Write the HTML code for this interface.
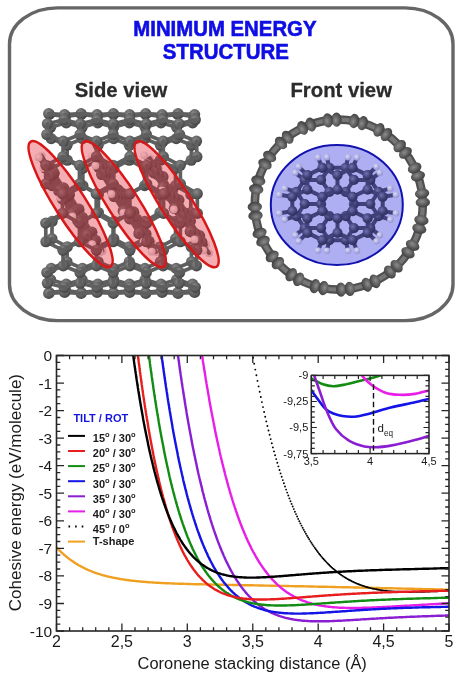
<!DOCTYPE html>
<html><head><meta charset="utf-8"><title>Minimum energy structure</title>
<style>html,body{margin:0;padding:0;background:#fff;}svg{display:block;}</style>
</head><body>
<svg width="463" height="680" viewBox="0 0 463 680">
<defs>
<radialGradient id="gb" cx="0.38" cy="0.35" r="0.7"><stop offset="0" stop-color="#9a9a9a"/><stop offset="0.5" stop-color="#5e5e5e"/><stop offset="1" stop-color="#3a3a3a"/></radialGradient>
<linearGradient id="gs" x1="0" y1="0" x2="0" y2="1"><stop offset="0" stop-color="#777"/><stop offset="1" stop-color="#4a4a4a"/></linearGradient>
<radialGradient id="gh" cx="0.38" cy="0.35" r="0.7"><stop offset="0" stop-color="#ffffff"/><stop offset="1" stop-color="#c8c8c8"/></radialGradient>
<clipPath id="plotclip"><rect x="56.5" y="355.5" width="392.5" height="275.5"/></clipPath>
<clipPath id="insclip"><rect x="311.3" y="375.4" width="117.7" height="78.2"/></clipPath>
</defs>
<rect width="463" height="680" fill="#fff"/>
<path d="M57.5,7.9 H405 A48,36 0 0 1 453,43.9 V284.6 A48,36 0 0 1 405,320.6 H57.5 A48,36 0 0 1 9.5,284.6 V43.9 A48,36 0 0 1 57.5,7.9 Z" fill="none" stroke="#666" stroke-width="3.4"/>
<text x="133.3" y="35.6" font-family="'Liberation Sans', Arial, Helvetica, sans-serif" font-weight="bold" font-size="21.4" fill="#0e0ee4" stroke="#0e0ee4" stroke-width="0.6" textLength="183.2" lengthAdjust="spacingAndGlyphs">MINIMUM ENERGY</text>
<text x="162.8" y="59" font-family="'Liberation Sans', Arial, Helvetica, sans-serif" font-weight="bold" font-size="21.4" fill="#0e0ee4" stroke="#0e0ee4" stroke-width="0.6" textLength="126" lengthAdjust="spacingAndGlyphs">STRUCTURE</text>
<text x="121" y="96.7" font-family="'Liberation Sans', Arial, Helvetica, sans-serif" font-weight="bold" font-size="20.3" fill="#2b2b2b" stroke="#2b2b2b" stroke-width="0.3" text-anchor="middle">Side view</text>
<text x="341.2" y="96.7" font-family="'Liberation Sans', Arial, Helvetica, sans-serif" font-weight="bold" font-size="20.3" fill="#2b2b2b" stroke="#2b2b2b" stroke-width="0.3" text-anchor="middle">Front view</text>
<defs><radialGradient id="gm" cx="0.38" cy="0.35" r="0.7"><stop offset="0" stop-color="#b07078"/><stop offset="0.55" stop-color="#7e3c44"/><stop offset="1" stop-color="#5a2830"/></radialGradient><radialGradient id="gmh" cx="0.38" cy="0.35" r="0.7"><stop offset="0" stop-color="#ffe8ea"/><stop offset="1" stop-color="#e8a8ae"/></radialGradient><radialGradient id="gn" cx="0.38" cy="0.35" r="0.7"><stop offset="0" stop-color="#7070b0"/><stop offset="0.55" stop-color="#404078"/><stop offset="1" stop-color="#2c2c5a"/></radialGradient><radialGradient id="gnh" cx="0.38" cy="0.35" r="0.7"><stop offset="0" stop-color="#dcdcf8"/><stop offset="1" stop-color="#8c8cd0"/></radialGradient><radialGradient id="gr" cx="0.4" cy="0.35" r="0.75"><stop offset="0" stop-color="#8a8a8a"/><stop offset="0.6" stop-color="#5a5a5a"/><stop offset="1" stop-color="#3c3c3c"/></radialGradient></defs>
<g id="tube"><line x1="67.6" y1="212.5" x2="67.6" y2="194.5" stroke="#5f5f5f" stroke-width="3.7" stroke-linecap="round"/><line x1="98.4" y1="212.5" x2="98.4" y2="194.5" stroke="#5f5f5f" stroke-width="3.7" stroke-linecap="round"/><line x1="129.2" y1="212.5" x2="129.2" y2="194.5" stroke="#5f5f5f" stroke-width="3.7" stroke-linecap="round"/><line x1="160" y1="212.5" x2="160" y2="194.5" stroke="#5f5f5f" stroke-width="3.7" stroke-linecap="round"/><line x1="190.8" y1="212.5" x2="190.8" y2="194.5" stroke="#5f5f5f" stroke-width="3.7" stroke-linecap="round"/><circle cx="67.6" cy="194.5" r="5.6" fill="url(#gr)"/><circle cx="98.4" cy="194.5" r="5.6" fill="url(#gr)"/><circle cx="129.2" cy="194.5" r="5.6" fill="url(#gr)"/><circle cx="160" cy="194.5" r="5.6" fill="url(#gr)"/><circle cx="190.8" cy="194.5" r="5.6" fill="url(#gr)"/><circle cx="67.6" cy="212.5" r="5.6" fill="url(#gr)"/><circle cx="98.4" cy="212.5" r="5.6" fill="url(#gr)"/><circle cx="129.2" cy="212.5" r="5.6" fill="url(#gr)"/><circle cx="160" cy="212.5" r="5.6" fill="url(#gr)"/><circle cx="190.8" cy="212.5" r="5.6" fill="url(#gr)"/><line x1="52.1" y1="221.4" x2="67.6" y2="212.5" stroke="#5f5f5f" stroke-width="3.7" stroke-linecap="round"/><line x1="52.1" y1="185.6" x2="67.6" y2="194.5" stroke="#5f5f5f" stroke-width="3.7" stroke-linecap="round"/><line x1="67.6" y1="212.5" x2="82.9" y2="221.4" stroke="#5f5f5f" stroke-width="3.7" stroke-linecap="round"/><line x1="67.6" y1="194.5" x2="82.9" y2="185.6" stroke="#5f5f5f" stroke-width="3.7" stroke-linecap="round"/><line x1="82.9" y1="221.4" x2="98.4" y2="212.5" stroke="#5f5f5f" stroke-width="3.7" stroke-linecap="round"/><line x1="82.9" y1="185.6" x2="98.4" y2="194.5" stroke="#5f5f5f" stroke-width="3.7" stroke-linecap="round"/><line x1="98.4" y1="212.5" x2="113.8" y2="221.4" stroke="#5f5f5f" stroke-width="3.7" stroke-linecap="round"/><line x1="98.4" y1="194.5" x2="113.8" y2="185.6" stroke="#5f5f5f" stroke-width="3.7" stroke-linecap="round"/><line x1="113.8" y1="221.4" x2="129.2" y2="212.5" stroke="#5f5f5f" stroke-width="3.7" stroke-linecap="round"/><line x1="113.8" y1="185.6" x2="129.2" y2="194.5" stroke="#5f5f5f" stroke-width="3.7" stroke-linecap="round"/><line x1="129.2" y1="212.5" x2="144.6" y2="221.4" stroke="#5f5f5f" stroke-width="3.7" stroke-linecap="round"/><line x1="129.2" y1="194.5" x2="144.6" y2="185.6" stroke="#5f5f5f" stroke-width="3.7" stroke-linecap="round"/><line x1="144.6" y1="221.4" x2="160" y2="212.5" stroke="#5f5f5f" stroke-width="3.7" stroke-linecap="round"/><line x1="144.6" y1="185.6" x2="160" y2="194.5" stroke="#5f5f5f" stroke-width="3.7" stroke-linecap="round"/><line x1="160" y1="212.5" x2="175.5" y2="221.4" stroke="#5f5f5f" stroke-width="3.7" stroke-linecap="round"/><line x1="160" y1="194.5" x2="175.5" y2="185.6" stroke="#5f5f5f" stroke-width="3.7" stroke-linecap="round"/><line x1="175.5" y1="221.4" x2="190.8" y2="212.5" stroke="#5f5f5f" stroke-width="3.7" stroke-linecap="round"/><line x1="175.5" y1="185.6" x2="190.8" y2="194.5" stroke="#5f5f5f" stroke-width="3.7" stroke-linecap="round"/><circle cx="52.1" cy="221.4" r="5.6" fill="url(#gr)"/><circle cx="52.1" cy="185.6" r="5.6" fill="url(#gr)"/><circle cx="82.9" cy="221.4" r="5.6" fill="url(#gr)"/><circle cx="82.9" cy="185.6" r="5.6" fill="url(#gr)"/><circle cx="113.8" cy="221.4" r="5.6" fill="url(#gr)"/><circle cx="113.8" cy="185.6" r="5.6" fill="url(#gr)"/><circle cx="144.6" cy="221.4" r="5.6" fill="url(#gr)"/><circle cx="144.6" cy="185.6" r="5.6" fill="url(#gr)"/><circle cx="175.5" cy="221.4" r="5.6" fill="url(#gr)"/><circle cx="175.5" cy="185.6" r="5.6" fill="url(#gr)"/><line x1="52.1" y1="185.6" x2="51.9" y2="168.3" stroke="#5f5f5f" stroke-width="3.7" stroke-linecap="round"/><line x1="82.9" y1="185.6" x2="82.8" y2="168.3" stroke="#5f5f5f" stroke-width="3.7" stroke-linecap="round"/><line x1="113.8" y1="185.6" x2="113.8" y2="168.3" stroke="#5f5f5f" stroke-width="3.7" stroke-linecap="round"/><line x1="144.6" y1="185.6" x2="144.7" y2="168.3" stroke="#5f5f5f" stroke-width="3.7" stroke-linecap="round"/><line x1="175.5" y1="185.6" x2="175.6" y2="168.3" stroke="#5f5f5f" stroke-width="3.7" stroke-linecap="round"/><line x1="51.9" y1="238.7" x2="52.1" y2="221.4" stroke="#5f5f5f" stroke-width="3.7" stroke-linecap="round"/><line x1="82.8" y1="238.7" x2="82.9" y2="221.4" stroke="#5f5f5f" stroke-width="3.7" stroke-linecap="round"/><line x1="113.8" y1="238.7" x2="113.8" y2="221.4" stroke="#5f5f5f" stroke-width="3.7" stroke-linecap="round"/><line x1="144.7" y1="238.7" x2="144.6" y2="221.4" stroke="#5f5f5f" stroke-width="3.7" stroke-linecap="round"/><line x1="175.6" y1="238.7" x2="175.5" y2="221.4" stroke="#5f5f5f" stroke-width="3.7" stroke-linecap="round"/><circle cx="51.9" cy="168.3" r="5.6" fill="url(#gr)"/><circle cx="82.8" cy="168.3" r="5.6" fill="url(#gr)"/><circle cx="113.8" cy="168.3" r="5.6" fill="url(#gr)"/><circle cx="144.7" cy="168.3" r="5.6" fill="url(#gr)"/><circle cx="175.6" cy="168.3" r="5.6" fill="url(#gr)"/><circle cx="51.9" cy="238.7" r="5.6" fill="url(#gr)"/><circle cx="82.8" cy="238.7" r="5.6" fill="url(#gr)"/><circle cx="113.8" cy="238.7" r="5.6" fill="url(#gr)"/><circle cx="144.7" cy="238.7" r="5.6" fill="url(#gr)"/><circle cx="175.6" cy="238.7" r="5.6" fill="url(#gr)"/><line x1="51.9" y1="168.3" x2="67.3" y2="160.2" stroke="#5f5f5f" stroke-width="3.7" stroke-linecap="round"/><line x1="67.3" y1="160.2" x2="82.8" y2="168.3" stroke="#5f5f5f" stroke-width="3.7" stroke-linecap="round"/><line x1="82.8" y1="168.3" x2="98.3" y2="160.2" stroke="#5f5f5f" stroke-width="3.7" stroke-linecap="round"/><line x1="98.3" y1="160.2" x2="113.8" y2="168.3" stroke="#5f5f5f" stroke-width="3.7" stroke-linecap="round"/><line x1="113.8" y1="168.3" x2="129.2" y2="160.2" stroke="#5f5f5f" stroke-width="3.7" stroke-linecap="round"/><line x1="129.2" y1="160.2" x2="144.7" y2="168.3" stroke="#5f5f5f" stroke-width="3.7" stroke-linecap="round"/><line x1="144.7" y1="168.3" x2="160.2" y2="160.2" stroke="#5f5f5f" stroke-width="3.7" stroke-linecap="round"/><line x1="160.2" y1="160.2" x2="175.6" y2="168.3" stroke="#5f5f5f" stroke-width="3.7" stroke-linecap="round"/><line x1="175.6" y1="168.3" x2="191.2" y2="160.2" stroke="#5f5f5f" stroke-width="3.7" stroke-linecap="round"/><line x1="51.9" y1="238.7" x2="67.3" y2="246.8" stroke="#5f5f5f" stroke-width="3.7" stroke-linecap="round"/><line x1="67.3" y1="246.8" x2="82.8" y2="238.7" stroke="#5f5f5f" stroke-width="3.7" stroke-linecap="round"/><line x1="82.8" y1="238.7" x2="98.3" y2="246.8" stroke="#5f5f5f" stroke-width="3.7" stroke-linecap="round"/><line x1="98.3" y1="246.8" x2="113.8" y2="238.7" stroke="#5f5f5f" stroke-width="3.7" stroke-linecap="round"/><line x1="113.8" y1="238.7" x2="129.2" y2="246.8" stroke="#5f5f5f" stroke-width="3.7" stroke-linecap="round"/><line x1="129.2" y1="246.8" x2="144.7" y2="238.7" stroke="#5f5f5f" stroke-width="3.7" stroke-linecap="round"/><line x1="144.7" y1="238.7" x2="160.2" y2="246.8" stroke="#5f5f5f" stroke-width="3.7" stroke-linecap="round"/><line x1="160.2" y1="246.8" x2="175.6" y2="238.7" stroke="#5f5f5f" stroke-width="3.7" stroke-linecap="round"/><line x1="175.6" y1="238.7" x2="191.2" y2="246.8" stroke="#5f5f5f" stroke-width="3.7" stroke-linecap="round"/><circle cx="67.3" cy="160.2" r="5.6" fill="url(#gr)"/><circle cx="98.3" cy="160.2" r="5.6" fill="url(#gr)"/><circle cx="129.2" cy="160.2" r="5.6" fill="url(#gr)"/><circle cx="160.2" cy="160.2" r="5.6" fill="url(#gr)"/><circle cx="191.2" cy="160.2" r="5.6" fill="url(#gr)"/><circle cx="67.3" cy="246.8" r="5.6" fill="url(#gr)"/><circle cx="98.3" cy="246.8" r="5.6" fill="url(#gr)"/><circle cx="129.2" cy="246.8" r="5.6" fill="url(#gr)"/><circle cx="160.2" cy="246.8" r="5.6" fill="url(#gr)"/><circle cx="191.2" cy="246.8" r="5.6" fill="url(#gr)"/><line x1="67.3" y1="160.2" x2="67" y2="145.2" stroke="#5f5f5f" stroke-width="3.7" stroke-linecap="round"/><line x1="98.3" y1="160.2" x2="98.1" y2="145.2" stroke="#5f5f5f" stroke-width="3.7" stroke-linecap="round"/><line x1="129.2" y1="160.2" x2="129.3" y2="145.2" stroke="#5f5f5f" stroke-width="3.7" stroke-linecap="round"/><line x1="160.2" y1="160.2" x2="160.4" y2="145.2" stroke="#5f5f5f" stroke-width="3.7" stroke-linecap="round"/><line x1="191.2" y1="160.2" x2="191.6" y2="145.2" stroke="#5f5f5f" stroke-width="3.7" stroke-linecap="round"/><line x1="67" y1="261.8" x2="67.3" y2="246.8" stroke="#5f5f5f" stroke-width="3.7" stroke-linecap="round"/><line x1="98.1" y1="261.8" x2="98.3" y2="246.8" stroke="#5f5f5f" stroke-width="3.7" stroke-linecap="round"/><line x1="129.3" y1="261.8" x2="129.2" y2="246.8" stroke="#5f5f5f" stroke-width="3.7" stroke-linecap="round"/><line x1="160.4" y1="261.8" x2="160.2" y2="246.8" stroke="#5f5f5f" stroke-width="3.7" stroke-linecap="round"/><line x1="191.6" y1="261.8" x2="191.2" y2="246.8" stroke="#5f5f5f" stroke-width="3.7" stroke-linecap="round"/><circle cx="67" cy="261.8" r="5.6" fill="url(#gr)"/><circle cx="98.1" cy="261.8" r="5.6" fill="url(#gr)"/><circle cx="129.3" cy="261.8" r="5.6" fill="url(#gr)"/><circle cx="160.4" cy="261.8" r="5.6" fill="url(#gr)"/><circle cx="191.6" cy="261.8" r="5.6" fill="url(#gr)"/><circle cx="67" cy="145.2" r="5.6" fill="url(#gr)"/><circle cx="98.1" cy="145.2" r="5.6" fill="url(#gr)"/><circle cx="129.3" cy="145.2" r="5.6" fill="url(#gr)"/><circle cx="160.4" cy="145.2" r="5.6" fill="url(#gr)"/><circle cx="191.6" cy="145.2" r="5.6" fill="url(#gr)"/><line x1="51.2" y1="268.4" x2="67" y2="261.8" stroke="#5f5f5f" stroke-width="3.7" stroke-linecap="round"/><line x1="67" y1="261.8" x2="82.4" y2="268.4" stroke="#5f5f5f" stroke-width="3.7" stroke-linecap="round"/><line x1="82.4" y1="268.4" x2="98.1" y2="261.8" stroke="#5f5f5f" stroke-width="3.7" stroke-linecap="round"/><line x1="98.1" y1="261.8" x2="113.7" y2="268.4" stroke="#5f5f5f" stroke-width="3.7" stroke-linecap="round"/><line x1="113.7" y1="268.4" x2="129.3" y2="261.8" stroke="#5f5f5f" stroke-width="3.7" stroke-linecap="round"/><line x1="129.3" y1="261.8" x2="144.9" y2="268.4" stroke="#5f5f5f" stroke-width="3.7" stroke-linecap="round"/><line x1="144.9" y1="268.4" x2="160.4" y2="261.8" stroke="#5f5f5f" stroke-width="3.7" stroke-linecap="round"/><line x1="160.4" y1="261.8" x2="176.2" y2="268.4" stroke="#5f5f5f" stroke-width="3.7" stroke-linecap="round"/><line x1="176.2" y1="268.4" x2="191.6" y2="261.8" stroke="#5f5f5f" stroke-width="3.7" stroke-linecap="round"/><line x1="51.2" y1="138.6" x2="67" y2="145.2" stroke="#5f5f5f" stroke-width="3.7" stroke-linecap="round"/><line x1="67" y1="145.2" x2="82.4" y2="138.6" stroke="#5f5f5f" stroke-width="3.7" stroke-linecap="round"/><line x1="82.4" y1="138.6" x2="98.1" y2="145.2" stroke="#5f5f5f" stroke-width="3.7" stroke-linecap="round"/><line x1="98.1" y1="145.2" x2="113.7" y2="138.6" stroke="#5f5f5f" stroke-width="3.7" stroke-linecap="round"/><line x1="113.7" y1="138.6" x2="129.3" y2="145.2" stroke="#5f5f5f" stroke-width="3.7" stroke-linecap="round"/><line x1="129.3" y1="145.2" x2="144.9" y2="138.6" stroke="#5f5f5f" stroke-width="3.7" stroke-linecap="round"/><line x1="144.9" y1="138.6" x2="160.4" y2="145.2" stroke="#5f5f5f" stroke-width="3.7" stroke-linecap="round"/><line x1="160.4" y1="145.2" x2="176.2" y2="138.6" stroke="#5f5f5f" stroke-width="3.7" stroke-linecap="round"/><line x1="176.2" y1="138.6" x2="191.6" y2="145.2" stroke="#5f5f5f" stroke-width="3.7" stroke-linecap="round"/><circle cx="51.2" cy="268.4" r="5.6" fill="url(#gr)"/><circle cx="82.4" cy="268.4" r="5.6" fill="url(#gr)"/><circle cx="113.7" cy="268.4" r="5.6" fill="url(#gr)"/><circle cx="144.9" cy="268.4" r="5.6" fill="url(#gr)"/><circle cx="176.2" cy="268.4" r="5.6" fill="url(#gr)"/><circle cx="51.2" cy="138.6" r="5.6" fill="url(#gr)"/><circle cx="82.4" cy="138.6" r="5.6" fill="url(#gr)"/><circle cx="113.7" cy="138.6" r="5.6" fill="url(#gr)"/><circle cx="144.9" cy="138.6" r="5.6" fill="url(#gr)"/><circle cx="176.2" cy="138.6" r="5.6" fill="url(#gr)"/><circle cx="179.4" cy="198.9" r="3.9" fill="url(#gh)"/><circle cx="124.3" cy="195.4" r="3.9" fill="url(#gh)"/><circle cx="81" cy="211" r="3.9" fill="url(#gh)"/><circle cx="68.8" cy="191.9" r="3.9" fill="url(#gh)"/><circle cx="136.3" cy="214.4" r="3.9" fill="url(#gh)"/><circle cx="191.2" cy="217.9" r="3.9" fill="url(#gh)"/><line x1="50.6" y1="279.7" x2="51.2" y2="268.4" stroke="#5f5f5f" stroke-width="3.7" stroke-linecap="round"/><line x1="82.1" y1="279.7" x2="82.4" y2="268.4" stroke="#5f5f5f" stroke-width="3.7" stroke-linecap="round"/><line x1="113.6" y1="279.7" x2="113.7" y2="268.4" stroke="#5f5f5f" stroke-width="3.7" stroke-linecap="round"/><line x1="145.1" y1="279.7" x2="144.9" y2="268.4" stroke="#5f5f5f" stroke-width="3.7" stroke-linecap="round"/><line x1="176.6" y1="279.7" x2="176.2" y2="268.4" stroke="#5f5f5f" stroke-width="3.7" stroke-linecap="round"/><line x1="51.2" y1="138.6" x2="50.6" y2="127.3" stroke="#5f5f5f" stroke-width="3.7" stroke-linecap="round"/><line x1="82.4" y1="138.6" x2="82.1" y2="127.3" stroke="#5f5f5f" stroke-width="3.7" stroke-linecap="round"/><line x1="113.7" y1="138.6" x2="113.6" y2="127.3" stroke="#5f5f5f" stroke-width="3.7" stroke-linecap="round"/><line x1="144.9" y1="138.6" x2="145.1" y2="127.3" stroke="#5f5f5f" stroke-width="3.7" stroke-linecap="round"/><line x1="176.2" y1="138.6" x2="176.6" y2="127.3" stroke="#5f5f5f" stroke-width="3.7" stroke-linecap="round"/><line x1="178.7" y1="200.1" x2="179.4" y2="198.9" stroke="#5f5f5f" stroke-width="4" stroke-linecap="round"/><line x1="124.2" y1="197.4" x2="124.3" y2="195.4" stroke="#5f5f5f" stroke-width="4" stroke-linecap="round"/><line x1="78.7" y1="209.4" x2="81" y2="211" stroke="#5f5f5f" stroke-width="4" stroke-linecap="round"/><line x1="69.2" y1="194.7" x2="68.8" y2="191.9" stroke="#5f5f5f" stroke-width="4" stroke-linecap="round"/><line x1="133.5" y1="212.1" x2="136.3" y2="214.4" stroke="#5f5f5f" stroke-width="4" stroke-linecap="round"/><line x1="187.9" y1="214.8" x2="191.2" y2="217.9" stroke="#5f5f5f" stroke-width="4" stroke-linecap="round"/><circle cx="178.7" cy="200.1" r="5.8" fill="url(#gr)"/><circle cx="124.2" cy="197.4" r="5.8" fill="url(#gr)"/><line x1="69.2" y1="194.7" x2="78.7" y2="209.4" stroke="#5f5f5f" stroke-width="4" stroke-linecap="round"/><line x1="124.2" y1="197.4" x2="133.5" y2="212.1" stroke="#5f5f5f" stroke-width="4" stroke-linecap="round"/><circle cx="78.7" cy="209.4" r="5.8" fill="url(#gr)"/><circle cx="69.2" cy="194.7" r="5.8" fill="url(#gr)"/><line x1="178.7" y1="200.1" x2="187.9" y2="214.8" stroke="#5f5f5f" stroke-width="4" stroke-linecap="round"/><circle cx="50.6" cy="279.7" r="5.6" fill="url(#gr)"/><circle cx="82.1" cy="279.7" r="5.6" fill="url(#gr)"/><circle cx="113.6" cy="279.7" r="5.6" fill="url(#gr)"/><circle cx="145.1" cy="279.7" r="5.6" fill="url(#gr)"/><circle cx="176.6" cy="279.7" r="5.6" fill="url(#gr)"/><circle cx="50.6" cy="127.3" r="5.6" fill="url(#gr)"/><circle cx="82.1" cy="127.3" r="5.6" fill="url(#gr)"/><circle cx="113.6" cy="127.3" r="5.6" fill="url(#gr)"/><circle cx="145.1" cy="127.3" r="5.6" fill="url(#gr)"/><circle cx="176.6" cy="127.3" r="5.6" fill="url(#gr)"/><circle cx="158.7" cy="169" r="3.9" fill="url(#gh)"/><circle cx="133.5" cy="212.1" r="5.8" fill="url(#gr)"/><circle cx="187.9" cy="214.8" r="5.8" fill="url(#gr)"/><circle cx="104.1" cy="166.5" r="3.9" fill="url(#gh)"/><line x1="50.6" y1="279.7" x2="66.2" y2="284.2" stroke="#5f5f5f" stroke-width="3.7" stroke-linecap="round"/><line x1="66.2" y1="284.2" x2="82.1" y2="279.7" stroke="#5f5f5f" stroke-width="3.7" stroke-linecap="round"/><line x1="82.1" y1="279.7" x2="97.8" y2="284.2" stroke="#5f5f5f" stroke-width="3.7" stroke-linecap="round"/><line x1="97.8" y1="284.2" x2="113.6" y2="279.7" stroke="#5f5f5f" stroke-width="3.7" stroke-linecap="round"/><line x1="113.6" y1="279.7" x2="129.4" y2="284.2" stroke="#5f5f5f" stroke-width="3.7" stroke-linecap="round"/><line x1="129.4" y1="284.2" x2="145.1" y2="279.7" stroke="#5f5f5f" stroke-width="3.7" stroke-linecap="round"/><line x1="145.1" y1="279.7" x2="161" y2="284.2" stroke="#5f5f5f" stroke-width="3.7" stroke-linecap="round"/><line x1="161" y1="284.2" x2="176.6" y2="279.7" stroke="#5f5f5f" stroke-width="3.7" stroke-linecap="round"/><line x1="176.6" y1="279.7" x2="192.6" y2="284.2" stroke="#5f5f5f" stroke-width="3.7" stroke-linecap="round"/><line x1="50.6" y1="127.3" x2="66.2" y2="122.8" stroke="#5f5f5f" stroke-width="3.7" stroke-linecap="round"/><line x1="66.2" y1="122.8" x2="82.1" y2="127.3" stroke="#5f5f5f" stroke-width="3.7" stroke-linecap="round"/><line x1="82.1" y1="127.3" x2="97.8" y2="122.8" stroke="#5f5f5f" stroke-width="3.7" stroke-linecap="round"/><line x1="97.8" y1="122.8" x2="113.6" y2="127.3" stroke="#5f5f5f" stroke-width="3.7" stroke-linecap="round"/><line x1="113.6" y1="127.3" x2="129.4" y2="122.8" stroke="#5f5f5f" stroke-width="3.7" stroke-linecap="round"/><line x1="129.4" y1="122.8" x2="145.1" y2="127.3" stroke="#5f5f5f" stroke-width="3.7" stroke-linecap="round"/><line x1="145.1" y1="127.3" x2="161" y2="122.8" stroke="#5f5f5f" stroke-width="3.7" stroke-linecap="round"/><line x1="161" y1="122.8" x2="176.6" y2="127.3" stroke="#5f5f5f" stroke-width="3.7" stroke-linecap="round"/><line x1="176.6" y1="127.3" x2="192.6" y2="122.8" stroke="#5f5f5f" stroke-width="3.7" stroke-linecap="round"/><line x1="162.8" y1="176.9" x2="158.7" y2="169" stroke="#5f5f5f" stroke-width="4" stroke-linecap="round"/><line x1="171.9" y1="191.6" x2="178.7" y2="200.1" stroke="#5f5f5f" stroke-width="4" stroke-linecap="round"/><circle cx="97.8" cy="240.4" r="3.9" fill="url(#gh)"/><circle cx="49.1" cy="164.3" r="3.9" fill="url(#gh)"/><line x1="117.8" y1="189.8" x2="124.2" y2="197.4" stroke="#5f5f5f" stroke-width="4" stroke-linecap="round"/><line x1="82.3" y1="217.5" x2="78.7" y2="209.4" stroke="#5f5f5f" stroke-width="4" stroke-linecap="round"/><line x1="63.4" y1="188" x2="69.2" y2="194.7" stroke="#5f5f5f" stroke-width="4" stroke-linecap="round"/><line x1="108.5" y1="175" x2="104.1" y2="166.5" stroke="#5f5f5f" stroke-width="4" stroke-linecap="round"/><line x1="136.5" y1="219.3" x2="133.5" y2="212.1" stroke="#5f5f5f" stroke-width="4" stroke-linecap="round"/><circle cx="66.2" cy="284.2" r="5.6" fill="url(#gr)"/><circle cx="97.8" cy="284.2" r="5.6" fill="url(#gr)"/><circle cx="129.4" cy="284.2" r="5.6" fill="url(#gr)"/><circle cx="161" cy="284.2" r="5.6" fill="url(#gr)"/><circle cx="192.6" cy="284.2" r="5.6" fill="url(#gr)"/><circle cx="66.2" cy="122.8" r="5.6" fill="url(#gr)"/><circle cx="97.8" cy="122.8" r="5.6" fill="url(#gr)"/><circle cx="129.4" cy="122.8" r="5.6" fill="url(#gr)"/><circle cx="161" cy="122.8" r="5.6" fill="url(#gr)"/><circle cx="192.6" cy="122.8" r="5.6" fill="url(#gr)"/><line x1="190.2" y1="221.1" x2="187.9" y2="214.8" stroke="#5f5f5f" stroke-width="4" stroke-linecap="round"/><circle cx="152.2" cy="242.8" r="3.9" fill="url(#gh)"/><line x1="91.7" y1="232.3" x2="97.8" y2="240.4" stroke="#5f5f5f" stroke-width="4" stroke-linecap="round"/><line x1="54" y1="173.3" x2="49.1" y2="164.3" stroke="#5f5f5f" stroke-width="4" stroke-linecap="round"/><circle cx="162.8" cy="176.9" r="5.8" fill="url(#gr)"/><line x1="162.8" y1="176.9" x2="171.9" y2="191.6" stroke="#5f5f5f" stroke-width="4" stroke-linecap="round"/><circle cx="108.5" cy="175" r="5.8" fill="url(#gr)"/><circle cx="206" cy="245" r="3.9" fill="url(#gh)"/><circle cx="171.9" cy="191.6" r="5.8" fill="url(#gr)"/><line x1="108.5" y1="175" x2="117.8" y2="189.8" stroke="#5f5f5f" stroke-width="4" stroke-linecap="round"/><line x1="145.8" y1="234.1" x2="152.2" y2="242.8" stroke="#5f5f5f" stroke-width="4" stroke-linecap="round"/><circle cx="117.8" cy="189.8" r="5.8" fill="url(#gr)"/><line x1="82.3" y1="217.5" x2="91.7" y2="232.3" stroke="#5f5f5f" stroke-width="4" stroke-linecap="round"/><line x1="54" y1="173.3" x2="63.4" y2="188" stroke="#5f5f5f" stroke-width="4" stroke-linecap="round"/><circle cx="91.7" cy="232.3" r="5.8" fill="url(#gr)"/><circle cx="63.4" cy="188" r="5.8" fill="url(#gr)"/><circle cx="54" cy="173.3" r="5.8" fill="url(#gr)"/><circle cx="82.3" cy="217.5" r="5.8" fill="url(#gr)"/><line x1="199.4" y1="235.8" x2="206" y2="245" stroke="#5f5f5f" stroke-width="4" stroke-linecap="round"/><circle cx="136.5" cy="219.3" r="5.8" fill="url(#gr)"/><line x1="136.5" y1="219.3" x2="145.8" y2="234.1" stroke="#5f5f5f" stroke-width="4" stroke-linecap="round"/><line x1="155.9" y1="168.5" x2="162.8" y2="176.9" stroke="#5f5f5f" stroke-width="4" stroke-linecap="round"/><line x1="65.7" y1="290.7" x2="66.2" y2="284.2" stroke="#5f5f5f" stroke-width="3.7" stroke-linecap="round"/><line x1="97.6" y1="290.7" x2="97.8" y2="284.2" stroke="#5f5f5f" stroke-width="3.7" stroke-linecap="round"/><line x1="129.5" y1="290.7" x2="129.4" y2="284.2" stroke="#5f5f5f" stroke-width="3.7" stroke-linecap="round"/><line x1="161.4" y1="290.7" x2="161" y2="284.2" stroke="#5f5f5f" stroke-width="3.7" stroke-linecap="round"/><line x1="193.3" y1="290.7" x2="192.6" y2="284.2" stroke="#5f5f5f" stroke-width="3.7" stroke-linecap="round"/><line x1="66.2" y1="122.8" x2="65.7" y2="116.3" stroke="#5f5f5f" stroke-width="3.7" stroke-linecap="round"/><line x1="97.8" y1="122.8" x2="97.6" y2="116.3" stroke="#5f5f5f" stroke-width="3.7" stroke-linecap="round"/><line x1="129.4" y1="122.8" x2="129.5" y2="116.3" stroke="#5f5f5f" stroke-width="3.7" stroke-linecap="round"/><line x1="161" y1="122.8" x2="161.4" y2="116.3" stroke="#5f5f5f" stroke-width="3.7" stroke-linecap="round"/><line x1="192.6" y1="122.8" x2="193.3" y2="116.3" stroke="#5f5f5f" stroke-width="3.7" stroke-linecap="round"/><circle cx="145.8" cy="234.1" r="5.8" fill="url(#gr)"/><circle cx="190.2" cy="221.1" r="5.8" fill="url(#gr)"/><circle cx="149.9" cy="158.1" r="3.9" fill="url(#gh)"/><line x1="190.2" y1="221.1" x2="199.4" y2="235.8" stroke="#5f5f5f" stroke-width="4" stroke-linecap="round"/><line x1="102.2" y1="167.5" x2="108.5" y2="175" stroke="#5f5f5f" stroke-width="4" stroke-linecap="round"/><circle cx="199.4" cy="235.8" r="5.8" fill="url(#gr)"/><line x1="174.3" y1="197.9" x2="171.9" y2="191.6" stroke="#5f5f5f" stroke-width="4" stroke-linecap="round"/><line x1="155.9" y1="168.5" x2="149.9" y2="158.1" stroke="#5f5f5f" stroke-width="4" stroke-linecap="round"/><line x1="120.8" y1="197" x2="117.8" y2="189.8" stroke="#5f5f5f" stroke-width="4" stroke-linecap="round"/><circle cx="95.9" cy="156.8" r="3.9" fill="url(#gh)"/><line x1="95.3" y1="240.3" x2="91.7" y2="232.3" stroke="#5f5f5f" stroke-width="4" stroke-linecap="round"/><line x1="48.1" y1="166.6" x2="54" y2="173.3" stroke="#5f5f5f" stroke-width="4" stroke-linecap="round"/><line x1="67" y1="196.1" x2="63.4" y2="188" stroke="#5f5f5f" stroke-width="4" stroke-linecap="round"/><line x1="76.4" y1="210.9" x2="82.3" y2="217.5" stroke="#5f5f5f" stroke-width="4" stroke-linecap="round"/><line x1="130.1" y1="211.8" x2="136.5" y2="219.3" stroke="#5f5f5f" stroke-width="4" stroke-linecap="round"/><line x1="102.2" y1="167.5" x2="95.9" y2="156.8" stroke="#5f5f5f" stroke-width="4" stroke-linecap="round"/><circle cx="155.9" cy="168.5" r="5.8" fill="url(#gr)"/><line x1="183.4" y1="212.6" x2="190.2" y2="221.1" stroke="#5f5f5f" stroke-width="4" stroke-linecap="round"/><line x1="148.8" y1="241.3" x2="145.8" y2="234.1" stroke="#5f5f5f" stroke-width="4" stroke-linecap="round"/><circle cx="102.5" cy="250.9" r="3.9" fill="url(#gh)"/><circle cx="41.6" cy="155.7" r="3.9" fill="url(#gh)"/><circle cx="65.7" cy="290.7" r="5.6" fill="url(#gr)"/><circle cx="97.6" cy="290.7" r="5.6" fill="url(#gr)"/><circle cx="129.5" cy="290.7" r="5.6" fill="url(#gr)"/><circle cx="161.4" cy="290.7" r="5.6" fill="url(#gr)"/><circle cx="193.3" cy="290.7" r="5.6" fill="url(#gr)"/><circle cx="65.7" cy="116.3" r="5.6" fill="url(#gr)"/><circle cx="97.6" cy="116.3" r="5.6" fill="url(#gr)"/><circle cx="129.5" cy="116.3" r="5.6" fill="url(#gr)"/><circle cx="161.4" cy="116.3" r="5.6" fill="url(#gr)"/><circle cx="193.3" cy="116.3" r="5.6" fill="url(#gr)"/><circle cx="102.2" cy="167.5" r="5.8" fill="url(#gr)"/><line x1="95.3" y1="240.3" x2="102.5" y2="250.9" stroke="#5f5f5f" stroke-width="4" stroke-linecap="round"/><line x1="48.1" y1="166.6" x2="41.6" y2="155.7" stroke="#5f5f5f" stroke-width="4" stroke-linecap="round"/><line x1="201.7" y1="242.1" x2="199.4" y2="235.8" stroke="#5f5f5f" stroke-width="4" stroke-linecap="round"/><circle cx="174.3" cy="197.9" r="5.8" fill="url(#gr)"/><circle cx="120.8" cy="197" r="5.8" fill="url(#gr)"/><circle cx="156" cy="252.1" r="3.9" fill="url(#gh)"/><line x1="67" y1="196.1" x2="76.4" y2="210.9" stroke="#5f5f5f" stroke-width="4" stroke-linecap="round"/><line x1="120.8" y1="197" x2="130.1" y2="211.8" stroke="#5f5f5f" stroke-width="4" stroke-linecap="round"/><line x1="174.3" y1="197.9" x2="183.4" y2="212.6" stroke="#5f5f5f" stroke-width="4" stroke-linecap="round"/><circle cx="95.3" cy="240.3" r="5.8" fill="url(#gr)"/><circle cx="48.1" cy="166.6" r="5.8" fill="url(#gr)"/><circle cx="76.4" cy="210.9" r="5.8" fill="url(#gr)"/><circle cx="67" cy="196.1" r="5.8" fill="url(#gr)"/><line x1="49.4" y1="114.4" x2="65.7" y2="116.3" stroke="#5f5f5f" stroke-width="3.7" stroke-linecap="round"/><line x1="65.7" y1="116.3" x2="81.4" y2="114.4" stroke="#5f5f5f" stroke-width="3.7" stroke-linecap="round"/><line x1="81.4" y1="114.4" x2="97.6" y2="116.3" stroke="#5f5f5f" stroke-width="3.7" stroke-linecap="round"/><line x1="97.6" y1="116.3" x2="113.5" y2="114.4" stroke="#5f5f5f" stroke-width="3.7" stroke-linecap="round"/><line x1="113.5" y1="114.4" x2="129.5" y2="116.3" stroke="#5f5f5f" stroke-width="3.7" stroke-linecap="round"/><line x1="129.5" y1="116.3" x2="145.5" y2="114.4" stroke="#5f5f5f" stroke-width="3.7" stroke-linecap="round"/><line x1="145.5" y1="114.4" x2="161.4" y2="116.3" stroke="#5f5f5f" stroke-width="3.7" stroke-linecap="round"/><line x1="161.4" y1="116.3" x2="177.6" y2="114.4" stroke="#5f5f5f" stroke-width="3.7" stroke-linecap="round"/><line x1="177.6" y1="114.4" x2="193.3" y2="116.3" stroke="#5f5f5f" stroke-width="3.7" stroke-linecap="round"/><line x1="49.4" y1="292.6" x2="65.7" y2="290.7" stroke="#5f5f5f" stroke-width="3.7" stroke-linecap="round"/><line x1="65.7" y1="290.7" x2="81.4" y2="292.6" stroke="#5f5f5f" stroke-width="3.7" stroke-linecap="round"/><line x1="81.4" y1="292.6" x2="97.6" y2="290.7" stroke="#5f5f5f" stroke-width="3.7" stroke-linecap="round"/><line x1="97.6" y1="290.7" x2="113.5" y2="292.6" stroke="#5f5f5f" stroke-width="3.7" stroke-linecap="round"/><line x1="113.5" y1="292.6" x2="129.5" y2="290.7" stroke="#5f5f5f" stroke-width="3.7" stroke-linecap="round"/><line x1="129.5" y1="290.7" x2="145.5" y2="292.6" stroke="#5f5f5f" stroke-width="3.7" stroke-linecap="round"/><line x1="145.5" y1="292.6" x2="161.4" y2="290.7" stroke="#5f5f5f" stroke-width="3.7" stroke-linecap="round"/><line x1="161.4" y1="290.7" x2="177.6" y2="292.6" stroke="#5f5f5f" stroke-width="3.7" stroke-linecap="round"/><line x1="177.6" y1="292.6" x2="193.3" y2="290.7" stroke="#5f5f5f" stroke-width="3.7" stroke-linecap="round"/><circle cx="130.1" cy="211.8" r="5.8" fill="url(#gr)"/><line x1="148.8" y1="241.3" x2="156" y2="252.1" stroke="#5f5f5f" stroke-width="4" stroke-linecap="round"/><circle cx="183.4" cy="212.6" r="5.8" fill="url(#gr)"/><line x1="158.3" y1="174.8" x2="155.9" y2="168.5" stroke="#5f5f5f" stroke-width="4" stroke-linecap="round"/><circle cx="148.8" cy="241.3" r="5.8" fill="url(#gr)"/><circle cx="209" cy="253.1" r="3.9" fill="url(#gh)"/><line x1="105.2" y1="174.7" x2="102.2" y2="167.5" stroke="#5f5f5f" stroke-width="4" stroke-linecap="round"/><line x1="201.7" y1="242.1" x2="209" y2="253.1" stroke="#5f5f5f" stroke-width="4" stroke-linecap="round"/><line x1="167.4" y1="189.5" x2="174.3" y2="197.9" stroke="#5f5f5f" stroke-width="4" stroke-linecap="round"/><circle cx="49.4" cy="114.4" r="5.6" fill="url(#gr)"/><circle cx="81.4" cy="114.4" r="5.6" fill="url(#gr)"/><circle cx="113.5" cy="114.4" r="5.6" fill="url(#gr)"/><circle cx="145.5" cy="114.4" r="5.6" fill="url(#gr)"/><circle cx="177.6" cy="114.4" r="5.6" fill="url(#gr)"/><circle cx="49.4" cy="292.6" r="5.6" fill="url(#gr)"/><circle cx="81.4" cy="292.6" r="5.6" fill="url(#gr)"/><circle cx="113.5" cy="292.6" r="5.6" fill="url(#gr)"/><circle cx="145.5" cy="292.6" r="5.6" fill="url(#gr)"/><circle cx="177.6" cy="292.6" r="5.6" fill="url(#gr)"/><circle cx="201.7" cy="242.1" r="5.8" fill="url(#gr)"/><line x1="114.5" y1="189.4" x2="120.8" y2="197" stroke="#5f5f5f" stroke-width="4" stroke-linecap="round"/><line x1="89.5" y1="233.7" x2="95.3" y2="240.3" stroke="#5f5f5f" stroke-width="4" stroke-linecap="round"/><line x1="80" y1="218.9" x2="76.4" y2="210.9" stroke="#5f5f5f" stroke-width="4" stroke-linecap="round"/><line x1="51.7" y1="174.7" x2="48.1" y2="166.6" stroke="#5f5f5f" stroke-width="4" stroke-linecap="round"/><line x1="61.2" y1="189.5" x2="67" y2="196.1" stroke="#5f5f5f" stroke-width="4" stroke-linecap="round"/><line x1="133.1" y1="219" x2="130.1" y2="211.8" stroke="#5f5f5f" stroke-width="4" stroke-linecap="round"/><line x1="185.8" y1="218.9" x2="183.4" y2="212.6" stroke="#5f5f5f" stroke-width="4" stroke-linecap="round"/><line x1="142.4" y1="233.7" x2="148.8" y2="241.3" stroke="#5f5f5f" stroke-width="4" stroke-linecap="round"/><circle cx="158.3" cy="174.8" r="5.8" fill="url(#gr)"/><line x1="167.4" y1="189.5" x2="158.3" y2="174.8" stroke="#5f5f5f" stroke-width="4" stroke-linecap="round"/><circle cx="105.2" cy="174.7" r="5.8" fill="url(#gr)"/><circle cx="167.4" cy="189.5" r="5.8" fill="url(#gr)"/><line x1="194.9" y1="233.6" x2="201.7" y2="242.1" stroke="#5f5f5f" stroke-width="4" stroke-linecap="round"/><line x1="114.5" y1="189.4" x2="105.2" y2="174.7" stroke="#5f5f5f" stroke-width="4" stroke-linecap="round"/><circle cx="114.5" cy="189.4" r="5.8" fill="url(#gr)"/><line x1="49.4" y1="114.4" x2="48.7" y2="113.6" stroke="#5f5f5f" stroke-width="3.7" stroke-linecap="round"/><line x1="81.4" y1="114.4" x2="81.1" y2="113.6" stroke="#5f5f5f" stroke-width="3.7" stroke-linecap="round"/><line x1="113.5" y1="114.4" x2="113.4" y2="113.6" stroke="#5f5f5f" stroke-width="3.7" stroke-linecap="round"/><line x1="145.5" y1="114.4" x2="145.8" y2="113.6" stroke="#5f5f5f" stroke-width="3.7" stroke-linecap="round"/><line x1="177.6" y1="114.4" x2="178.1" y2="113.6" stroke="#5f5f5f" stroke-width="3.7" stroke-linecap="round"/><line x1="48.7" y1="293.4" x2="49.4" y2="292.6" stroke="#5f5f5f" stroke-width="3.7" stroke-linecap="round"/><line x1="81.1" y1="293.4" x2="81.4" y2="292.6" stroke="#5f5f5f" stroke-width="3.7" stroke-linecap="round"/><line x1="113.4" y1="293.4" x2="113.5" y2="292.6" stroke="#5f5f5f" stroke-width="3.7" stroke-linecap="round"/><line x1="145.8" y1="293.4" x2="145.5" y2="292.6" stroke="#5f5f5f" stroke-width="3.7" stroke-linecap="round"/><line x1="178.1" y1="293.4" x2="177.6" y2="292.6" stroke="#5f5f5f" stroke-width="3.7" stroke-linecap="round"/><line x1="80" y1="218.9" x2="89.5" y2="233.7" stroke="#5f5f5f" stroke-width="4" stroke-linecap="round"/><line x1="61.2" y1="189.5" x2="51.7" y2="174.7" stroke="#5f5f5f" stroke-width="4" stroke-linecap="round"/><circle cx="89.5" cy="233.7" r="5.8" fill="url(#gr)"/><circle cx="80" cy="218.9" r="5.8" fill="url(#gr)"/><circle cx="51.7" cy="174.7" r="5.8" fill="url(#gr)"/><circle cx="61.2" cy="189.5" r="5.8" fill="url(#gr)"/><circle cx="133.1" cy="219" r="5.8" fill="url(#gr)"/><line x1="133.1" y1="219" x2="142.4" y2="233.7" stroke="#5f5f5f" stroke-width="4" stroke-linecap="round"/><line x1="151.5" y1="166.3" x2="158.3" y2="174.8" stroke="#5f5f5f" stroke-width="4" stroke-linecap="round"/><circle cx="185.8" cy="218.9" r="5.8" fill="url(#gr)"/><circle cx="142.4" cy="233.7" r="5.8" fill="url(#gr)"/><line x1="185.8" y1="218.9" x2="194.9" y2="233.6" stroke="#5f5f5f" stroke-width="4" stroke-linecap="round"/><line x1="98.8" y1="167.1" x2="105.2" y2="174.7" stroke="#5f5f5f" stroke-width="4" stroke-linecap="round"/><circle cx="194.9" cy="233.6" r="5.8" fill="url(#gr)"/><line x1="169.8" y1="195.8" x2="167.4" y2="189.5" stroke="#5f5f5f" stroke-width="4" stroke-linecap="round"/><line x1="117.5" y1="196.6" x2="114.5" y2="189.4" stroke="#5f5f5f" stroke-width="4" stroke-linecap="round"/><line x1="93.1" y1="241.8" x2="89.5" y2="233.7" stroke="#5f5f5f" stroke-width="4" stroke-linecap="round"/><line x1="80" y1="218.9" x2="74.2" y2="212.3" stroke="#5f5f5f" stroke-width="4" stroke-linecap="round"/><line x1="45.9" y1="168.1" x2="51.7" y2="174.7" stroke="#5f5f5f" stroke-width="4" stroke-linecap="round"/><line x1="64.8" y1="197.5" x2="61.2" y2="189.5" stroke="#5f5f5f" stroke-width="4" stroke-linecap="round"/><line x1="133.1" y1="219" x2="126.8" y2="211.4" stroke="#5f5f5f" stroke-width="4" stroke-linecap="round"/><circle cx="151.5" cy="166.3" r="5.8" fill="url(#gr)"/><line x1="185.8" y1="218.9" x2="178.9" y2="210.5" stroke="#5f5f5f" stroke-width="4" stroke-linecap="round"/><circle cx="48.7" cy="293.4" r="5.6" fill="url(#gr)"/><circle cx="81.1" cy="293.4" r="5.6" fill="url(#gr)"/><circle cx="113.4" cy="293.4" r="5.6" fill="url(#gr)"/><circle cx="145.8" cy="293.4" r="5.6" fill="url(#gr)"/><circle cx="178.1" cy="293.4" r="5.6" fill="url(#gr)"/><circle cx="48.7" cy="113.6" r="5.6" fill="url(#gr)"/><circle cx="81.1" cy="113.6" r="5.6" fill="url(#gr)"/><circle cx="113.4" cy="113.6" r="5.6" fill="url(#gr)"/><circle cx="145.8" cy="113.6" r="5.6" fill="url(#gr)"/><circle cx="178.1" cy="113.6" r="5.6" fill="url(#gr)"/><line x1="151.5" y1="166.3" x2="144.2" y2="155.3" stroke="#5f5f5f" stroke-width="4" stroke-linecap="round"/><line x1="145.4" y1="240.9" x2="142.4" y2="233.7" stroke="#5f5f5f" stroke-width="4" stroke-linecap="round"/><circle cx="144.2" cy="155.3" r="3.9" fill="url(#gh)"/><circle cx="98.8" cy="167.1" r="5.8" fill="url(#gr)"/><line x1="197.3" y1="239.9" x2="194.9" y2="233.6" stroke="#5f5f5f" stroke-width="4" stroke-linecap="round"/><line x1="98.8" y1="167.1" x2="91.6" y2="156.3" stroke="#5f5f5f" stroke-width="4" stroke-linecap="round"/><line x1="48.7" y1="293.4" x2="64.6" y2="292.4" stroke="#5f5f5f" stroke-width="3.7" stroke-linecap="round"/><line x1="64.6" y1="292.4" x2="81.1" y2="293.4" stroke="#5f5f5f" stroke-width="3.7" stroke-linecap="round"/><line x1="81.1" y1="293.4" x2="97.1" y2="292.4" stroke="#5f5f5f" stroke-width="3.7" stroke-linecap="round"/><line x1="97.1" y1="292.4" x2="113.4" y2="293.4" stroke="#5f5f5f" stroke-width="3.7" stroke-linecap="round"/><line x1="113.4" y1="293.4" x2="129.6" y2="292.4" stroke="#5f5f5f" stroke-width="3.7" stroke-linecap="round"/><line x1="129.6" y1="292.4" x2="145.8" y2="293.4" stroke="#5f5f5f" stroke-width="3.7" stroke-linecap="round"/><line x1="145.8" y1="293.4" x2="162.1" y2="292.4" stroke="#5f5f5f" stroke-width="3.7" stroke-linecap="round"/><line x1="162.1" y1="292.4" x2="178.1" y2="293.4" stroke="#5f5f5f" stroke-width="3.7" stroke-linecap="round"/><line x1="178.1" y1="293.4" x2="194.6" y2="292.4" stroke="#5f5f5f" stroke-width="3.7" stroke-linecap="round"/><line x1="48.7" y1="113.6" x2="64.6" y2="114.6" stroke="#5f5f5f" stroke-width="3.7" stroke-linecap="round"/><line x1="64.6" y1="114.6" x2="81.1" y2="113.6" stroke="#5f5f5f" stroke-width="3.7" stroke-linecap="round"/><line x1="81.1" y1="113.6" x2="97.1" y2="114.6" stroke="#5f5f5f" stroke-width="3.7" stroke-linecap="round"/><line x1="97.1" y1="114.6" x2="113.4" y2="113.6" stroke="#5f5f5f" stroke-width="3.7" stroke-linecap="round"/><line x1="113.4" y1="113.6" x2="129.6" y2="114.6" stroke="#5f5f5f" stroke-width="3.7" stroke-linecap="round"/><line x1="129.6" y1="114.6" x2="145.8" y2="113.6" stroke="#5f5f5f" stroke-width="3.7" stroke-linecap="round"/><line x1="145.8" y1="113.6" x2="162.1" y2="114.6" stroke="#5f5f5f" stroke-width="3.7" stroke-linecap="round"/><line x1="162.1" y1="114.6" x2="178.1" y2="113.6" stroke="#5f5f5f" stroke-width="3.7" stroke-linecap="round"/><line x1="178.1" y1="113.6" x2="194.6" y2="114.6" stroke="#5f5f5f" stroke-width="3.7" stroke-linecap="round"/><circle cx="169.8" cy="195.8" r="5.8" fill="url(#gr)"/><circle cx="117.5" cy="196.6" r="5.8" fill="url(#gr)"/><line x1="178.9" y1="210.5" x2="169.8" y2="195.8" stroke="#5f5f5f" stroke-width="4" stroke-linecap="round"/><line x1="126.8" y1="211.4" x2="117.5" y2="196.6" stroke="#5f5f5f" stroke-width="4" stroke-linecap="round"/><line x1="74.2" y1="212.3" x2="64.8" y2="197.5" stroke="#5f5f5f" stroke-width="4" stroke-linecap="round"/><circle cx="93.1" cy="241.8" r="5.8" fill="url(#gr)"/><circle cx="74.2" cy="212.3" r="5.8" fill="url(#gr)"/><circle cx="45.9" cy="168.1" r="5.8" fill="url(#gr)"/><circle cx="64.8" cy="197.5" r="5.8" fill="url(#gr)"/><circle cx="91.6" cy="156.3" r="3.9" fill="url(#gh)"/><circle cx="126.8" cy="211.4" r="5.8" fill="url(#gr)"/><circle cx="178.9" cy="210.5" r="5.8" fill="url(#gr)"/><line x1="153.8" y1="172.6" x2="151.5" y2="166.3" stroke="#5f5f5f" stroke-width="4" stroke-linecap="round"/><line x1="93.1" y1="241.8" x2="99.6" y2="252.7" stroke="#5f5f5f" stroke-width="4" stroke-linecap="round"/><line x1="45.9" y1="168.1" x2="38.7" y2="157.5" stroke="#5f5f5f" stroke-width="4" stroke-linecap="round"/><circle cx="145.4" cy="240.9" r="5.8" fill="url(#gr)"/><circle cx="64.6" cy="114.6" r="5.6" fill="url(#gr)"/><circle cx="97.1" cy="114.6" r="5.6" fill="url(#gr)"/><circle cx="129.6" cy="114.6" r="5.6" fill="url(#gr)"/><circle cx="162.1" cy="114.6" r="5.6" fill="url(#gr)"/><circle cx="194.6" cy="114.6" r="5.6" fill="url(#gr)"/><circle cx="64.6" cy="292.4" r="5.6" fill="url(#gr)"/><circle cx="97.1" cy="292.4" r="5.6" fill="url(#gr)"/><circle cx="129.6" cy="292.4" r="5.6" fill="url(#gr)"/><circle cx="162.1" cy="292.4" r="5.6" fill="url(#gr)"/><circle cx="194.6" cy="292.4" r="5.6" fill="url(#gr)"/><circle cx="99.6" cy="252.7" r="3.9" fill="url(#gh)"/><circle cx="38.7" cy="157.5" r="3.9" fill="url(#gh)"/><line x1="101.8" y1="174.3" x2="98.8" y2="167.1" stroke="#5f5f5f" stroke-width="4" stroke-linecap="round"/><line x1="169.8" y1="195.8" x2="163" y2="187.3" stroke="#5f5f5f" stroke-width="4" stroke-linecap="round"/><line x1="145.4" y1="240.9" x2="151.7" y2="251.6" stroke="#5f5f5f" stroke-width="4" stroke-linecap="round"/><circle cx="197.3" cy="239.9" r="5.8" fill="url(#gr)"/><line x1="117.5" y1="196.6" x2="111.1" y2="189.1" stroke="#5f5f5f" stroke-width="4" stroke-linecap="round"/><line x1="74.2" y1="212.3" x2="77.8" y2="220.4" stroke="#5f5f5f" stroke-width="4" stroke-linecap="round"/><line x1="93.1" y1="241.8" x2="87.2" y2="235.1" stroke="#5f5f5f" stroke-width="4" stroke-linecap="round"/><line x1="49.5" y1="176.1" x2="45.9" y2="168.1" stroke="#5f5f5f" stroke-width="4" stroke-linecap="round"/><line x1="64.8" y1="197.5" x2="58.9" y2="190.9" stroke="#5f5f5f" stroke-width="4" stroke-linecap="round"/><line x1="126.8" y1="211.4" x2="129.8" y2="218.6" stroke="#5f5f5f" stroke-width="4" stroke-linecap="round"/><circle cx="151.7" cy="251.6" r="3.9" fill="url(#gh)"/><line x1="197.3" y1="239.9" x2="203.3" y2="250.3" stroke="#5f5f5f" stroke-width="4" stroke-linecap="round"/><line x1="178.9" y1="210.5" x2="181.3" y2="216.8" stroke="#5f5f5f" stroke-width="4" stroke-linecap="round"/><line x1="145.4" y1="240.9" x2="139.1" y2="233.4" stroke="#5f5f5f" stroke-width="4" stroke-linecap="round"/><circle cx="153.8" cy="172.6" r="5.8" fill="url(#gr)"/><line x1="163" y1="187.3" x2="153.8" y2="172.6" stroke="#5f5f5f" stroke-width="4" stroke-linecap="round"/><circle cx="203.3" cy="250.3" r="3.9" fill="url(#gh)"/><line x1="64.1" y1="287.3" x2="64.6" y2="292.4" stroke="#5f5f5f" stroke-width="3.7" stroke-linecap="round"/><line x1="96.9" y1="287.3" x2="97.1" y2="292.4" stroke="#5f5f5f" stroke-width="3.7" stroke-linecap="round"/><line x1="129.7" y1="287.3" x2="129.6" y2="292.4" stroke="#5f5f5f" stroke-width="3.7" stroke-linecap="round"/><line x1="162.5" y1="287.3" x2="162.1" y2="292.4" stroke="#5f5f5f" stroke-width="3.7" stroke-linecap="round"/><line x1="195.3" y1="287.3" x2="194.6" y2="292.4" stroke="#5f5f5f" stroke-width="3.7" stroke-linecap="round"/><line x1="64.6" y1="114.6" x2="64.1" y2="119.7" stroke="#5f5f5f" stroke-width="3.7" stroke-linecap="round"/><line x1="97.1" y1="114.6" x2="96.9" y2="119.7" stroke="#5f5f5f" stroke-width="3.7" stroke-linecap="round"/><line x1="129.6" y1="114.6" x2="129.7" y2="119.7" stroke="#5f5f5f" stroke-width="3.7" stroke-linecap="round"/><line x1="162.1" y1="114.6" x2="162.5" y2="119.7" stroke="#5f5f5f" stroke-width="3.7" stroke-linecap="round"/><line x1="194.6" y1="114.6" x2="195.3" y2="119.7" stroke="#5f5f5f" stroke-width="3.7" stroke-linecap="round"/><circle cx="163" cy="187.3" r="5.8" fill="url(#gr)"/><line x1="197.3" y1="239.9" x2="190.4" y2="231.5" stroke="#5f5f5f" stroke-width="4" stroke-linecap="round"/><circle cx="101.8" cy="174.3" r="5.8" fill="url(#gr)"/><line x1="111.1" y1="189.1" x2="101.8" y2="174.3" stroke="#5f5f5f" stroke-width="4" stroke-linecap="round"/><line x1="153.8" y1="172.6" x2="147.2" y2="163.4" stroke="#5f5f5f" stroke-width="4" stroke-linecap="round"/><circle cx="111.1" cy="189.1" r="5.8" fill="url(#gr)"/><line x1="87.2" y1="235.1" x2="77.8" y2="220.4" stroke="#5f5f5f" stroke-width="4" stroke-linecap="round"/><line x1="58.9" y1="190.9" x2="49.5" y2="176.1" stroke="#5f5f5f" stroke-width="4" stroke-linecap="round"/><circle cx="87.2" cy="235.1" r="5.8" fill="url(#gr)"/><circle cx="77.8" cy="220.4" r="5.8" fill="url(#gr)"/><circle cx="49.5" cy="176.1" r="5.8" fill="url(#gr)"/><circle cx="58.9" cy="190.9" r="5.8" fill="url(#gr)"/><circle cx="129.8" cy="218.6" r="5.8" fill="url(#gr)"/><line x1="101.8" y1="174.3" x2="95.4" y2="165.6" stroke="#5f5f5f" stroke-width="4" stroke-linecap="round"/><line x1="139.1" y1="233.4" x2="129.8" y2="218.6" stroke="#5f5f5f" stroke-width="4" stroke-linecap="round"/><circle cx="181.3" cy="216.8" r="5.8" fill="url(#gr)"/><circle cx="147.2" cy="163.4" r="3.9" fill="url(#gh)"/><circle cx="139.1" cy="233.4" r="5.8" fill="url(#gr)"/><line x1="190.4" y1="231.5" x2="181.3" y2="216.8" stroke="#5f5f5f" stroke-width="4" stroke-linecap="round"/><line x1="87.2" y1="235.1" x2="92.1" y2="244.1" stroke="#5f5f5f" stroke-width="4" stroke-linecap="round"/><line x1="49.5" y1="176.1" x2="43.4" y2="168" stroke="#5f5f5f" stroke-width="4" stroke-linecap="round"/><circle cx="190.4" cy="231.5" r="5.8" fill="url(#gr)"/><line x1="165.3" y1="193.6" x2="163" y2="187.3" stroke="#5f5f5f" stroke-width="4" stroke-linecap="round"/><circle cx="95.4" cy="165.6" r="3.9" fill="url(#gh)"/><line x1="114.1" y1="196.3" x2="111.1" y2="189.1" stroke="#5f5f5f" stroke-width="4" stroke-linecap="round"/><circle cx="64.1" cy="287.3" r="5.6" fill="url(#gr)"/><circle cx="96.9" cy="287.3" r="5.6" fill="url(#gr)"/><circle cx="129.7" cy="287.3" r="5.6" fill="url(#gr)"/><circle cx="162.5" cy="287.3" r="5.6" fill="url(#gr)"/><circle cx="195.3" cy="287.3" r="5.6" fill="url(#gr)"/><circle cx="64.1" cy="119.7" r="5.6" fill="url(#gr)"/><circle cx="96.9" cy="119.7" r="5.6" fill="url(#gr)"/><circle cx="129.7" cy="119.7" r="5.6" fill="url(#gr)"/><circle cx="162.5" cy="119.7" r="5.6" fill="url(#gr)"/><circle cx="195.3" cy="119.7" r="5.6" fill="url(#gr)"/><line x1="139.1" y1="233.4" x2="143.5" y2="241.9" stroke="#5f5f5f" stroke-width="4" stroke-linecap="round"/><line x1="77.8" y1="220.4" x2="72" y2="213.7" stroke="#5f5f5f" stroke-width="4" stroke-linecap="round"/><line x1="62.5" y1="199" x2="58.9" y2="190.9" stroke="#5f5f5f" stroke-width="4" stroke-linecap="round"/><line x1="129.8" y1="218.6" x2="123.4" y2="211" stroke="#5f5f5f" stroke-width="4" stroke-linecap="round"/><line x1="181.3" y1="216.8" x2="174.5" y2="208.3" stroke="#5f5f5f" stroke-width="4" stroke-linecap="round"/><circle cx="92.1" cy="244.1" r="3.9" fill="url(#gh)"/><circle cx="43.4" cy="168" r="3.9" fill="url(#gh)"/><line x1="190.4" y1="231.5" x2="194.5" y2="239.4" stroke="#5f5f5f" stroke-width="4" stroke-linecap="round"/><line x1="47.4" y1="123.8" x2="64.1" y2="119.7" stroke="#5f5f5f" stroke-width="3.7" stroke-linecap="round"/><line x1="64.1" y1="119.7" x2="80.3" y2="123.8" stroke="#5f5f5f" stroke-width="3.7" stroke-linecap="round"/><line x1="80.3" y1="123.8" x2="96.9" y2="119.7" stroke="#5f5f5f" stroke-width="3.7" stroke-linecap="round"/><line x1="96.9" y1="119.7" x2="113.3" y2="123.8" stroke="#5f5f5f" stroke-width="3.7" stroke-linecap="round"/><line x1="113.3" y1="123.8" x2="129.7" y2="119.7" stroke="#5f5f5f" stroke-width="3.7" stroke-linecap="round"/><line x1="129.7" y1="119.7" x2="146.2" y2="123.8" stroke="#5f5f5f" stroke-width="3.7" stroke-linecap="round"/><line x1="146.2" y1="123.8" x2="162.5" y2="119.7" stroke="#5f5f5f" stroke-width="3.7" stroke-linecap="round"/><line x1="162.5" y1="119.7" x2="179.1" y2="123.8" stroke="#5f5f5f" stroke-width="3.7" stroke-linecap="round"/><line x1="179.1" y1="123.8" x2="195.3" y2="119.7" stroke="#5f5f5f" stroke-width="3.7" stroke-linecap="round"/><line x1="47.4" y1="283.2" x2="64.1" y2="287.3" stroke="#5f5f5f" stroke-width="3.7" stroke-linecap="round"/><line x1="64.1" y1="287.3" x2="80.3" y2="283.2" stroke="#5f5f5f" stroke-width="3.7" stroke-linecap="round"/><line x1="80.3" y1="283.2" x2="96.9" y2="287.3" stroke="#5f5f5f" stroke-width="3.7" stroke-linecap="round"/><line x1="96.9" y1="287.3" x2="113.3" y2="283.2" stroke="#5f5f5f" stroke-width="3.7" stroke-linecap="round"/><line x1="113.3" y1="283.2" x2="129.7" y2="287.3" stroke="#5f5f5f" stroke-width="3.7" stroke-linecap="round"/><line x1="129.7" y1="287.3" x2="146.2" y2="283.2" stroke="#5f5f5f" stroke-width="3.7" stroke-linecap="round"/><line x1="146.2" y1="283.2" x2="162.5" y2="287.3" stroke="#5f5f5f" stroke-width="3.7" stroke-linecap="round"/><line x1="162.5" y1="287.3" x2="179.1" y2="283.2" stroke="#5f5f5f" stroke-width="3.7" stroke-linecap="round"/><line x1="179.1" y1="283.2" x2="195.3" y2="287.3" stroke="#5f5f5f" stroke-width="3.7" stroke-linecap="round"/><circle cx="143.5" cy="241.9" r="3.9" fill="url(#gh)"/><circle cx="165.3" cy="193.6" r="5.8" fill="url(#gr)"/><line x1="174.5" y1="208.3" x2="165.3" y2="193.6" stroke="#5f5f5f" stroke-width="4" stroke-linecap="round"/><circle cx="114.1" cy="196.3" r="5.8" fill="url(#gr)"/><circle cx="194.5" cy="239.4" r="3.9" fill="url(#gh)"/><line x1="123.4" y1="211" x2="114.1" y2="196.3" stroke="#5f5f5f" stroke-width="4" stroke-linecap="round"/><line x1="72" y1="213.7" x2="62.5" y2="199" stroke="#5f5f5f" stroke-width="4" stroke-linecap="round"/><circle cx="47.4" cy="123.8" r="5.6" fill="url(#gr)"/><circle cx="80.3" cy="123.8" r="5.6" fill="url(#gr)"/><circle cx="113.3" cy="123.8" r="5.6" fill="url(#gr)"/><circle cx="146.2" cy="123.8" r="5.6" fill="url(#gr)"/><circle cx="179.1" cy="123.8" r="5.6" fill="url(#gr)"/><circle cx="47.4" cy="283.2" r="5.6" fill="url(#gr)"/><circle cx="80.3" cy="283.2" r="5.6" fill="url(#gr)"/><circle cx="113.3" cy="283.2" r="5.6" fill="url(#gr)"/><circle cx="146.2" cy="283.2" r="5.6" fill="url(#gr)"/><circle cx="179.1" cy="283.2" r="5.6" fill="url(#gr)"/><circle cx="72" cy="213.7" r="5.8" fill="url(#gr)"/><circle cx="62.5" cy="199" r="5.8" fill="url(#gr)"/><circle cx="123.4" cy="211" r="5.8" fill="url(#gr)"/><circle cx="174.5" cy="208.3" r="5.8" fill="url(#gr)"/><line x1="165.3" y1="193.6" x2="162" y2="190.5" stroke="#5f5f5f" stroke-width="4" stroke-linecap="round"/><line x1="114.1" y1="196.3" x2="111.3" y2="194" stroke="#5f5f5f" stroke-width="4" stroke-linecap="round"/><line x1="72" y1="213.7" x2="72.4" y2="216.5" stroke="#5f5f5f" stroke-width="4" stroke-linecap="round"/><line x1="62.5" y1="199" x2="60.2" y2="197.4" stroke="#5f5f5f" stroke-width="4" stroke-linecap="round"/><line x1="47.4" y1="123.8" x2="46.8" y2="134.5" stroke="#5f5f5f" stroke-width="3.7" stroke-linecap="round"/><line x1="80.3" y1="123.8" x2="80" y2="134.5" stroke="#5f5f5f" stroke-width="3.7" stroke-linecap="round"/><line x1="113.3" y1="123.8" x2="113.2" y2="134.5" stroke="#5f5f5f" stroke-width="3.7" stroke-linecap="round"/><line x1="146.2" y1="123.8" x2="146.4" y2="134.5" stroke="#5f5f5f" stroke-width="3.7" stroke-linecap="round"/><line x1="179.1" y1="123.8" x2="179.6" y2="134.5" stroke="#5f5f5f" stroke-width="3.7" stroke-linecap="round"/><line x1="46.8" y1="272.5" x2="47.4" y2="283.2" stroke="#5f5f5f" stroke-width="3.7" stroke-linecap="round"/><line x1="80" y1="272.5" x2="80.3" y2="283.2" stroke="#5f5f5f" stroke-width="3.7" stroke-linecap="round"/><line x1="113.2" y1="272.5" x2="113.3" y2="283.2" stroke="#5f5f5f" stroke-width="3.7" stroke-linecap="round"/><line x1="146.4" y1="272.5" x2="146.2" y2="283.2" stroke="#5f5f5f" stroke-width="3.7" stroke-linecap="round"/><line x1="179.6" y1="272.5" x2="179.1" y2="283.2" stroke="#5f5f5f" stroke-width="3.7" stroke-linecap="round"/><line x1="123.4" y1="211" x2="123.3" y2="213" stroke="#5f5f5f" stroke-width="4" stroke-linecap="round"/><line x1="174.5" y1="208.3" x2="173.8" y2="209.5" stroke="#5f5f5f" stroke-width="4" stroke-linecap="round"/><circle cx="162" cy="190.5" r="3.9" fill="url(#gh)"/><circle cx="111.3" cy="194" r="3.9" fill="url(#gh)"/><circle cx="72.4" cy="216.5" r="3.9" fill="url(#gh)"/><circle cx="60.2" cy="197.4" r="3.9" fill="url(#gh)"/><circle cx="123.3" cy="213" r="3.9" fill="url(#gh)"/><circle cx="173.8" cy="209.5" r="3.9" fill="url(#gh)"/><circle cx="46.8" cy="134.5" r="5.6" fill="url(#gr)"/><circle cx="80" cy="134.5" r="5.6" fill="url(#gr)"/><circle cx="113.2" cy="134.5" r="5.6" fill="url(#gr)"/><circle cx="146.4" cy="134.5" r="5.6" fill="url(#gr)"/><circle cx="179.6" cy="134.5" r="5.6" fill="url(#gr)"/><circle cx="46.8" cy="272.5" r="5.6" fill="url(#gr)"/><circle cx="80" cy="272.5" r="5.6" fill="url(#gr)"/><circle cx="113.2" cy="272.5" r="5.6" fill="url(#gr)"/><circle cx="146.4" cy="272.5" r="5.6" fill="url(#gr)"/><circle cx="179.6" cy="272.5" r="5.6" fill="url(#gr)"/><line x1="46.8" y1="134.5" x2="63.2" y2="141.2" stroke="#5f5f5f" stroke-width="3.7" stroke-linecap="round"/><line x1="63.2" y1="141.2" x2="80" y2="134.5" stroke="#5f5f5f" stroke-width="3.7" stroke-linecap="round"/><line x1="80" y1="134.5" x2="96.5" y2="141.2" stroke="#5f5f5f" stroke-width="3.7" stroke-linecap="round"/><line x1="96.5" y1="141.2" x2="113.2" y2="134.5" stroke="#5f5f5f" stroke-width="3.7" stroke-linecap="round"/><line x1="113.2" y1="134.5" x2="129.8" y2="141.2" stroke="#5f5f5f" stroke-width="3.7" stroke-linecap="round"/><line x1="129.8" y1="141.2" x2="146.4" y2="134.5" stroke="#5f5f5f" stroke-width="3.7" stroke-linecap="round"/><line x1="146.4" y1="134.5" x2="163.1" y2="141.2" stroke="#5f5f5f" stroke-width="3.7" stroke-linecap="round"/><line x1="163.1" y1="141.2" x2="179.6" y2="134.5" stroke="#5f5f5f" stroke-width="3.7" stroke-linecap="round"/><line x1="179.6" y1="134.5" x2="196.5" y2="141.2" stroke="#5f5f5f" stroke-width="3.7" stroke-linecap="round"/><line x1="46.8" y1="272.5" x2="63.2" y2="265.8" stroke="#5f5f5f" stroke-width="3.7" stroke-linecap="round"/><line x1="63.2" y1="265.8" x2="80" y2="272.5" stroke="#5f5f5f" stroke-width="3.7" stroke-linecap="round"/><line x1="80" y1="272.5" x2="96.5" y2="265.8" stroke="#5f5f5f" stroke-width="3.7" stroke-linecap="round"/><line x1="96.5" y1="265.8" x2="113.2" y2="272.5" stroke="#5f5f5f" stroke-width="3.7" stroke-linecap="round"/><line x1="113.2" y1="272.5" x2="129.8" y2="265.8" stroke="#5f5f5f" stroke-width="3.7" stroke-linecap="round"/><line x1="129.8" y1="265.8" x2="146.4" y2="272.5" stroke="#5f5f5f" stroke-width="3.7" stroke-linecap="round"/><line x1="146.4" y1="272.5" x2="163.1" y2="265.8" stroke="#5f5f5f" stroke-width="3.7" stroke-linecap="round"/><line x1="163.1" y1="265.8" x2="179.6" y2="272.5" stroke="#5f5f5f" stroke-width="3.7" stroke-linecap="round"/><line x1="179.6" y1="272.5" x2="196.5" y2="265.8" stroke="#5f5f5f" stroke-width="3.7" stroke-linecap="round"/><circle cx="63.2" cy="141.2" r="5.6" fill="url(#gr)"/><circle cx="96.5" cy="141.2" r="5.6" fill="url(#gr)"/><circle cx="129.8" cy="141.2" r="5.6" fill="url(#gr)"/><circle cx="163.1" cy="141.2" r="5.6" fill="url(#gr)"/><circle cx="196.5" cy="141.2" r="5.6" fill="url(#gr)"/><circle cx="63.2" cy="265.8" r="5.6" fill="url(#gr)"/><circle cx="96.5" cy="265.8" r="5.6" fill="url(#gr)"/><circle cx="129.8" cy="265.8" r="5.6" fill="url(#gr)"/><circle cx="163.1" cy="265.8" r="5.6" fill="url(#gr)"/><circle cx="196.5" cy="265.8" r="5.6" fill="url(#gr)"/><line x1="63.2" y1="141.2" x2="62.9" y2="156.7" stroke="#5f5f5f" stroke-width="3.7" stroke-linecap="round"/><line x1="96.5" y1="141.2" x2="96.4" y2="156.7" stroke="#5f5f5f" stroke-width="3.7" stroke-linecap="round"/><line x1="129.8" y1="141.2" x2="129.9" y2="156.7" stroke="#5f5f5f" stroke-width="3.7" stroke-linecap="round"/><line x1="163.1" y1="141.2" x2="163.4" y2="156.7" stroke="#5f5f5f" stroke-width="3.7" stroke-linecap="round"/><line x1="196.5" y1="141.2" x2="196.9" y2="156.7" stroke="#5f5f5f" stroke-width="3.7" stroke-linecap="round"/><line x1="62.9" y1="250.3" x2="63.2" y2="265.8" stroke="#5f5f5f" stroke-width="3.7" stroke-linecap="round"/><line x1="96.4" y1="250.3" x2="96.5" y2="265.8" stroke="#5f5f5f" stroke-width="3.7" stroke-linecap="round"/><line x1="129.9" y1="250.3" x2="129.8" y2="265.8" stroke="#5f5f5f" stroke-width="3.7" stroke-linecap="round"/><line x1="163.4" y1="250.3" x2="163.1" y2="265.8" stroke="#5f5f5f" stroke-width="3.7" stroke-linecap="round"/><line x1="196.9" y1="250.3" x2="196.5" y2="265.8" stroke="#5f5f5f" stroke-width="3.7" stroke-linecap="round"/><circle cx="62.9" cy="156.7" r="5.6" fill="url(#gr)"/><circle cx="96.4" cy="156.7" r="5.6" fill="url(#gr)"/><circle cx="129.9" cy="156.7" r="5.6" fill="url(#gr)"/><circle cx="163.4" cy="156.7" r="5.6" fill="url(#gr)"/><circle cx="196.9" cy="156.7" r="5.6" fill="url(#gr)"/><circle cx="62.9" cy="250.3" r="5.6" fill="url(#gr)"/><circle cx="96.4" cy="250.3" r="5.6" fill="url(#gr)"/><circle cx="129.9" cy="250.3" r="5.6" fill="url(#gr)"/><circle cx="163.4" cy="250.3" r="5.6" fill="url(#gr)"/><circle cx="196.9" cy="250.3" r="5.6" fill="url(#gr)"/><line x1="45.9" y1="165.3" x2="62.9" y2="156.7" stroke="#5f5f5f" stroke-width="3.7" stroke-linecap="round"/><line x1="62.9" y1="156.7" x2="79.5" y2="165.3" stroke="#5f5f5f" stroke-width="3.7" stroke-linecap="round"/><line x1="79.5" y1="165.3" x2="96.4" y2="156.7" stroke="#5f5f5f" stroke-width="3.7" stroke-linecap="round"/><line x1="96.4" y1="156.7" x2="113.1" y2="165.3" stroke="#5f5f5f" stroke-width="3.7" stroke-linecap="round"/><line x1="113.1" y1="165.3" x2="129.9" y2="156.7" stroke="#5f5f5f" stroke-width="3.7" stroke-linecap="round"/><line x1="129.9" y1="156.7" x2="146.7" y2="165.3" stroke="#5f5f5f" stroke-width="3.7" stroke-linecap="round"/><line x1="146.7" y1="165.3" x2="163.4" y2="156.7" stroke="#5f5f5f" stroke-width="3.7" stroke-linecap="round"/><line x1="163.4" y1="156.7" x2="180.3" y2="165.3" stroke="#5f5f5f" stroke-width="3.7" stroke-linecap="round"/><line x1="180.3" y1="165.3" x2="196.9" y2="156.7" stroke="#5f5f5f" stroke-width="3.7" stroke-linecap="round"/><line x1="45.9" y1="241.7" x2="62.9" y2="250.3" stroke="#5f5f5f" stroke-width="3.7" stroke-linecap="round"/><line x1="62.9" y1="250.3" x2="79.5" y2="241.7" stroke="#5f5f5f" stroke-width="3.7" stroke-linecap="round"/><line x1="79.5" y1="241.7" x2="96.4" y2="250.3" stroke="#5f5f5f" stroke-width="3.7" stroke-linecap="round"/><line x1="96.4" y1="250.3" x2="113.1" y2="241.7" stroke="#5f5f5f" stroke-width="3.7" stroke-linecap="round"/><line x1="113.1" y1="241.7" x2="129.9" y2="250.3" stroke="#5f5f5f" stroke-width="3.7" stroke-linecap="round"/><line x1="129.9" y1="250.3" x2="146.7" y2="241.7" stroke="#5f5f5f" stroke-width="3.7" stroke-linecap="round"/><line x1="146.7" y1="241.7" x2="163.4" y2="250.3" stroke="#5f5f5f" stroke-width="3.7" stroke-linecap="round"/><line x1="163.4" y1="250.3" x2="180.3" y2="241.7" stroke="#5f5f5f" stroke-width="3.7" stroke-linecap="round"/><line x1="180.3" y1="241.7" x2="196.9" y2="250.3" stroke="#5f5f5f" stroke-width="3.7" stroke-linecap="round"/><circle cx="45.9" cy="165.3" r="5.6" fill="url(#gr)"/><circle cx="79.5" cy="165.3" r="5.6" fill="url(#gr)"/><circle cx="113.1" cy="165.3" r="5.6" fill="url(#gr)"/><circle cx="146.7" cy="165.3" r="5.6" fill="url(#gr)"/><circle cx="180.3" cy="165.3" r="5.6" fill="url(#gr)"/><circle cx="45.9" cy="241.7" r="5.6" fill="url(#gr)"/><circle cx="79.5" cy="241.7" r="5.6" fill="url(#gr)"/><circle cx="113.1" cy="241.7" r="5.6" fill="url(#gr)"/><circle cx="146.7" cy="241.7" r="5.6" fill="url(#gr)"/><circle cx="180.3" cy="241.7" r="5.6" fill="url(#gr)"/><line x1="45.9" y1="165.3" x2="45.7" y2="183.9" stroke="#5f5f5f" stroke-width="3.7" stroke-linecap="round"/><line x1="79.5" y1="165.3" x2="79.4" y2="183.9" stroke="#5f5f5f" stroke-width="3.7" stroke-linecap="round"/><line x1="113.1" y1="165.3" x2="113.1" y2="183.9" stroke="#5f5f5f" stroke-width="3.7" stroke-linecap="round"/><line x1="146.7" y1="165.3" x2="146.8" y2="183.9" stroke="#5f5f5f" stroke-width="3.7" stroke-linecap="round"/><line x1="180.3" y1="165.3" x2="180.4" y2="183.9" stroke="#5f5f5f" stroke-width="3.7" stroke-linecap="round"/><line x1="45.7" y1="223.1" x2="45.9" y2="241.7" stroke="#5f5f5f" stroke-width="3.7" stroke-linecap="round"/><line x1="79.4" y1="223.1" x2="79.5" y2="241.7" stroke="#5f5f5f" stroke-width="3.7" stroke-linecap="round"/><line x1="113.1" y1="223.1" x2="113.1" y2="241.7" stroke="#5f5f5f" stroke-width="3.7" stroke-linecap="round"/><line x1="146.8" y1="223.1" x2="146.7" y2="241.7" stroke="#5f5f5f" stroke-width="3.7" stroke-linecap="round"/><line x1="180.4" y1="223.1" x2="180.3" y2="241.7" stroke="#5f5f5f" stroke-width="3.7" stroke-linecap="round"/><circle cx="45.7" cy="183.9" r="5.6" fill="url(#gr)"/><circle cx="45.7" cy="223.1" r="5.6" fill="url(#gr)"/><circle cx="79.4" cy="183.9" r="5.6" fill="url(#gr)"/><circle cx="79.4" cy="223.1" r="5.6" fill="url(#gr)"/><circle cx="113.1" cy="183.9" r="5.6" fill="url(#gr)"/><circle cx="113.1" cy="223.1" r="5.6" fill="url(#gr)"/><circle cx="146.8" cy="183.9" r="5.6" fill="url(#gr)"/><circle cx="146.8" cy="223.1" r="5.6" fill="url(#gr)"/><circle cx="180.4" cy="183.9" r="5.6" fill="url(#gr)"/><circle cx="180.4" cy="223.1" r="5.6" fill="url(#gr)"/><line x1="45.7" y1="183.9" x2="62.5" y2="193.7" stroke="#5f5f5f" stroke-width="3.7" stroke-linecap="round"/><line x1="62.5" y1="193.7" x2="79.4" y2="183.9" stroke="#5f5f5f" stroke-width="3.7" stroke-linecap="round"/><line x1="79.4" y1="183.9" x2="96.2" y2="193.7" stroke="#5f5f5f" stroke-width="3.7" stroke-linecap="round"/><line x1="96.2" y1="193.7" x2="113.1" y2="183.9" stroke="#5f5f5f" stroke-width="3.7" stroke-linecap="round"/><line x1="113.1" y1="183.9" x2="129.9" y2="193.7" stroke="#5f5f5f" stroke-width="3.7" stroke-linecap="round"/><line x1="129.9" y1="193.7" x2="146.8" y2="183.9" stroke="#5f5f5f" stroke-width="3.7" stroke-linecap="round"/><line x1="146.8" y1="183.9" x2="163.6" y2="193.7" stroke="#5f5f5f" stroke-width="3.7" stroke-linecap="round"/><line x1="163.6" y1="193.7" x2="180.4" y2="183.9" stroke="#5f5f5f" stroke-width="3.7" stroke-linecap="round"/><line x1="180.4" y1="183.9" x2="197.3" y2="193.7" stroke="#5f5f5f" stroke-width="3.7" stroke-linecap="round"/><line x1="45.7" y1="223.1" x2="62.5" y2="213.3" stroke="#5f5f5f" stroke-width="3.7" stroke-linecap="round"/><line x1="62.5" y1="213.3" x2="79.4" y2="223.1" stroke="#5f5f5f" stroke-width="3.7" stroke-linecap="round"/><line x1="79.4" y1="223.1" x2="96.2" y2="213.3" stroke="#5f5f5f" stroke-width="3.7" stroke-linecap="round"/><line x1="96.2" y1="213.3" x2="113.1" y2="223.1" stroke="#5f5f5f" stroke-width="3.7" stroke-linecap="round"/><line x1="113.1" y1="223.1" x2="129.9" y2="213.3" stroke="#5f5f5f" stroke-width="3.7" stroke-linecap="round"/><line x1="129.9" y1="213.3" x2="146.8" y2="223.1" stroke="#5f5f5f" stroke-width="3.7" stroke-linecap="round"/><line x1="146.8" y1="223.1" x2="163.6" y2="213.3" stroke="#5f5f5f" stroke-width="3.7" stroke-linecap="round"/><line x1="163.6" y1="213.3" x2="180.4" y2="223.1" stroke="#5f5f5f" stroke-width="3.7" stroke-linecap="round"/><line x1="180.4" y1="223.1" x2="197.3" y2="213.3" stroke="#5f5f5f" stroke-width="3.7" stroke-linecap="round"/><line x1="62.5" y1="193.7" x2="62.5" y2="213.3" stroke="#5f5f5f" stroke-width="3.7" stroke-linecap="round"/><line x1="96.2" y1="193.7" x2="96.2" y2="213.3" stroke="#5f5f5f" stroke-width="3.7" stroke-linecap="round"/><line x1="129.9" y1="193.7" x2="129.9" y2="213.3" stroke="#5f5f5f" stroke-width="3.7" stroke-linecap="round"/><line x1="163.6" y1="193.7" x2="163.6" y2="213.3" stroke="#5f5f5f" stroke-width="3.7" stroke-linecap="round"/><line x1="197.3" y1="193.7" x2="197.3" y2="213.3" stroke="#5f5f5f" stroke-width="3.7" stroke-linecap="round"/><circle cx="62.5" cy="193.7" r="5.6" fill="url(#gr)"/><circle cx="96.2" cy="193.7" r="5.6" fill="url(#gr)"/><circle cx="129.9" cy="193.7" r="5.6" fill="url(#gr)"/><circle cx="163.6" cy="193.7" r="5.6" fill="url(#gr)"/><circle cx="197.3" cy="193.7" r="5.6" fill="url(#gr)"/><circle cx="62.5" cy="213.3" r="5.6" fill="url(#gr)"/><circle cx="96.2" cy="213.3" r="5.6" fill="url(#gr)"/><circle cx="129.9" cy="213.3" r="5.6" fill="url(#gr)"/><circle cx="163.6" cy="213.3" r="5.6" fill="url(#gr)"/><circle cx="197.3" cy="213.3" r="5.6" fill="url(#gr)"/></g>
<ellipse cx="70.6" cy="204.2" rx="74.2" ry="15.4" transform="rotate(57.4 70.6 204.2)" fill="#e01e2d" fill-opacity="0.36" stroke="#d81818" stroke-width="2.5"/>
<ellipse cx="123.8" cy="204.2" rx="74.2" ry="15.4" transform="rotate(57.4 123.8 204.2)" fill="#e01e2d" fill-opacity="0.36" stroke="#d81818" stroke-width="2.5"/>
<ellipse cx="176.6" cy="204.2" rx="74.2" ry="15.4" transform="rotate(57.4 176.6 204.2)" fill="#e01e2d" fill-opacity="0.36" stroke="#d81818" stroke-width="2.5"/>
<defs><radialGradient id="gbead" cx="0.45" cy="0.4" r="0.65"><stop offset="0" stop-color="#8c8c8c"/><stop offset="0.55" stop-color="#5c5c5c"/><stop offset="1" stop-color="#3a3a3a"/></radialGradient></defs>
<g><ellipse cx="338.8" cy="204.6" rx="84" ry="85" fill="none" stroke="#505050" stroke-width="8.6"/><ellipse cx="338.8" cy="204.6" rx="84" ry="85" fill="none" stroke="#767676" stroke-width="4.2"/><ellipse cx="422.8" cy="202.4" rx="7.2" ry="5.0" transform="rotate(-1.5 422.8 202.4)" fill="url(#gbead)"/><ellipse cx="422.1" cy="193.5" rx="7.2" ry="5.0" transform="rotate(-7.5 422.1 193.5)" fill="url(#gbead)"/><ellipse cx="418" cy="176.2" rx="7.2" ry="5.0" transform="rotate(-19.5 418 176.2)" fill="url(#gbead)"/><ellipse cx="414.6" cy="168" rx="7.2" ry="5.0" transform="rotate(-25.5 414.6 168)" fill="url(#gbead)"/><ellipse cx="405.4" cy="152.9" rx="7.2" ry="5.0" transform="rotate(-37.5 405.4 152.9)" fill="url(#gbead)"/><ellipse cx="399.7" cy="146.1" rx="7.2" ry="5.0" transform="rotate(-43.5 399.7 146.1)" fill="url(#gbead)"/><ellipse cx="386.4" cy="134.5" rx="7.2" ry="5.0" transform="rotate(-55.5 386.4 134.5)" fill="url(#gbead)"/><ellipse cx="378.9" cy="129.9" rx="7.2" ry="5.0" transform="rotate(-61.5 378.9 129.9)" fill="url(#gbead)"/><ellipse cx="362.7" cy="123.1" rx="7.2" ry="5.0" transform="rotate(-73.5 362.7 123.1)" fill="url(#gbead)"/><ellipse cx="354.1" cy="121" rx="7.2" ry="5.0" transform="rotate(-79.5 354.1 121)" fill="url(#gbead)"/><ellipse cx="336.6" cy="119.6" rx="7.2" ry="5.0" transform="rotate(-91.5 336.6 119.6)" fill="url(#gbead)"/><ellipse cx="327.8" cy="120.3" rx="7.2" ry="5.0" transform="rotate(-97.5 327.8 120.3)" fill="url(#gbead)"/><ellipse cx="310.8" cy="124.5" rx="7.2" ry="5.0" transform="rotate(-109.5 310.8 124.5)" fill="url(#gbead)"/><ellipse cx="302.6" cy="127.9" rx="7.2" ry="5.0" transform="rotate(-115.5 302.6 127.9)" fill="url(#gbead)"/><ellipse cx="287.7" cy="137.2" rx="7.2" ry="5.0" transform="rotate(-127.5 287.7 137.2)" fill="url(#gbead)"/><ellipse cx="281" cy="142.9" rx="7.2" ry="5.0" transform="rotate(-133.5 281 142.9)" fill="url(#gbead)"/><ellipse cx="269.6" cy="156.5" rx="7.2" ry="5.0" transform="rotate(-145.5 269.6 156.5)" fill="url(#gbead)"/><ellipse cx="265" cy="164" rx="7.2" ry="5.0" transform="rotate(-151.5 265 164)" fill="url(#gbead)"/><ellipse cx="258.3" cy="180.5" rx="7.2" ry="5.0" transform="rotate(-163.5 258.3 180.5)" fill="url(#gbead)"/><ellipse cx="256.2" cy="189.1" rx="7.2" ry="5.0" transform="rotate(-169.5 256.2 189.1)" fill="url(#gbead)"/><ellipse cx="254.8" cy="206.8" rx="7.2" ry="5.0" transform="rotate(-181.5 254.8 206.8)" fill="url(#gbead)"/><ellipse cx="255.5" cy="215.7" rx="7.2" ry="5.0" transform="rotate(-187.5 255.5 215.7)" fill="url(#gbead)"/><ellipse cx="259.6" cy="233" rx="7.2" ry="5.0" transform="rotate(-199.5 259.6 233)" fill="url(#gbead)"/><ellipse cx="263" cy="241.2" rx="7.2" ry="5.0" transform="rotate(-205.5 263 241.2)" fill="url(#gbead)"/><ellipse cx="272.2" cy="256.3" rx="7.2" ry="5.0" transform="rotate(-217.5 272.2 256.3)" fill="url(#gbead)"/><ellipse cx="277.9" cy="263.1" rx="7.2" ry="5.0" transform="rotate(-223.5 277.9 263.1)" fill="url(#gbead)"/><ellipse cx="291.2" cy="274.7" rx="7.2" ry="5.0" transform="rotate(-235.5 291.2 274.7)" fill="url(#gbead)"/><ellipse cx="298.7" cy="279.3" rx="7.2" ry="5.0" transform="rotate(-241.5 298.7 279.3)" fill="url(#gbead)"/><ellipse cx="314.9" cy="286.1" rx="7.2" ry="5.0" transform="rotate(-253.5 314.9 286.1)" fill="url(#gbead)"/><ellipse cx="323.5" cy="288.2" rx="7.2" ry="5.0" transform="rotate(-259.5 323.5 288.2)" fill="url(#gbead)"/><ellipse cx="341" cy="289.6" rx="7.2" ry="5.0" transform="rotate(-271.5 341 289.6)" fill="url(#gbead)"/><ellipse cx="349.8" cy="288.9" rx="7.2" ry="5.0" transform="rotate(-277.5 349.8 288.9)" fill="url(#gbead)"/><ellipse cx="366.8" cy="284.7" rx="7.2" ry="5.0" transform="rotate(-289.5 366.8 284.7)" fill="url(#gbead)"/><ellipse cx="375" cy="281.3" rx="7.2" ry="5.0" transform="rotate(-295.5 375 281.3)" fill="url(#gbead)"/><ellipse cx="389.9" cy="272" rx="7.2" ry="5.0" transform="rotate(-307.5 389.9 272)" fill="url(#gbead)"/><ellipse cx="396.6" cy="266.3" rx="7.2" ry="5.0" transform="rotate(-313.5 396.6 266.3)" fill="url(#gbead)"/><ellipse cx="408" cy="252.7" rx="7.2" ry="5.0" transform="rotate(-325.5 408 252.7)" fill="url(#gbead)"/><ellipse cx="412.6" cy="245.2" rx="7.2" ry="5.0" transform="rotate(-331.5 412.6 245.2)" fill="url(#gbead)"/><ellipse cx="419.3" cy="228.7" rx="7.2" ry="5.0" transform="rotate(-343.5 419.3 228.7)" fill="url(#gbead)"/><ellipse cx="421.4" cy="220.1" rx="7.2" ry="5.0" transform="rotate(-349.5 421.4 220.1)" fill="url(#gbead)"/></g>
<ellipse cx="336.8" cy="205" rx="66" ry="60" fill="#aeaef2"/>
<g><line x1="378.5" y1="216.1" x2="390.4" y2="219.6" stroke="#40407a" stroke-width="4" stroke-linecap="round"/><line x1="370.3" y1="228.1" x2="379.8" y2="235.2" stroke="#40407a" stroke-width="4" stroke-linecap="round"/><line x1="345.7" y1="240.2" x2="348.1" y2="250.8" stroke="#40407a" stroke-width="4" stroke-linecap="round"/><line x1="329.3" y1="240.2" x2="326.9" y2="250.8" stroke="#40407a" stroke-width="4" stroke-linecap="round"/><line x1="304.7" y1="228.1" x2="295.2" y2="235.2" stroke="#40407a" stroke-width="4" stroke-linecap="round"/><line x1="296.5" y1="216.1" x2="284.6" y2="219.6" stroke="#40407a" stroke-width="4" stroke-linecap="round"/><line x1="296.5" y1="191.9" x2="284.6" y2="188.4" stroke="#40407a" stroke-width="4" stroke-linecap="round"/><line x1="304.7" y1="179.9" x2="295.2" y2="172.8" stroke="#40407a" stroke-width="4" stroke-linecap="round"/><line x1="329.3" y1="167.8" x2="326.9" y2="157.2" stroke="#40407a" stroke-width="4" stroke-linecap="round"/><line x1="345.7" y1="167.8" x2="348.1" y2="157.2" stroke="#40407a" stroke-width="4" stroke-linecap="round"/><line x1="378.5" y1="191.9" x2="390.4" y2="188.4" stroke="#40407a" stroke-width="4" stroke-linecap="round"/><line x1="370.3" y1="179.9" x2="379.8" y2="172.8" stroke="#40407a" stroke-width="4" stroke-linecap="round"/><line x1="353.9" y1="204" x2="345.7" y2="216.1" stroke="#40407a" stroke-width="4" stroke-linecap="round"/><line x1="353.9" y1="204" x2="345.7" y2="191.9" stroke="#40407a" stroke-width="4" stroke-linecap="round"/><line x1="353.9" y1="204" x2="370.3" y2="204" stroke="#40407a" stroke-width="4" stroke-linecap="round"/><line x1="345.7" y1="216.1" x2="329.3" y2="216.1" stroke="#40407a" stroke-width="4" stroke-linecap="round"/><line x1="345.7" y1="216.1" x2="353.9" y2="228.1" stroke="#40407a" stroke-width="4" stroke-linecap="round"/><line x1="329.3" y1="216.1" x2="321.1" y2="204" stroke="#40407a" stroke-width="4" stroke-linecap="round"/><line x1="329.3" y1="216.1" x2="321.1" y2="228.1" stroke="#40407a" stroke-width="4" stroke-linecap="round"/><line x1="321.1" y1="204" x2="329.3" y2="191.9" stroke="#40407a" stroke-width="4" stroke-linecap="round"/><line x1="321.1" y1="204" x2="304.7" y2="204" stroke="#40407a" stroke-width="4" stroke-linecap="round"/><line x1="329.3" y1="191.9" x2="345.7" y2="191.9" stroke="#40407a" stroke-width="4" stroke-linecap="round"/><line x1="329.3" y1="191.9" x2="321.1" y2="179.9" stroke="#40407a" stroke-width="4" stroke-linecap="round"/><line x1="345.7" y1="191.9" x2="353.9" y2="179.9" stroke="#40407a" stroke-width="4" stroke-linecap="round"/><line x1="378.5" y1="216.1" x2="370.3" y2="228.1" stroke="#40407a" stroke-width="4" stroke-linecap="round"/><line x1="378.5" y1="216.1" x2="370.3" y2="204" stroke="#40407a" stroke-width="4" stroke-linecap="round"/><line x1="370.3" y1="228.1" x2="353.9" y2="228.1" stroke="#40407a" stroke-width="4" stroke-linecap="round"/><line x1="353.9" y1="228.1" x2="345.7" y2="240.2" stroke="#40407a" stroke-width="4" stroke-linecap="round"/><line x1="370.3" y1="204" x2="378.5" y2="191.9" stroke="#40407a" stroke-width="4" stroke-linecap="round"/><line x1="345.7" y1="240.2" x2="329.3" y2="240.2" stroke="#40407a" stroke-width="4" stroke-linecap="round"/><line x1="329.3" y1="240.2" x2="321.1" y2="228.1" stroke="#40407a" stroke-width="4" stroke-linecap="round"/><line x1="321.1" y1="228.1" x2="304.7" y2="228.1" stroke="#40407a" stroke-width="4" stroke-linecap="round"/><line x1="304.7" y1="228.1" x2="296.5" y2="216.1" stroke="#40407a" stroke-width="4" stroke-linecap="round"/><line x1="296.5" y1="216.1" x2="304.7" y2="204" stroke="#40407a" stroke-width="4" stroke-linecap="round"/><line x1="304.7" y1="204" x2="296.5" y2="191.9" stroke="#40407a" stroke-width="4" stroke-linecap="round"/><line x1="296.5" y1="191.9" x2="304.7" y2="179.9" stroke="#40407a" stroke-width="4" stroke-linecap="round"/><line x1="304.7" y1="179.9" x2="321.1" y2="179.9" stroke="#40407a" stroke-width="4" stroke-linecap="round"/><line x1="321.1" y1="179.9" x2="329.3" y2="167.8" stroke="#40407a" stroke-width="4" stroke-linecap="round"/><line x1="353.9" y1="179.9" x2="345.7" y2="167.8" stroke="#40407a" stroke-width="4" stroke-linecap="round"/><line x1="353.9" y1="179.9" x2="370.3" y2="179.9" stroke="#40407a" stroke-width="4" stroke-linecap="round"/><line x1="329.3" y1="167.8" x2="345.7" y2="167.8" stroke="#40407a" stroke-width="4" stroke-linecap="round"/><line x1="378.5" y1="191.9" x2="370.3" y2="179.9" stroke="#40407a" stroke-width="4" stroke-linecap="round"/><circle cx="390.4" cy="219.6" r="3.3" fill="url(#gnh)"/><circle cx="379.8" cy="235.2" r="3.3" fill="url(#gnh)"/><circle cx="348.1" cy="250.8" r="3.3" fill="url(#gnh)"/><circle cx="326.9" cy="250.8" r="3.3" fill="url(#gnh)"/><circle cx="295.2" cy="235.2" r="3.3" fill="url(#gnh)"/><circle cx="284.6" cy="219.6" r="3.3" fill="url(#gnh)"/><circle cx="284.6" cy="188.4" r="3.3" fill="url(#gnh)"/><circle cx="295.2" cy="172.8" r="3.3" fill="url(#gnh)"/><circle cx="326.9" cy="157.2" r="3.3" fill="url(#gnh)"/><circle cx="348.1" cy="157.2" r="3.3" fill="url(#gnh)"/><circle cx="390.4" cy="188.4" r="3.3" fill="url(#gnh)"/><circle cx="379.8" cy="172.8" r="3.3" fill="url(#gnh)"/><circle cx="353.9" cy="204" r="5.1" fill="url(#gn)"/><circle cx="345.7" cy="216.1" r="5.1" fill="url(#gn)"/><circle cx="329.3" cy="216.1" r="5.1" fill="url(#gn)"/><circle cx="321.1" cy="204" r="5.1" fill="url(#gn)"/><circle cx="329.3" cy="191.9" r="5.1" fill="url(#gn)"/><circle cx="345.7" cy="191.9" r="5.1" fill="url(#gn)"/><circle cx="378.5" cy="216.1" r="5.1" fill="url(#gn)"/><circle cx="370.3" cy="228.1" r="5.1" fill="url(#gn)"/><circle cx="353.9" cy="228.1" r="5.1" fill="url(#gn)"/><circle cx="370.3" cy="204" r="5.1" fill="url(#gn)"/><circle cx="345.7" cy="240.2" r="5.1" fill="url(#gn)"/><circle cx="329.3" cy="240.2" r="5.1" fill="url(#gn)"/><circle cx="321.1" cy="228.1" r="5.1" fill="url(#gn)"/><circle cx="304.7" cy="228.1" r="5.1" fill="url(#gn)"/><circle cx="296.5" cy="216.1" r="5.1" fill="url(#gn)"/><circle cx="304.7" cy="204" r="5.1" fill="url(#gn)"/><circle cx="296.5" cy="191.9" r="5.1" fill="url(#gn)"/><circle cx="304.7" cy="179.9" r="5.1" fill="url(#gn)"/><circle cx="321.1" cy="179.9" r="5.1" fill="url(#gn)"/><circle cx="353.9" cy="179.9" r="5.1" fill="url(#gn)"/><circle cx="329.3" cy="167.8" r="5.1" fill="url(#gn)"/><circle cx="345.7" cy="167.8" r="5.1" fill="url(#gn)"/><circle cx="378.5" cy="191.9" r="5.1" fill="url(#gn)"/><circle cx="370.3" cy="179.9" r="5.1" fill="url(#gn)"/><line x1="367.6" y1="232.9" x2="376.4" y2="241.3" stroke="#40407a" stroke-width="4" stroke-linecap="round"/><line x1="352.6" y1="240.1" x2="357" y2="250.6" stroke="#40407a" stroke-width="4" stroke-linecap="round"/><line x1="322.4" y1="240.1" x2="318" y2="250.6" stroke="#40407a" stroke-width="4" stroke-linecap="round"/><line x1="307.4" y1="232.9" x2="298.6" y2="241.3" stroke="#40407a" stroke-width="4" stroke-linecap="round"/><line x1="292.3" y1="211.2" x2="279.1" y2="213.3" stroke="#40407a" stroke-width="4" stroke-linecap="round"/><line x1="292.3" y1="196.8" x2="279.1" y2="194.7" stroke="#40407a" stroke-width="4" stroke-linecap="round"/><line x1="307.4" y1="175.1" x2="298.6" y2="166.7" stroke="#40407a" stroke-width="4" stroke-linecap="round"/><line x1="322.4" y1="167.9" x2="318" y2="157.4" stroke="#40407a" stroke-width="4" stroke-linecap="round"/><line x1="352.6" y1="167.9" x2="357" y2="157.4" stroke="#40407a" stroke-width="4" stroke-linecap="round"/><line x1="367.6" y1="175.1" x2="376.4" y2="166.7" stroke="#40407a" stroke-width="4" stroke-linecap="round"/><line x1="382.7" y1="211.2" x2="395.9" y2="213.3" stroke="#40407a" stroke-width="4" stroke-linecap="round"/><line x1="382.7" y1="196.8" x2="395.9" y2="194.7" stroke="#40407a" stroke-width="4" stroke-linecap="round"/><line x1="352.6" y1="211.2" x2="337.5" y2="218.4" stroke="#40407a" stroke-width="4" stroke-linecap="round"/><line x1="352.6" y1="211.2" x2="352.6" y2="196.8" stroke="#40407a" stroke-width="4" stroke-linecap="round"/><line x1="352.6" y1="211.2" x2="367.6" y2="218.4" stroke="#40407a" stroke-width="4" stroke-linecap="round"/><line x1="337.5" y1="218.4" x2="322.4" y2="211.2" stroke="#40407a" stroke-width="4" stroke-linecap="round"/><line x1="337.5" y1="218.4" x2="337.5" y2="232.9" stroke="#40407a" stroke-width="4" stroke-linecap="round"/><line x1="322.4" y1="211.2" x2="322.4" y2="196.8" stroke="#40407a" stroke-width="4" stroke-linecap="round"/><line x1="322.4" y1="211.2" x2="307.4" y2="218.4" stroke="#40407a" stroke-width="4" stroke-linecap="round"/><line x1="322.4" y1="196.8" x2="337.5" y2="189.6" stroke="#40407a" stroke-width="4" stroke-linecap="round"/><line x1="322.4" y1="196.8" x2="307.4" y2="189.6" stroke="#40407a" stroke-width="4" stroke-linecap="round"/><line x1="337.5" y1="189.6" x2="352.6" y2="196.8" stroke="#40407a" stroke-width="4" stroke-linecap="round"/><line x1="337.5" y1="189.6" x2="337.5" y2="175.1" stroke="#40407a" stroke-width="4" stroke-linecap="round"/><line x1="352.6" y1="196.8" x2="367.6" y2="189.6" stroke="#40407a" stroke-width="4" stroke-linecap="round"/><line x1="367.6" y1="232.9" x2="352.6" y2="240.1" stroke="#40407a" stroke-width="4" stroke-linecap="round"/><line x1="367.6" y1="232.9" x2="367.6" y2="218.4" stroke="#40407a" stroke-width="4" stroke-linecap="round"/><line x1="352.6" y1="240.1" x2="337.5" y2="232.9" stroke="#40407a" stroke-width="4" stroke-linecap="round"/><line x1="337.5" y1="232.9" x2="322.4" y2="240.1" stroke="#40407a" stroke-width="4" stroke-linecap="round"/><line x1="367.6" y1="218.4" x2="382.7" y2="211.2" stroke="#40407a" stroke-width="4" stroke-linecap="round"/><line x1="322.4" y1="240.1" x2="307.4" y2="232.9" stroke="#40407a" stroke-width="4" stroke-linecap="round"/><line x1="307.4" y1="232.9" x2="307.4" y2="218.4" stroke="#40407a" stroke-width="4" stroke-linecap="round"/><line x1="307.4" y1="218.4" x2="292.3" y2="211.2" stroke="#40407a" stroke-width="4" stroke-linecap="round"/><line x1="292.3" y1="211.2" x2="292.3" y2="196.8" stroke="#40407a" stroke-width="4" stroke-linecap="round"/><line x1="292.3" y1="196.8" x2="307.4" y2="189.6" stroke="#40407a" stroke-width="4" stroke-linecap="round"/><line x1="307.4" y1="189.6" x2="307.4" y2="175.1" stroke="#40407a" stroke-width="4" stroke-linecap="round"/><line x1="307.4" y1="175.1" x2="322.4" y2="167.9" stroke="#40407a" stroke-width="4" stroke-linecap="round"/><line x1="322.4" y1="167.9" x2="337.5" y2="175.1" stroke="#40407a" stroke-width="4" stroke-linecap="round"/><line x1="337.5" y1="175.1" x2="352.6" y2="167.9" stroke="#40407a" stroke-width="4" stroke-linecap="round"/><line x1="367.6" y1="189.6" x2="367.6" y2="175.1" stroke="#40407a" stroke-width="4" stroke-linecap="round"/><line x1="367.6" y1="189.6" x2="382.7" y2="196.8" stroke="#40407a" stroke-width="4" stroke-linecap="round"/><line x1="352.6" y1="167.9" x2="367.6" y2="175.1" stroke="#40407a" stroke-width="4" stroke-linecap="round"/><line x1="382.7" y1="211.2" x2="382.7" y2="196.8" stroke="#40407a" stroke-width="4" stroke-linecap="round"/><circle cx="376.4" cy="241.3" r="3.3" fill="url(#gnh)"/><circle cx="357" cy="250.6" r="3.3" fill="url(#gnh)"/><circle cx="318" cy="250.6" r="3.3" fill="url(#gnh)"/><circle cx="298.6" cy="241.3" r="3.3" fill="url(#gnh)"/><circle cx="279.1" cy="213.3" r="3.3" fill="url(#gnh)"/><circle cx="279.1" cy="194.7" r="3.3" fill="url(#gnh)"/><circle cx="298.6" cy="166.7" r="3.3" fill="url(#gnh)"/><circle cx="318" cy="157.4" r="3.3" fill="url(#gnh)"/><circle cx="357" cy="157.4" r="3.3" fill="url(#gnh)"/><circle cx="376.4" cy="166.7" r="3.3" fill="url(#gnh)"/><circle cx="395.9" cy="213.3" r="3.3" fill="url(#gnh)"/><circle cx="395.9" cy="194.7" r="3.3" fill="url(#gnh)"/><circle cx="352.6" cy="211.2" r="5.1" fill="url(#gn)"/><circle cx="337.5" cy="218.4" r="5.1" fill="url(#gn)"/><circle cx="322.4" cy="211.2" r="5.1" fill="url(#gn)"/><circle cx="322.4" cy="196.8" r="5.1" fill="url(#gn)"/><circle cx="337.5" cy="189.6" r="5.1" fill="url(#gn)"/><circle cx="352.6" cy="196.8" r="5.1" fill="url(#gn)"/><circle cx="367.6" cy="232.9" r="5.1" fill="url(#gn)"/><circle cx="352.6" cy="240.1" r="5.1" fill="url(#gn)"/><circle cx="337.5" cy="232.9" r="5.1" fill="url(#gn)"/><circle cx="367.6" cy="218.4" r="5.1" fill="url(#gn)"/><circle cx="322.4" cy="240.1" r="5.1" fill="url(#gn)"/><circle cx="307.4" cy="232.9" r="5.1" fill="url(#gn)"/><circle cx="307.4" cy="218.4" r="5.1" fill="url(#gn)"/><circle cx="292.3" cy="211.2" r="5.1" fill="url(#gn)"/><circle cx="292.3" cy="196.8" r="5.1" fill="url(#gn)"/><circle cx="307.4" cy="189.6" r="5.1" fill="url(#gn)"/><circle cx="307.4" cy="175.1" r="5.1" fill="url(#gn)"/><circle cx="322.4" cy="167.9" r="5.1" fill="url(#gn)"/><circle cx="337.5" cy="175.1" r="5.1" fill="url(#gn)"/><circle cx="367.6" cy="189.6" r="5.1" fill="url(#gn)"/><circle cx="352.6" cy="167.9" r="5.1" fill="url(#gn)"/><circle cx="367.6" cy="175.1" r="5.1" fill="url(#gn)"/><circle cx="382.7" cy="211.2" r="5.1" fill="url(#gn)"/><circle cx="382.7" cy="196.8" r="5.1" fill="url(#gn)"/></g>
<ellipse cx="336.8" cy="205" rx="66" ry="60" fill="none" stroke="#1212b0" stroke-width="2"/>
<g clip-path="url(#plotclip)" fill="none" stroke-linejoin="round">
<path d="M56.5,547.3 L57.1,547.9 L57.7,548.5 L58.3,549.1 L58.9,549.8 L59.4,550.3 L60,550.9 L60.6,551.5 L61.2,552.1 L61.8,552.6 L62.4,553.2 L63,553.8 L63.7,554.4 L64.4,554.9 L65,555.5 L65.7,556.1 L66.3,556.6 L67,557.1 L67.6,557.7 L68.3,558.2 L68.9,558.7 L69.6,559.2 L70.2,559.7 L70.9,560.1 L71.5,560.6 L72.3,561.1 L73,561.6 L73.7,562.1 L74.4,562.6 L75.1,563 L75.9,563.5 L76.6,563.9 L77.3,564.4 L78,564.8 L78.7,565.2 L79.5,565.6 L80.2,566 L80.9,566.4 L81.6,566.8 L82.3,567.2 L83.1,567.5 L83.8,567.9 L84.5,568.3 L85.3,568.6 L86.1,569 L86.9,569.4 L87.6,569.7 L88.4,570.1 L89.2,570.4 L90,570.7 L90.8,571 L91.6,571.4 L92.3,571.7 L93.1,572 L93.9,572.3 L94.7,572.5 L95.5,572.8 L96.3,573.1 L97.1,573.4 L97.8,573.6 L98.6,573.9 L99.4,574.1 L100.2,574.4 L101,574.6 L101.8,574.8 L102.6,575.1 L103.3,575.3 L104.1,575.5 L104.9,575.7 L105.7,575.9 L106.5,576.1 L107.3,576.3 L108,576.5 L108.8,576.7 L109.6,576.9 L110.4,577.1 L111.2,577.2 L112,577.4 L112.8,577.6 L113.5,577.7 L114.3,577.9 L115.1,578 L116,578.2 L116.8,578.4 L117.7,578.5 L118.5,578.7 L119.4,578.8 L120.2,579 L121.1,579.1 L121.9,579.3 L122.8,579.4 L123.6,579.5 L124.5,579.6 L125.3,579.8 L126.2,579.9 L127,580 L127.9,580.1 L128.7,580.2 L129.6,580.3 L130.4,580.5 L131.3,580.6 L132.1,580.7 L133,580.8 L133.8,580.9 L134.7,580.9 L135.5,581 L136.4,581.1 L137.2,581.2 L138.1,581.3 L138.9,581.4 L139.8,581.5 L140.6,581.5 L141.5,581.6 L142.3,581.7 L143.2,581.8 L144,581.8 L144.9,581.9 L145.7,582 L146.6,582 L147.4,582.1 L148.3,582.2 L149.1,582.2 L150,582.3 L150.8,582.4 L151.7,582.4 L152.5,582.5 L153.4,582.5 L154.2,582.6 L155.1,582.6 L155.9,582.7 L156.8,582.7 L157.6,582.8 L158.5,582.8 L159.3,582.9 L160.2,582.9 L161,583 L161.9,583 L162.7,583 L163.6,583.1 L164.4,583.1 L165.3,583.2 L166.1,583.2 L167,583.2 L167.8,583.3 L168.7,583.3 L169.5,583.4 L170.4,583.4 L171.2,583.4 L172.1,583.5 L172.9,583.5 L173.8,583.5 L174.6,583.6 L175.5,583.6 L176.3,583.6 L177.2,583.6 L178,583.7 L178.9,583.7 L179.7,583.7 L180.6,583.8 L181.4,583.8 L182.3,583.8 L183.1,583.8 L184,583.9 L184.8,583.9 L185.7,583.9 L186.5,583.9 L187.4,584 L188.2,584 L189.1,584 L190,584 L190.8,584.1 L191.7,584.1 L192.5,584.1 L193.4,584.1 L194.2,584.2 L195.1,584.2 L195.9,584.2 L196.8,584.2 L197.6,584.2 L198.5,584.3 L199.3,584.3 L200.2,584.3 L201,584.3 L201.9,584.3 L202.7,584.4 L203.6,584.4 L204.4,584.4 L205.3,584.4 L206.1,584.4 L207,584.5 L207.8,584.5 L208.7,584.5 L209.5,584.5 L210.4,584.5 L211.2,584.5 L212.1,584.6 L212.9,584.6 L213.8,584.6 L214.6,584.6 L215.5,584.6 L216.3,584.6 L217.2,584.7 L218,584.7 L218.9,584.7 L219.7,584.7 L220.6,584.7 L221.4,584.7 L222.3,584.8 L223.1,584.8 L224,584.8 L224.8,584.8 L225.7,584.8 L226.5,584.8 L227.4,584.9 L228.2,584.9 L229.1,584.9 L229.9,584.9 L230.8,584.9 L231.6,584.9 L232.5,585 L233.3,585 L234.2,585 L235,585 L235.9,585 L236.7,585 L237.6,585.1 L238.4,585.1 L239.3,585.1 L240.1,585.1 L241,585.1 L241.8,585.1 L242.7,585.1 L243.5,585.2 L244.4,585.2 L245.2,585.2 L246.1,585.2 L246.9,585.2 L247.8,585.2 L248.6,585.3 L249.5,585.3 L250.3,585.3 L251.2,585.3 L252,585.3 L252.9,585.3 L253.7,585.4 L254.6,585.4 L255.4,585.4 L256.3,585.4 L257.1,585.4 L258,585.4 L258.8,585.5 L259.7,585.5 L260.5,585.5 L261.4,585.5 L262.2,585.5 L263.1,585.5 L263.9,585.6 L264.8,585.6 L265.6,585.6 L266.5,585.6 L267.3,585.6 L268.2,585.6 L269,585.6 L269.9,585.7 L270.7,585.7 L271.6,585.7 L272.4,585.7 L273.3,585.7 L274.1,585.7 L275,585.8 L275.8,585.8 L276.7,585.8 L277.5,585.8 L278.4,585.8 L279.2,585.8 L280.1,585.9 L280.9,585.9 L281.8,585.9 L282.6,585.9 L283.5,585.9 L284.3,585.9 L285.2,586 L286,586 L286.9,586 L287.7,586 L288.6,586 L289.4,586.1 L290.3,586.1 L291.1,586.1 L292,586.1 L292.9,586.1 L293.7,586.1 L294.6,586.2 L295.4,586.2 L296.3,586.2 L297.1,586.2 L298,586.2 L298.8,586.2 L299.7,586.3 L300.5,586.3 L301.4,586.3 L302.2,586.3 L303.1,586.3 L303.9,586.4 L304.8,586.4 L305.6,586.4 L306.5,586.4 L307.3,586.4 L308.2,586.4 L309,586.5 L309.9,586.5 L310.7,586.5 L311.6,586.5 L312.4,586.5 L313.3,586.5 L314.1,586.6 L315,586.6 L315.8,586.6 L316.7,586.6 L317.5,586.6 L318.4,586.7 L319.2,586.7 L320.1,586.7 L320.9,586.7 L321.8,586.7 L322.6,586.8 L323.5,586.8 L324.3,586.8 L325.2,586.8 L326,586.8 L326.9,586.8 L327.7,586.9 L328.6,586.9 L329.4,586.9 L330.3,586.9 L331.1,586.9 L332,587 L332.8,587 L333.7,587 L334.5,587 L335.4,587 L336.2,587.1 L337.1,587.1 L337.9,587.1 L338.8,587.1 L339.6,587.1 L340.5,587.1 L341.3,587.2 L342.2,587.2 L343,587.2 L343.9,587.2 L344.7,587.2 L345.6,587.3 L346.4,587.3 L347.3,587.3 L348.1,587.3 L349,587.3 L349.8,587.4 L350.7,587.4 L351.5,587.4 L352.4,587.4 L353.2,587.4 L354.1,587.5 L354.9,587.5 L355.8,587.5 L356.6,587.5 L357.5,587.5 L358.3,587.5 L359.2,587.6 L360,587.6 L360.9,587.6 L361.7,587.6 L362.6,587.6 L363.4,587.7 L364.3,587.7 L365.1,587.7 L366,587.7 L366.8,587.7 L367.7,587.8 L368.5,587.8 L369.4,587.8 L370.2,587.8 L371.1,587.8 L371.9,587.9 L372.8,587.9 L373.6,587.9 L374.5,587.9 L375.3,587.9 L376.2,588 L377,588 L377.9,588 L378.7,588 L379.6,588 L380.4,588.1 L381.3,588.1 L382.1,588.1 L383,588.1 L383.8,588.1 L384.7,588.2 L385.5,588.2 L386.4,588.2 L387.2,588.2 L388.1,588.2 L388.9,588.3 L389.8,588.3 L390.6,588.3 L391.5,588.3 L392.3,588.3 L393.2,588.4 L394.1,588.4 L394.9,588.4 L395.8,588.4 L396.6,588.4 L397.5,588.5 L398.3,588.5 L399.2,588.5 L400,588.5 L400.9,588.5 L401.7,588.6 L402.6,588.6 L403.4,588.6 L404.3,588.6 L405.1,588.6 L406,588.7 L406.8,588.7 L407.7,588.7 L408.5,588.7 L409.4,588.7 L410.2,588.8 L411.1,588.8 L411.9,588.8 L412.8,588.8 L413.6,588.8 L414.5,588.9 L415.3,588.9 L416.2,588.9 L417,588.9 L417.9,588.9 L418.7,589 L419.6,589 L420.4,589 L421.3,589 L422.1,589 L423,589.1 L423.8,589.1 L424.7,589.1 L425.5,589.1 L426.4,589.2 L427.2,589.2 L428.1,589.2 L428.9,589.2 L429.8,589.2 L430.6,589.3 L431.5,589.3 L432.3,589.3 L433.2,589.3 L434,589.3 L434.9,589.4 L435.7,589.4 L436.6,589.4 L437.4,589.4 L438.3,589.4 L439.1,589.5 L440,589.5 L440.8,589.5 L441.7,589.5 L442.5,589.5 L443.4,589.6 L444.2,589.6 L445.1,589.6 L445.9,589.6 L446.8,589.6 L447.6,589.7 L448.5,589.7 L449,589.7" stroke="#f0a020" stroke-width="2.4"/>
<path d="M252,351.7h0.01M253.1,357.8h0.01M254.2,363.8h0.01M255.3,369.6h0.01M256.4,375.3h0.01M257.5,380.9h0.01M258.6,386.4h0.01M259.7,391.7h0.01M260.8,397h0.01M261.9,402.1h0.01M263,407.1h0.01M264.1,412h0.01M265.2,416.8h0.01M266.3,421.4h0.01M267.4,426h0.01M268.5,430.5h0.01M269.6,434.8h0.01M270.7,439.1h0.01M271.8,443.3h0.01M272.9,447.4h0.01M274,451.4h0.01M275.1,455.3h0.01M276.2,459.1h0.01M277.3,462.8h0.01M278.4,466.4h0.01M279.5,470h0.01M280.6,473.4h0.01M281.7,476.8h0.01M282.8,480.1h0.01M283.9,483.3h0.01M285,486.5h0.01M286.1,489.6h0.01M287.2,492.6h0.01M288.3,495.5h0.01M289.4,498.4h0.01M290.5,501.2h0.01M291.6,503.9h0.01M292.7,506.5h0.01M293.8,509.1h0.01M294.9,511.7h0.01M296,514.1h0.01M297.1,516.5h0.01M298.2,518.9h0.01M299.3,521.2h0.01M300.4,523.4h0.01M301.5,525.6h0.01M302.6,527.7h0.01M303.7,529.8h0.01M304.8,531.8h0.01M305.9,533.8h0.01M307,535.7h0.01M308.1,537.5h0.01M309.2,539.3h0.01M310.3,541.1h0.01M311.4,542.8h0.01M312.5,544.5h0.01M313.6,546.1h0.01M314.7,547.7h0.01M315.8,549.3h0.01M316.9,550.8h0.01M318,552.2h0.01M319.1,553.7h0.01M320.2,555h0.01M321.3,556.4h0.01M322.4,557.7h0.01M323.5,559h0.01M324.6,560.2h0.01M325.7,561.4h0.01M326.8,562.6h0.01M327.9,563.7h0.01M329,564.8h0.01M330.1,565.9h0.01M331.2,566.9h0.01M332.3,567.9h0.01M333.4,568.9h0.01M334.5,569.8h0.01M335.6,570.7h0.01M336.7,571.6h0.01M337.8,572.5h0.01M338.9,573.3h0.01M340,574.1h0.01M341.1,574.9h0.01M342.2,575.6h0.01M343.3,576.4h0.01M344.4,577.1h0.01M345.5,577.8h0.01M346.6,578.4h0.01M347.7,579.1h0.01M348.8,579.7h0.01M349.9,580.3h0.01M351,580.8h0.01M352.1,581.4h0.01M353.2,581.9h0.01M354.3,582.4h0.01M355.4,582.9h0.01M356.5,583.4h0.01M357.6,583.9h0.01M358.7,584.3h0.01M359.8,584.7h0.01M360.9,585.1h0.01M362,585.5h0.01M363.1,585.9h0.01M364.2,586.3h0.01M365.3,586.6h0.01M366.4,587h0.01M367.5,587.3h0.01M368.6,587.6h0.01M369.7,587.9h0.01M370.8,588.1h0.01M371.9,588.4h0.01M373,588.7h0.01M374.1,588.9h0.01M375.2,589.1h0.01M376.3,589.3h0.01M377.4,589.5h0.01M378.5,589.7h0.01M379.6,589.9h0.01M380.7,590.1h0.01M381.8,590.3h0.01M382.9,590.4h0.01M384,590.6h0.01M385.1,590.7h0.01M386.2,590.8h0.01M387.3,591h0.01M388.4,591.1h0.01M389.5,591.2h0.01M390.6,591.3h0.01M391.7,591.4h0.01M392.8,591.4h0.01M393.9,591.5h0.01M395,591.6h0.01M396.1,591.6h0.01M397.2,591.7h0.01M398.3,591.7h0.01M399.4,591.8h0.01M400.5,591.8h0.01M401.6,591.9h0.01M402.7,591.9h0.01M403.8,591.9h0.01M404.9,591.9h0.01M406,591.9h0.01M407.1,592h0.01M408.2,592h0.01M409.3,592h0.01M410.4,592h0.01M411.5,592h0.01M412.6,591.9h0.01M413.7,591.9h0.01M414.8,591.9h0.01M415.9,591.9h0.01M417,591.9h0.01M418.1,591.9h0.01M419.2,591.8h0.01M420.3,591.8h0.01M421.4,591.8h0.01M422.5,591.7h0.01M423.6,591.7h0.01M424.7,591.7h0.01M425.8,591.6h0.01M426.9,591.6h0.01M428,591.6h0.01M429.1,591.5h0.01M430.2,591.5h0.01M431.3,591.4h0.01M432.4,591.4h0.01M433.5,591.3h0.01M434.6,591.3h0.01M435.7,591.3h0.01M436.8,591.2h0.01M437.9,591.2h0.01M439,591.1h0.01M440.1,591.1h0.01M441.2,591h0.01M442.3,591h0.01M443.4,590.9h0.01M444.5,590.9h0.01M445.6,590.9h0.01M446.7,590.8h0.01M447.8,590.8h0.01M448.9,590.7h0.01" stroke="#000" stroke-width="1.9" stroke-linecap="round"/>
<path d="M201.5,351.7 L201.7,352.6 L201.8,353.5 L201.9,354.3 L202.1,355.2 L202.2,356.1 L202.3,356.9 L202.4,357.8 L202.6,358.7 L202.7,359.5 L202.8,360.4 L203,361.3 L203.1,362.1 L203.2,363 L203.4,363.8 L203.5,364.7 L203.6,365.5 L203.8,366.3 L203.9,367.2 L204,368 L204.1,368.9 L204.3,369.7 L204.4,370.5 L204.5,371.3 L204.7,372.2 L204.8,373 L204.9,373.8 L205.1,374.6 L205.2,375.4 L205.3,376.2 L205.5,377.1 L205.6,377.9 L205.7,378.7 L205.8,379.5 L206,380.3 L206.1,381.1 L206.2,381.9 L206.4,382.6 L206.5,383.4 L206.7,384.6 L206.9,385.8 L207.1,387 L207.3,388.1 L207.5,389.3 L207.7,390.4 L207.9,391.6 L208.1,392.7 L208.3,393.9 L208.5,395 L208.7,396.1 L208.9,397.2 L209.1,398.4 L209.2,399.5 L209.4,400.6 L209.6,401.7 L209.8,402.8 L210,403.9 L210.2,404.9 L210.4,406 L210.6,407.1 L210.8,408.2 L211,409.2 L211.2,410.3 L211.4,411.4 L211.6,412.4 L211.8,413.4 L212,414.5 L212.2,415.5 L212.4,416.6 L212.6,417.6 L212.8,418.6 L213,419.6 L213.2,420.6 L213.4,421.6 L213.6,422.7 L213.8,423.6 L214,424.6 L214.2,425.6 L214.4,426.6 L214.5,427.6 L214.7,428.6 L214.9,429.5 L215.1,430.5 L215.3,431.5 L215.5,432.4 L215.7,433.4 L215.9,434.3 L216.1,435.3 L216.3,436.2 L216.5,437.2 L216.7,438.1 L216.9,439 L217.1,439.9 L217.3,440.9 L217.5,441.8 L217.7,442.7 L217.9,443.6 L218.1,444.5 L218.3,445.4 L218.5,446.3 L218.7,447.2 L218.9,448 L219.1,448.9 L219.3,449.8 L219.5,450.7 L219.6,451.5 L219.8,452.4 L220,453.3 L220.2,454.1 L220.4,455 L220.6,455.8 L220.8,456.7 L221,457.5 L221.2,458.3 L221.4,459.2 L221.6,460 L221.8,460.8 L222,461.6 L222.2,462.4 L222.4,463.3 L222.6,464.1 L222.8,464.9 L223,465.7 L223.2,466.5 L223.4,467.3 L223.6,468 L223.8,468.8 L224,469.6 L224.2,470.4 L224.4,471.4 L224.7,472.4 L224.9,473.5 L225.2,474.5 L225.5,475.5 L225.7,476.5 L226,477.5 L226.3,478.5 L226.5,479.4 L226.8,480.4 L227,481.4 L227.3,482.3 L227.6,483.3 L227.8,484.2 L228.1,485.2 L228.3,486.1 L228.6,487 L228.9,488 L229.1,488.9 L229.4,489.8 L229.7,490.7 L229.9,491.6 L230.2,492.5 L230.4,493.4 L230.7,494.3 L231,495.1 L231.2,496 L231.5,496.9 L231.8,497.7 L232,498.6 L232.3,499.4 L232.5,500.3 L232.8,501.1 L233.1,502 L233.3,502.8 L233.6,503.6 L233.8,504.4 L234.1,505.2 L234.4,506 L234.6,506.8 L234.9,507.6 L235.2,508.4 L235.4,509.2 L235.7,510 L235.9,510.7 L236.2,511.5 L236.5,512.3 L236.7,513 L237.1,514 L237.4,514.9 L237.7,515.8 L238,516.8 L238.4,517.7 L238.7,518.6 L239,519.5 L239.3,520.3 L239.7,521.2 L240,522.1 L240.3,523 L240.6,523.8 L241,524.7 L241.3,525.5 L241.6,526.4 L242,527.2 L242.3,528 L242.6,528.8 L242.9,529.6 L243.3,530.4 L243.6,531.2 L243.9,532 L244.2,532.8 L244.6,533.6 L244.9,534.3 L245.2,535.1 L245.6,535.8 L245.9,536.6 L246.2,537.3 L246.5,538.1 L246.9,538.9 L247.3,539.8 L247.7,540.7 L248.1,541.5 L248.5,542.4 L248.9,543.2 L249.3,544 L249.7,544.8 L250.1,545.6 L250.5,546.4 L250.9,547.2 L251.2,548 L251.6,548.8 L252,549.5 L252.4,550.3 L252.8,551 L253.2,551.8 L253.6,552.5 L254,553.2 L254.4,553.9 L254.8,554.6 L255.2,555.3 L255.6,556.1 L256.1,556.9 L256.5,557.7 L257,558.5 L257.5,559.3 L257.9,560 L258.4,560.8 L258.8,561.5 L259.3,562.2 L259.7,563 L260.2,563.7 L260.7,564.4 L261.1,565.1 L261.6,565.7 L262,566.4 L262.5,567.1 L263,567.7 L263.5,568.5 L264,569.2 L264.5,569.9 L265,570.6 L265.6,571.3 L266.1,572 L266.6,572.7 L267.1,573.4 L267.7,574 L268.2,574.7 L268.7,575.3 L269.2,575.9 L269.8,576.6 L270.3,577.2 L270.9,577.8 L271.5,578.5 L272,579.2 L272.6,579.8 L273.2,580.4 L273.8,581 L274.4,581.6 L275,582.2 L275.6,582.8 L276.2,583.4 L276.8,584 L277.3,584.5 L277.9,585.1 L278.6,585.7 L279.2,586.2 L279.9,586.8 L280.6,587.4 L281.2,587.9 L281.9,588.4 L282.5,589 L283.2,589.5 L283.8,590 L284.5,590.5 L285.1,591 L285.8,591.4 L286.4,591.9 L287.2,592.4 L287.9,592.9 L288.6,593.3 L289.3,593.8 L290,594.2 L290.8,594.7 L291.5,595.1 L292.2,595.5 L292.9,595.9 L293.6,596.3 L294.4,596.7 L295.1,597.1 L295.8,597.5 L296.5,597.8 L297.2,598.2 L298,598.6 L298.8,598.9 L299.6,599.3 L300.4,599.6 L301.2,599.9 L301.9,600.3 L302.7,600.6 L303.5,600.9 L304.3,601.2 L305.1,601.5 L305.9,601.7 L306.7,602 L307.4,602.3 L308.2,602.5 L309,602.8 L309.8,603 L310.6,603.2 L311.4,603.5 L312.1,603.7 L312.9,603.9 L313.7,604.1 L314.5,604.3 L315.3,604.5 L316.1,604.6 L316.9,604.8 L317.6,605 L318.4,605.1 L319.2,605.3 L320.1,605.5 L320.9,605.6 L321.8,605.8 L322.6,605.9 L323.5,606 L324.3,606.2 L325.2,606.3 L326,606.4 L326.9,606.5 L327.7,606.6 L328.6,606.7 L329.4,606.8 L330.3,606.9 L331.1,607 L332,607.1 L332.8,607.2 L333.7,607.2 L334.5,607.3 L335.4,607.4 L336.2,607.4 L337.1,607.5 L337.9,607.6 L338.8,607.6 L339.6,607.7 L340.5,607.7 L341.3,607.7 L342.2,607.8 L343,607.8 L343.9,607.8 L344.7,607.9 L345.6,607.9 L346.4,607.9 L347.3,607.9 L348.1,607.9 L349,607.9 L349.8,608 L350.7,608 L351.5,608 L352.4,608 L353.2,608 L354.1,608 L354.9,608 L355.8,608 L356.6,607.9 L357.5,607.9 L358.3,607.9 L359.2,607.9 L360,607.9 L360.9,607.9 L361.7,607.9 L362.6,607.8 L363.4,607.8 L364.3,607.8 L365.1,607.8 L366,607.8 L366.8,607.7 L367.7,607.7 L368.5,607.7 L369.4,607.6 L370.2,607.6 L371.1,607.6 L371.9,607.5 L372.8,607.5 L373.6,607.5 L374.5,607.4 L375.3,607.4 L376.2,607.4 L377,607.3 L377.9,607.3 L378.7,607.2 L379.6,607.2 L380.4,607.2 L381.3,607.1 L382.1,607.1 L383,607 L383.8,607 L384.7,606.9 L385.5,606.9 L386.4,606.9 L387.2,606.8 L388.1,606.8 L388.9,606.7 L389.8,606.7 L390.6,606.6 L391.5,606.6 L392.3,606.5 L393.2,606.5 L394.1,606.4 L394.9,606.4 L395.8,606.3 L396.6,606.3 L397.5,606.2 L398.3,606.2 L399.2,606.1 L400,606.1 L400.9,606 L401.7,606 L402.6,605.9 L403.4,605.9 L404.3,605.8 L405.1,605.8 L406,605.7 L406.8,605.7 L407.7,605.6 L408.5,605.6 L409.4,605.6 L410.2,605.5 L411.1,605.5 L411.9,605.4 L412.8,605.4 L413.6,605.3 L414.5,605.3 L415.3,605.2 L416.2,605.2 L417,605.1 L417.9,605.1 L418.7,605 L419.6,605 L420.4,604.9 L421.3,604.9 L422.1,604.8 L423,604.8 L423.8,604.7 L424.7,604.7 L425.5,604.6 L426.4,604.6 L427.2,604.5 L428.1,604.5 L428.9,604.4 L429.8,604.4 L430.6,604.3 L431.5,604.3 L432.3,604.2 L433.2,604.2 L434,604.1 L434.9,604.1 L435.7,604 L436.6,604 L437.4,603.9 L438.3,603.9 L439.1,603.8 L440,603.8 L440.8,603.7 L441.7,603.7 L442.5,603.6 L443.4,603.6 L444.2,603.5 L445.1,603.5 L445.9,603.4 L446.8,603.4 L447.6,603.3 L448.5,603.3 L449,603.2" stroke="#e81ee8" stroke-width="2.4"/>
<path d="M177.5,351.7 L177.6,352.7 L177.7,353.6 L177.8,354.6 L178,355.6 L178.1,356.5 L178.2,357.5 L178.4,358.4 L178.5,359.4 L178.6,360.3 L178.8,361.2 L178.9,362.2 L179,363.1 L179.2,364 L179.3,365 L179.4,365.9 L179.5,366.8 L179.7,367.7 L179.8,368.7 L179.9,369.6 L180.1,370.5 L180.2,371.4 L180.3,372.3 L180.5,373.2 L180.6,374.1 L180.7,375 L180.9,375.9 L181,376.8 L181.1,377.7 L181.2,378.6 L181.4,379.5 L181.5,380.3 L181.6,381.2 L181.8,382.1 L181.9,383 L182,383.8 L182.2,384.7 L182.3,385.6 L182.4,386.4 L182.6,387.3 L182.7,388.1 L182.8,389 L183,389.8 L183.1,390.7 L183.2,391.5 L183.3,392.4 L183.5,393.2 L183.6,394.1 L183.7,394.9 L183.9,395.7 L184,396.6 L184.1,397.4 L184.3,398.2 L184.4,399 L184.5,399.8 L184.7,400.7 L184.8,401.5 L184.9,402.3 L185,403.1 L185.2,403.9 L185.3,404.7 L185.4,405.5 L185.6,406.3 L185.7,407.1 L185.8,407.9 L186,408.7 L186.2,409.9 L186.4,411 L186.5,412.2 L186.7,413.4 L186.9,414.5 L187.1,415.7 L187.3,416.8 L187.5,418 L187.7,419.1 L187.9,420.3 L188.1,421.4 L188.3,422.5 L188.5,423.6 L188.7,424.7 L188.9,425.8 L189.1,426.9 L189.3,428 L189.5,429.1 L189.7,430.2 L189.9,431.3 L190.1,432.4 L190.3,433.4 L190.5,434.5 L190.7,435.5 L190.9,436.6 L191.1,437.7 L191.3,438.7 L191.5,439.7 L191.7,440.8 L191.8,441.8 L192,442.8 L192.2,443.8 L192.4,444.8 L192.6,445.9 L192.8,446.9 L193,447.9 L193.2,448.8 L193.4,449.8 L193.6,450.8 L193.8,451.8 L194,452.8 L194.2,453.7 L194.4,454.7 L194.6,455.7 L194.8,456.6 L195,457.6 L195.2,458.5 L195.4,459.5 L195.6,460.4 L195.8,461.3 L196,462.3 L196.2,463.2 L196.4,464.1 L196.6,465 L196.8,465.9 L196.9,466.8 L197.1,467.7 L197.3,468.6 L197.5,469.5 L197.7,470.4 L197.9,471.3 L198.1,472.2 L198.3,473 L198.5,473.9 L198.7,474.8 L198.9,475.6 L199.1,476.5 L199.3,477.3 L199.5,478.2 L199.7,479 L199.9,479.9 L200.1,480.7 L200.3,481.5 L200.5,482.4 L200.7,483.2 L200.9,484 L201.1,484.8 L201.3,485.6 L201.5,486.4 L201.7,487.2 L201.9,488 L202.1,488.8 L202.2,489.6 L202.4,490.4 L202.6,491.2 L202.8,492 L203.1,493 L203.4,494 L203.6,495.1 L203.9,496.1 L204.1,497.1 L204.4,498.1 L204.7,499.1 L204.9,500.1 L205.2,501 L205.5,502 L205.7,503 L206,503.9 L206.2,504.9 L206.5,505.8 L206.8,506.8 L207,507.7 L207.3,508.6 L207.5,509.5 L207.8,510.5 L208.1,511.4 L208.3,512.3 L208.6,513.2 L208.9,514.1 L209.1,514.9 L209.4,515.8 L209.6,516.7 L209.9,517.5 L210.2,518.4 L210.4,519.3 L210.7,520.1 L210.9,521 L211.2,521.8 L211.5,522.6 L211.7,523.4 L212,524.3 L212.3,525.1 L212.5,525.9 L212.8,526.7 L213,527.5 L213.3,528.3 L213.6,529.1 L213.8,529.8 L214.1,530.6 L214.4,531.4 L214.6,532.1 L214.9,532.9 L215.2,533.8 L215.5,534.8 L215.9,535.7 L216.2,536.6 L216.5,537.5 L216.8,538.4 L217.2,539.3 L217.5,540.2 L217.8,541.1 L218.1,541.9 L218.5,542.8 L218.8,543.6 L219.1,544.5 L219.5,545.3 L219.8,546.2 L220.1,547 L220.4,547.8 L220.8,548.6 L221.1,549.4 L221.4,550.2 L221.7,551 L222.1,551.8 L222.4,552.5 L222.7,553.3 L223.1,554.1 L223.4,554.8 L223.7,555.6 L224,556.3 L224.4,557 L224.8,557.9 L225.1,558.7 L225.5,559.6 L225.9,560.4 L226.3,561.3 L226.7,562.1 L227.1,562.9 L227.5,563.7 L227.9,564.5 L228.3,565.3 L228.7,566.1 L229.1,566.8 L229.5,567.6 L229.9,568.3 L230.2,569.1 L230.6,569.8 L231,570.5 L231.4,571.3 L231.8,572 L232.2,572.7 L232.7,573.5 L233.1,574.3 L233.6,575.1 L234,575.8 L234.5,576.6 L235,577.4 L235.4,578.1 L235.9,578.8 L236.3,579.6 L236.8,580.3 L237.2,581 L237.7,581.7 L238.2,582.4 L238.6,583.1 L239.1,583.7 L239.5,584.4 L240.1,585.1 L240.6,585.9 L241.1,586.6 L241.6,587.3 L242.2,588 L242.7,588.7 L243.2,589.3 L243.7,590 L244.2,590.6 L244.8,591.3 L245.3,591.9 L245.8,592.5 L246.3,593.2 L246.9,593.8 L247.5,594.5 L248.1,595.1 L248.7,595.8 L249.3,596.4 L249.9,597 L250.5,597.6 L251,598.2 L251.6,598.8 L252.2,599.4 L252.8,599.9 L253.4,600.5 L254.1,601.1 L254.7,601.6 L255.4,602.2 L256,602.8 L256.7,603.3 L257.3,603.8 L258,604.4 L258.6,604.9 L259.3,605.4 L259.9,605.8 L260.6,606.3 L261.3,606.8 L262,607.3 L262.7,607.8 L263.4,608.2 L264.1,608.7 L264.9,609.2 L265.6,609.6 L266.3,610 L267,610.4 L267.7,610.8 L268.5,611.2 L269.2,611.6 L269.9,612 L270.6,612.3 L271.3,612.7 L272.1,613.1 L272.9,613.4 L273.7,613.8 L274.5,614.1 L275.3,614.4 L276,614.7 L276.8,615 L277.6,615.3 L278.4,615.6 L279.2,615.9 L280,616.2 L280.7,616.4 L281.5,616.7 L282.3,616.9 L283.1,617.1 L283.9,617.4 L284.7,617.6 L285.5,617.8 L286.2,618 L287,618.2 L287.8,618.4 L288.6,618.5 L289.4,618.7 L290.2,618.9 L291,619 L291.8,619.2 L292.7,619.3 L293.5,619.5 L294.4,619.6 L295.2,619.8 L296.1,619.9 L296.9,620 L297.8,620.1 L298.6,620.2 L299.5,620.3 L300.3,620.4 L301.2,620.5 L302,620.6 L302.9,620.7 L303.7,620.7 L304.6,620.8 L305.4,620.9 L306.3,620.9 L307.1,621 L308,621 L308.8,621.1 L309.7,621.1 L310.5,621.2 L311.4,621.2 L312.2,621.2 L313.1,621.2 L313.9,621.3 L314.8,621.3 L315.6,621.3 L316.5,621.3 L317.3,621.3 L318.2,621.3 L319,621.3 L319.9,621.3 L320.7,621.3 L321.6,621.3 L322.4,621.3 L323.3,621.3 L324.1,621.3 L325,621.3 L325.8,621.3 L326.7,621.2 L327.5,621.2 L328.4,621.2 L329.2,621.2 L330.1,621.1 L330.9,621.1 L331.8,621.1 L332.6,621 L333.5,621 L334.3,621 L335.2,620.9 L336,620.9 L336.9,620.9 L337.7,620.8 L338.6,620.8 L339.4,620.7 L340.3,620.7 L341.1,620.7 L342,620.6 L342.8,620.6 L343.7,620.5 L344.5,620.5 L345.4,620.4 L346.2,620.4 L347.1,620.3 L347.9,620.3 L348.8,620.2 L349.6,620.2 L350.5,620.1 L351.3,620.1 L352.2,620 L353,620 L353.9,619.9 L354.7,619.9 L355.6,619.8 L356.4,619.8 L357.3,619.7 L358.1,619.7 L359,619.6 L359.8,619.6 L360.7,619.5 L361.5,619.4 L362.4,619.4 L363.2,619.3 L364.1,619.3 L364.9,619.2 L365.8,619.2 L366.6,619.1 L367.5,619.1 L368.3,619 L369.2,619 L370,618.9 L370.9,618.9 L371.7,618.8 L372.6,618.8 L373.4,618.7 L374.3,618.7 L375.1,618.6 L376,618.6 L376.8,618.5 L377.7,618.5 L378.5,618.4 L379.4,618.4 L380.2,618.3 L381.1,618.3 L381.9,618.2 L382.8,618.2 L383.6,618.1 L384.5,618.1 L385.3,618 L386.2,618 L387.1,617.9 L387.9,617.9 L388.8,617.8 L389.6,617.8 L390.5,617.8 L391.3,617.7 L392.2,617.7 L393,617.6 L393.9,617.6 L394.7,617.5 L395.6,617.5 L396.4,617.5 L397.3,617.4 L398.1,617.4 L399,617.3 L399.8,617.3 L400.7,617.3 L401.5,617.2 L402.4,617.2 L403.2,617.1 L404.1,617.1 L404.9,617.1 L405.8,617 L406.6,617 L407.5,616.9 L408.3,616.9 L409.2,616.9 L410,616.8 L410.9,616.8 L411.7,616.8 L412.6,616.7 L413.4,616.7 L414.3,616.7 L415.1,616.6 L416,616.6 L416.8,616.6 L417.7,616.5 L418.5,616.5 L419.4,616.5 L420.2,616.4 L421.1,616.4 L421.9,616.4 L422.8,616.3 L423.6,616.3 L424.5,616.3 L425.3,616.3 L426.2,616.2 L427,616.2 L427.9,616.2 L428.7,616.1 L429.6,616.1 L430.4,616.1 L431.3,616 L432.1,616 L433,616 L433.8,616 L434.7,615.9 L435.5,615.9 L436.4,615.9 L437.2,615.8 L438.1,615.8 L438.9,615.8 L439.8,615.8 L440.6,615.7 L441.5,615.7 L442.3,615.7 L443.2,615.6 L444,615.6 L444.9,615.6 L445.7,615.5 L446.6,615.5 L447.4,615.5 L448.3,615.5 L449,615.4" stroke="#8a1ed2" stroke-width="2.4"/>
<path d="M161.1,351.9 L161.2,352.9 L161.4,353.9 L161.5,354.9 L161.6,355.8 L161.8,356.8 L161.9,357.8 L162,358.8 L162.1,359.7 L162.3,360.7 L162.4,361.7 L162.5,362.6 L162.7,363.6 L162.8,364.5 L162.9,365.5 L163.1,366.4 L163.2,367.4 L163.3,368.3 L163.5,369.3 L163.6,370.2 L163.7,371.1 L163.8,372.1 L164,373 L164.1,373.9 L164.2,374.8 L164.4,375.7 L164.5,376.7 L164.6,377.6 L164.8,378.5 L164.9,379.4 L165,380.3 L165.2,381.2 L165.3,382.1 L165.4,383 L165.5,383.8 L165.7,384.7 L165.8,385.6 L165.9,386.5 L166.1,387.4 L166.2,388.2 L166.3,389.1 L166.5,390 L166.6,390.8 L166.7,391.7 L166.9,392.6 L167,393.4 L167.1,394.3 L167.3,395.1 L167.4,396 L167.5,396.8 L167.6,397.7 L167.8,398.5 L167.9,399.3 L168,400.2 L168.2,401 L168.3,401.8 L168.4,402.7 L168.6,403.5 L168.7,404.3 L168.8,405.1 L169,405.9 L169.1,406.7 L169.2,407.5 L169.3,408.3 L169.5,409.2 L169.6,410 L169.7,410.7 L169.9,411.5 L170,412.3 L170.2,413.5 L170.4,414.7 L170.6,415.9 L170.8,417 L171,418.2 L171.2,419.3 L171.4,420.5 L171.6,421.6 L171.8,422.8 L172,423.9 L172.2,425 L172.4,426.1 L172.5,427.2 L172.7,428.3 L172.9,429.4 L173.1,430.5 L173.3,431.6 L173.5,432.7 L173.7,433.8 L173.9,434.9 L174.1,435.9 L174.3,437 L174.5,438 L174.7,439.1 L174.9,440.1 L175.1,441.2 L175.3,442.2 L175.5,443.2 L175.7,444.3 L175.9,445.3 L176.1,446.3 L176.3,447.3 L176.5,448.3 L176.7,449.3 L176.9,450.3 L177.1,451.3 L177.3,452.3 L177.5,453.2 L177.7,454.2 L177.8,455.2 L178,456.1 L178.2,457.1 L178.4,458 L178.6,459 L178.8,459.9 L179,460.9 L179.2,461.8 L179.4,462.7 L179.6,463.6 L179.8,464.6 L180,465.5 L180.2,466.4 L180.4,467.3 L180.6,468.2 L180.8,469.1 L181,470 L181.2,470.8 L181.4,471.7 L181.6,472.6 L181.8,473.5 L182,474.3 L182.2,475.2 L182.4,476 L182.6,476.9 L182.8,477.7 L183,478.6 L183.1,479.4 L183.3,480.3 L183.5,481.1 L183.7,481.9 L183.9,482.7 L184.1,483.5 L184.3,484.4 L184.5,485.2 L184.7,486 L184.9,486.8 L185.1,487.6 L185.3,488.4 L185.5,489.1 L185.7,489.9 L185.9,490.7 L186.2,491.7 L186.4,492.7 L186.7,493.8 L186.9,494.8 L187.2,495.8 L187.5,496.8 L187.7,497.8 L188,498.7 L188.2,499.7 L188.5,500.7 L188.8,501.6 L189,502.6 L189.3,503.5 L189.6,504.5 L189.8,505.4 L190.1,506.3 L190.3,507.2 L190.6,508.1 L190.9,509.1 L191.1,510 L191.4,510.8 L191.7,511.7 L191.9,512.6 L192.2,513.5 L192.4,514.3 L192.7,515.2 L193,516.1 L193.2,516.9 L193.5,517.7 L193.7,518.6 L194,519.4 L194.3,520.2 L194.5,521 L194.8,521.9 L195.1,522.7 L195.3,523.5 L195.6,524.3 L195.8,525 L196.1,525.8 L196.4,526.6 L196.6,527.4 L196.9,528.1 L197.1,528.9 L197.5,529.8 L197.8,530.8 L198.1,531.7 L198.5,532.6 L198.8,533.5 L199.1,534.4 L199.4,535.3 L199.8,536.2 L200.1,537 L200.4,537.9 L200.7,538.8 L201.1,539.6 L201.4,540.5 L201.7,541.3 L202.1,542.1 L202.4,542.9 L202.7,543.7 L203,544.5 L203.4,545.3 L203.7,546.1 L204,546.9 L204.3,547.7 L204.7,548.4 L205,549.2 L205.3,549.9 L205.7,550.7 L206,551.4 L206.4,552.3 L206.8,553.1 L207.2,554 L207.5,554.8 L207.9,555.7 L208.3,556.5 L208.7,557.3 L209.1,558.1 L209.5,558.9 L209.9,559.7 L210.3,560.5 L210.7,561.2 L211.1,562 L211.5,562.7 L211.9,563.5 L212.3,564.2 L212.6,564.9 L213,565.7 L213.4,566.4 L213.8,567.1 L214.3,567.9 L214.7,568.7 L215.2,569.4 L215.7,570.2 L216.1,571 L216.6,571.7 L217,572.5 L217.5,573.2 L217.9,573.9 L218.4,574.6 L218.9,575.3 L219.3,576 L219.8,576.7 L220.2,577.3 L220.7,578 L221.2,578.7 L221.7,579.5 L222.3,580.2 L222.8,580.9 L223.3,581.6 L223.8,582.3 L224.4,582.9 L224.9,583.6 L225.4,584.2 L225.9,584.9 L226.5,585.5 L227,586.1 L227.6,586.8 L228.2,587.4 L228.7,588.1 L229.3,588.7 L229.9,589.4 L230.5,590 L231.1,590.6 L231.7,591.2 L232.3,591.8 L232.9,592.3 L233.5,592.9 L234,593.4 L234.7,594 L235.3,594.6 L236,595.2 L236.7,595.7 L237.3,596.3 L238,596.8 L238.6,597.3 L239.3,597.8 L239.9,598.3 L240.6,598.8 L241.2,599.3 L242,599.8 L242.7,600.2 L243.4,600.7 L244.1,601.2 L244.8,601.6 L245.6,602.1 L246.3,602.5 L247,602.9 L247.7,603.3 L248.4,603.7 L249.2,604.1 L249.9,604.5 L250.6,604.8 L251.3,605.2 L252.1,605.6 L252.9,605.9 L253.7,606.3 L254.5,606.6 L255.2,606.9 L256,607.2 L256.8,607.5 L257.6,607.8 L258.4,608.1 L259.2,608.4 L259.9,608.7 L260.7,608.9 L261.5,609.2 L262.3,609.4 L263.1,609.6 L263.9,609.8 L264.7,610.1 L265.4,610.3 L266.2,610.5 L267,610.6 L267.8,610.8 L268.6,611 L269.4,611.2 L270.2,611.3 L271,611.5 L271.9,611.6 L272.7,611.8 L273.6,611.9 L274.4,612.1 L275.3,612.2 L276.1,612.3 L277,612.4 L277.8,612.5 L278.7,612.6 L279.5,612.7 L280.4,612.8 L281.2,612.9 L282.1,613 L282.9,613 L283.8,613.1 L284.6,613.2 L285.5,613.2 L286.3,613.3 L287.2,613.3 L288,613.4 L288.9,613.4 L289.7,613.4 L290.6,613.5 L291.4,613.5 L292.3,613.5 L293.1,613.5 L294,613.6 L294.8,613.6 L295.7,613.6 L296.5,613.6 L297.4,613.6 L298.2,613.6 L299.1,613.6 L299.9,613.6 L300.8,613.6 L301.6,613.6 L302.5,613.5 L303.3,613.5 L304.2,613.5 L305,613.5 L305.9,613.5 L306.7,613.4 L307.6,613.4 L308.4,613.4 L309.3,613.4 L310.1,613.3 L311,613.3 L311.8,613.2 L312.7,613.2 L313.5,613.2 L314.4,613.1 L315.2,613.1 L316.1,613 L316.9,613 L317.8,613 L318.6,612.9 L319.5,612.9 L320.3,612.8 L321.2,612.8 L322,612.7 L322.9,612.7 L323.7,612.6 L324.6,612.6 L325.4,612.5 L326.3,612.4 L327.1,612.4 L328,612.3 L328.8,612.3 L329.7,612.2 L330.5,612.2 L331.4,612.1 L332.2,612 L333.1,612 L333.9,611.9 L334.8,611.9 L335.6,611.8 L336.5,611.8 L337.3,611.7 L338.2,611.6 L339,611.6 L339.9,611.5 L340.7,611.5 L341.6,611.4 L342.4,611.3 L343.3,611.3 L344.1,611.2 L345,611.2 L345.8,611.1 L346.7,611 L347.5,611 L348.4,610.9 L349.2,610.9 L350.1,610.8 L350.9,610.7 L351.8,610.7 L352.6,610.6 L353.5,610.6 L354.3,610.5 L355.2,610.5 L356,610.4 L356.9,610.3 L357.7,610.3 L358.6,610.2 L359.4,610.2 L360.3,610.1 L361.1,610.1 L362,610 L362.8,610 L363.7,609.9 L364.5,609.8 L365.4,609.8 L366.2,609.7 L367.1,609.7 L367.9,609.6 L368.8,609.6 L369.6,609.5 L370.5,609.5 L371.4,609.4 L372.2,609.4 L373.1,609.3 L373.9,609.3 L374.8,609.2 L375.6,609.2 L376.5,609.1 L377.3,609.1 L378.2,609.1 L379,609 L379.9,609 L380.7,608.9 L381.6,608.9 L382.4,608.8 L383.3,608.8 L384.1,608.8 L385,608.7 L385.8,608.7 L386.7,608.6 L387.5,608.6 L388.4,608.5 L389.2,608.5 L390.1,608.5 L390.9,608.4 L391.8,608.4 L392.6,608.4 L393.5,608.3 L394.3,608.3 L395.2,608.2 L396,608.2 L396.9,608.2 L397.7,608.1 L398.6,608.1 L399.4,608.1 L400.3,608 L401.1,608 L402,608 L402.8,608 L403.7,607.9 L404.5,607.9 L405.4,607.9 L406.2,607.8 L407.1,607.8 L407.9,607.8 L408.8,607.7 L409.6,607.7 L410.5,607.7 L411.3,607.7 L412.2,607.6 L413,607.6 L413.9,607.6 L414.7,607.6 L415.6,607.5 L416.4,607.5 L417.3,607.5 L418.1,607.5 L419,607.4 L419.8,607.4 L420.7,607.4 L421.5,607.4 L422.4,607.3 L423.2,607.3 L424.1,607.3 L424.9,607.3 L425.8,607.3 L426.6,607.2 L427.5,607.2 L428.3,607.2 L429.2,607.2 L430,607.2 L430.9,607.1 L431.7,607.1 L432.6,607.1 L433.4,607.1 L434.3,607.1 L435.1,607.1 L436,607 L436.8,607 L437.7,607 L438.5,607 L439.4,607 L440.2,607 L441.1,606.9 L441.9,606.9 L442.8,606.9 L443.6,606.9 L444.5,606.9 L445.3,606.9 L446.2,606.8 L447,606.8 L447.9,606.8 L448.7,606.8 L449,606.8" stroke="#1414e6" stroke-width="2.4"/>
<path d="M148.5,351.9 L148.6,353 L148.7,354 L148.9,355 L149,356 L149.1,357 L149.3,358 L149.4,359 L149.5,360 L149.7,361 L149.8,362 L149.9,363 L150,363.9 L150.2,364.9 L150.3,365.9 L150.4,366.9 L150.6,367.8 L150.7,368.8 L150.8,369.7 L151,370.7 L151.1,371.7 L151.2,372.6 L151.4,373.5 L151.5,374.5 L151.6,375.4 L151.7,376.4 L151.9,377.3 L152,378.2 L152.1,379.1 L152.3,380.1 L152.4,381 L152.5,381.9 L152.7,382.8 L152.8,383.7 L152.9,384.6 L153.1,385.5 L153.2,386.4 L153.3,387.3 L153.4,388.2 L153.6,389.1 L153.7,390 L153.8,390.9 L154,391.7 L154.1,392.6 L154.2,393.5 L154.4,394.4 L154.5,395.2 L154.6,396.1 L154.8,397 L154.9,397.8 L155,398.7 L155.1,399.5 L155.3,400.4 L155.4,401.2 L155.5,402.1 L155.7,402.9 L155.8,403.7 L155.9,404.6 L156.1,405.4 L156.2,406.2 L156.3,407 L156.5,407.9 L156.6,408.7 L156.7,409.5 L156.8,410.3 L157,411.1 L157.1,411.9 L157.2,412.7 L157.4,413.5 L157.5,414.3 L157.6,415.1 L157.8,415.9 L158,417.1 L158.2,418.3 L158.4,419.4 L158.6,420.6 L158.7,421.7 L158.9,422.9 L159.1,424 L159.3,425.2 L159.5,426.3 L159.7,427.4 L159.9,428.5 L160.1,429.7 L160.3,430.8 L160.5,431.9 L160.7,432.9 L160.9,434 L161.1,435.1 L161.3,436.2 L161.5,437.3 L161.7,438.3 L161.9,439.4 L162.1,440.4 L162.3,441.5 L162.5,442.5 L162.7,443.6 L162.9,444.6 L163.1,445.6 L163.3,446.6 L163.5,447.6 L163.7,448.6 L163.8,449.6 L164,450.6 L164.2,451.6 L164.4,452.6 L164.6,453.6 L164.8,454.6 L165,455.5 L165.2,456.5 L165.4,457.4 L165.6,458.4 L165.8,459.3 L166,460.3 L166.2,461.2 L166.4,462.2 L166.6,463.1 L166.8,464 L167,464.9 L167.2,465.8 L167.4,466.7 L167.6,467.6 L167.8,468.5 L168,469.4 L168.2,470.3 L168.4,471.2 L168.6,472 L168.8,472.9 L169,473.8 L169.1,474.6 L169.3,475.5 L169.5,476.3 L169.7,477.2 L169.9,478 L170.1,478.9 L170.3,479.7 L170.5,480.5 L170.7,481.3 L170.9,482.2 L171.1,483 L171.3,483.8 L171.5,484.6 L171.7,485.4 L171.9,486.2 L172.1,487 L172.3,487.8 L172.5,488.5 L172.7,489.3 L172.9,490.3 L173.2,491.4 L173.5,492.4 L173.7,493.4 L174,494.4 L174.3,495.4 L174.5,496.3 L174.8,497.3 L175,498.3 L175.3,499.2 L175.6,500.2 L175.8,501.1 L176.1,502.1 L176.3,503 L176.6,503.9 L176.9,504.8 L177.1,505.8 L177.4,506.7 L177.7,507.6 L177.9,508.4 L178.2,509.3 L178.4,510.2 L178.7,511.1 L179,511.9 L179.2,512.8 L179.5,513.6 L179.7,514.5 L180,515.3 L180.3,516.1 L180.5,517 L180.8,517.8 L181.1,518.6 L181.3,519.4 L181.6,520.2 L181.8,521 L182.1,521.8 L182.4,522.5 L182.6,523.3 L182.9,524.1 L183.1,524.8 L183.5,525.8 L183.8,526.7 L184.1,527.6 L184.5,528.5 L184.8,529.4 L185.1,530.3 L185.4,531.2 L185.8,532.1 L186.1,533 L186.4,533.8 L186.7,534.7 L187.1,535.5 L187.4,536.4 L187.7,537.2 L188.1,538 L188.4,538.8 L188.7,539.6 L189,540.4 L189.4,541.2 L189.7,542 L190,542.7 L190.3,543.5 L190.7,544.3 L191,545 L191.3,545.8 L191.7,546.5 L192,547.4 L192.4,548.2 L192.8,549.1 L193.2,549.9 L193.6,550.7 L194,551.5 L194.4,552.3 L194.8,553.1 L195.2,553.9 L195.6,554.7 L196,555.5 L196.4,556.2 L196.8,557 L197.1,557.7 L197.5,558.5 L197.9,559.2 L198.3,559.9 L198.7,560.6 L199.2,561.4 L199.6,562.2 L200.1,563 L200.5,563.8 L201,564.5 L201.5,565.3 L201.9,566 L202.4,566.7 L202.8,567.5 L203.3,568.2 L203.8,568.9 L204.2,569.5 L204.7,570.2 L205.1,570.9 L205.7,571.6 L206.2,572.4 L206.7,573.1 L207.2,573.8 L207.7,574.5 L208.3,575.2 L208.8,575.9 L209.3,576.5 L209.8,577.2 L210.4,577.8 L210.9,578.4 L211.4,579.1 L212,579.7 L212.6,580.4 L213.2,581.1 L213.8,581.7 L214.4,582.3 L214.9,582.9 L215.5,583.5 L216.1,584.1 L216.7,584.7 L217.3,585.3 L217.9,585.8 L218.5,586.4 L219.2,587 L219.8,587.6 L220.5,588.1 L221.2,588.7 L221.8,589.2 L222.5,589.7 L223.1,590.2 L223.8,590.7 L224.4,591.2 L225.1,591.7 L225.8,592.2 L226.5,592.7 L227.2,593.1 L228,593.6 L228.7,594.1 L229.4,594.5 L230.1,594.9 L230.8,595.3 L231.6,595.7 L232.3,596.1 L233,596.5 L233.7,596.9 L234.4,597.2 L235.2,597.6 L236,598 L236.8,598.3 L237.6,598.6 L238.4,599 L239.1,599.3 L239.9,599.6 L240.7,599.9 L241.5,600.2 L242.3,600.5 L243.1,600.7 L243.9,601 L244.6,601.2 L245.4,601.5 L246.2,601.7 L247,601.9 L247.8,602.1 L248.6,602.3 L249.3,602.5 L250.1,602.7 L250.9,602.9 L251.7,603 L252.5,603.2 L253.3,603.4 L254.1,603.5 L255,603.7 L255.8,603.8 L256.7,604 L257.5,604.1 L258.4,604.2 L259.2,604.3 L260.1,604.4 L260.9,604.5 L261.8,604.6 L262.6,604.7 L263.5,604.8 L264.3,604.9 L265.2,605 L266,605 L266.9,605.1 L267.7,605.2 L268.6,605.2 L269.4,605.3 L270.3,605.3 L271.1,605.4 L272,605.4 L272.8,605.4 L273.7,605.4 L274.5,605.5 L275.4,605.5 L276.2,605.5 L277.1,605.5 L277.9,605.5 L278.8,605.5 L279.6,605.5 L280.5,605.5 L281.3,605.5 L282.2,605.5 L283,605.5 L283.9,605.5 L284.7,605.5 L285.6,605.5 L286.4,605.5 L287.3,605.4 L288.1,605.4 L289,605.4 L289.8,605.4 L290.7,605.3 L291.5,605.3 L292.4,605.3 L293.2,605.2 L294.1,605.2 L294.9,605.2 L295.8,605.1 L296.6,605.1 L297.5,605 L298.3,605 L299.2,604.9 L300,604.9 L300.9,604.9 L301.7,604.8 L302.6,604.8 L303.4,604.7 L304.3,604.7 L305.1,604.6 L306,604.5 L306.8,604.5 L307.7,604.4 L308.6,604.4 L309.4,604.3 L310.3,604.3 L311.1,604.2 L312,604.2 L312.8,604.1 L313.7,604 L314.5,604 L315.4,603.9 L316.2,603.9 L317.1,603.8 L317.9,603.7 L318.8,603.7 L319.6,603.6 L320.5,603.6 L321.3,603.5 L322.2,603.4 L323,603.4 L323.9,603.3 L324.7,603.3 L325.6,603.2 L326.4,603.1 L327.3,603.1 L328.1,603 L329,603 L329.8,602.9 L330.7,602.8 L331.5,602.8 L332.4,602.7 L333.2,602.7 L334.1,602.6 L334.9,602.5 L335.8,602.5 L336.6,602.4 L337.5,602.4 L338.3,602.3 L339.2,602.2 L340,602.2 L340.9,602.1 L341.7,602.1 L342.6,602 L343.4,602 L344.3,601.9 L345.1,601.8 L346,601.8 L346.8,601.7 L347.7,601.7 L348.5,601.6 L349.4,601.6 L350.2,601.5 L351.1,601.5 L351.9,601.4 L352.8,601.4 L353.6,601.3 L354.5,601.3 L355.3,601.2 L356.2,601.1 L357,601.1 L357.9,601 L358.7,601 L359.6,600.9 L360.4,600.9 L361.3,600.8 L362.1,600.8 L363,600.8 L363.8,600.7 L364.7,600.7 L365.5,600.6 L366.4,600.6 L367.2,600.5 L368.1,600.5 L368.9,600.4 L369.8,600.4 L370.6,600.3 L371.5,600.3 L372.3,600.3 L373.2,600.2 L374,600.2 L374.9,600.1 L375.7,600.1 L376.6,600 L377.4,600 L378.3,600 L379.1,599.9 L380,599.9 L380.8,599.9 L381.7,599.8 L382.5,599.8 L383.4,599.7 L384.2,599.7 L385.1,599.7 L385.9,599.6 L386.8,599.6 L387.6,599.6 L388.5,599.5 L389.3,599.5 L390.2,599.5 L391,599.4 L391.9,599.4 L392.7,599.3 L393.6,599.3 L394.4,599.3 L395.3,599.3 L396.1,599.2 L397,599.2 L397.8,599.2 L398.7,599.1 L399.5,599.1 L400.4,599.1 L401.2,599 L402.1,599 L402.9,599 L403.8,598.9 L404.6,598.9 L405.5,598.9 L406.3,598.9 L407.2,598.8 L408,598.8 L408.9,598.8 L409.8,598.7 L410.6,598.7 L411.5,598.7 L412.3,598.7 L413.2,598.6 L414,598.6 L414.9,598.6 L415.7,598.6 L416.6,598.5 L417.4,598.5 L418.3,598.5 L419.1,598.5 L420,598.4 L420.8,598.4 L421.7,598.4 L422.5,598.4 L423.4,598.3 L424.2,598.3 L425.1,598.3 L425.9,598.3 L426.8,598.2 L427.6,598.2 L428.5,598.2 L429.3,598.2 L430.2,598.2 L431,598.1 L431.9,598.1 L432.7,598.1 L433.6,598.1 L434.4,598 L435.3,598 L436.1,598 L437,598 L437.8,597.9 L438.7,597.9 L439.5,597.9 L440.4,597.9 L441.2,597.9 L442.1,597.8 L442.9,597.8 L443.8,597.8 L444.6,597.8 L445.5,597.7 L446.3,597.7 L447.2,597.7 L448,597.7 L448.9,597.7 L449,597.7" stroke="#128c12" stroke-width="2.4"/>
<path d="M137.4,351.5 L137.6,352.6 L137.7,353.6 L137.8,354.7 L137.9,355.7 L138.1,356.8 L138.2,357.8 L138.3,358.8 L138.5,359.9 L138.6,360.9 L138.7,361.9 L138.9,362.9 L139,364 L139.1,365 L139.3,366 L139.4,367 L139.5,368 L139.6,369 L139.8,370 L139.9,370.9 L140,371.9 L140.2,372.9 L140.3,373.9 L140.4,374.9 L140.6,375.8 L140.7,376.8 L140.8,377.7 L141,378.7 L141.1,379.7 L141.2,380.6 L141.3,381.6 L141.5,382.5 L141.6,383.4 L141.7,384.4 L141.9,385.3 L142,386.2 L142.1,387.2 L142.3,388.1 L142.4,389 L142.5,389.9 L142.7,390.8 L142.8,391.7 L142.9,392.6 L143,393.5 L143.2,394.4 L143.3,395.3 L143.4,396.2 L143.6,397.1 L143.7,398 L143.8,398.9 L144,399.7 L144.1,400.6 L144.2,401.5 L144.4,402.3 L144.5,403.2 L144.6,404.1 L144.7,404.9 L144.9,405.8 L145,406.6 L145.1,407.5 L145.3,408.3 L145.4,409.2 L145.5,410 L145.7,410.8 L145.8,411.6 L145.9,412.5 L146.1,413.3 L146.2,414.1 L146.3,414.9 L146.4,415.7 L146.6,416.6 L146.7,417.4 L146.8,418.2 L147,419 L147.1,419.8 L147.2,420.6 L147.4,421.4 L147.6,422.5 L147.8,423.7 L148,424.9 L148.1,426 L148.3,427.2 L148.5,428.3 L148.7,429.5 L148.9,430.6 L149.1,431.7 L149.3,432.9 L149.5,434 L149.7,435.1 L149.9,436.2 L150.1,437.3 L150.3,438.4 L150.5,439.5 L150.7,440.5 L150.9,441.6 L151.1,442.7 L151.3,443.7 L151.5,444.8 L151.7,445.8 L151.9,446.9 L152.1,447.9 L152.3,448.9 L152.5,449.9 L152.7,451 L152.9,452 L153.1,453 L153.3,454 L153.4,454.9 L153.6,455.9 L153.8,456.9 L154,457.9 L154.2,458.8 L154.4,459.8 L154.6,460.8 L154.8,461.7 L155,462.7 L155.2,463.6 L155.4,464.5 L155.6,465.5 L155.8,466.4 L156,467.3 L156.2,468.2 L156.4,469.1 L156.6,470 L156.8,470.9 L157,471.8 L157.2,472.7 L157.4,473.6 L157.6,474.4 L157.8,475.3 L158,476.2 L158.2,477 L158.4,477.9 L158.6,478.7 L158.7,479.6 L158.9,480.4 L159.1,481.2 L159.3,482.1 L159.5,482.9 L159.7,483.7 L159.9,484.5 L160.1,485.3 L160.3,486.1 L160.5,486.9 L160.7,487.7 L160.9,488.5 L161.1,489.3 L161.3,490.1 L161.6,491.1 L161.8,492.1 L162.1,493.1 L162.3,494.1 L162.6,495.1 L162.9,496.1 L163.1,497.1 L163.4,498.1 L163.7,499 L163.9,500 L164.2,500.9 L164.4,501.9 L164.7,502.8 L165,503.7 L165.2,504.7 L165.5,505.6 L165.7,506.5 L166,507.4 L166.3,508.3 L166.5,509.1 L166.8,510 L167.1,510.9 L167.3,511.8 L167.6,512.6 L167.8,513.4 L168.1,514.3 L168.4,515.1 L168.6,515.9 L168.9,516.8 L169.1,517.6 L169.4,518.4 L169.7,519.2 L169.9,520 L170.2,520.8 L170.5,521.5 L170.7,522.3 L171,523.1 L171.2,523.8 L171.6,524.8 L171.9,525.7 L172.2,526.6 L172.5,527.5 L172.9,528.4 L173.2,529.3 L173.5,530.2 L173.9,531.1 L174.2,531.9 L174.5,532.8 L174.8,533.6 L175.2,534.5 L175.5,535.3 L175.8,536.1 L176.1,536.9 L176.5,537.7 L176.8,538.5 L177.1,539.3 L177.5,540.1 L177.8,540.9 L178.1,541.6 L178.4,542.4 L178.8,543.1 L179.1,543.8 L179.5,544.7 L179.9,545.6 L180.3,546.4 L180.7,547.3 L181.1,548.1 L181.4,548.9 L181.8,549.7 L182.2,550.5 L182.6,551.3 L183,552.1 L183.4,552.8 L183.8,553.6 L184.2,554.3 L184.6,555.1 L185,555.8 L185.4,556.5 L185.8,557.2 L186.2,558 L186.7,558.8 L187.1,559.6 L187.6,560.4 L188.1,561.1 L188.5,561.9 L189,562.6 L189.4,563.4 L189.9,564.1 L190.3,564.8 L190.8,565.5 L191.3,566.1 L191.7,566.8 L192.2,567.5 L192.7,568.2 L193.2,568.9 L193.7,569.7 L194.3,570.4 L194.8,571 L195.3,571.7 L195.8,572.4 L196.4,573 L196.9,573.7 L197.4,574.3 L197.9,574.9 L198.5,575.6 L199.1,576.2 L199.7,576.9 L200.3,577.5 L200.9,578.1 L201.5,578.7 L202.1,579.3 L202.6,579.9 L203.2,580.5 L203.8,581 L204.5,581.6 L205.1,582.2 L205.8,582.8 L206.4,583.3 L207.1,583.9 L207.7,584.4 L208.4,584.9 L209.1,585.4 L209.7,585.9 L210.4,586.4 L211,586.8 L211.7,587.3 L212.5,587.8 L213.2,588.3 L213.9,588.7 L214.6,589.2 L215.3,589.6 L216.1,590 L216.8,590.4 L217.5,590.8 L218.2,591.2 L218.9,591.5 L219.6,591.9 L220.4,592.3 L221.2,592.6 L222,593 L222.8,593.3 L223.6,593.6 L224.4,593.9 L225.1,594.2 L225.9,594.5 L226.7,594.8 L227.5,595 L228.3,595.3 L229.1,595.5 L229.9,595.8 L230.6,596 L231.4,596.2 L232.2,596.4 L233,596.6 L233.8,596.8 L234.6,597 L235.3,597.2 L236.1,597.3 L236.9,597.5 L237.8,597.7 L238.6,597.8 L239.5,598 L240.3,598.1 L241.2,598.2 L242,598.3 L242.9,598.5 L243.7,598.6 L244.6,598.7 L245.4,598.8 L246.3,598.8 L247.1,598.9 L248,599 L248.8,599.1 L249.7,599.1 L250.5,599.2 L251.4,599.2 L252.2,599.3 L253.1,599.3 L253.9,599.4 L254.8,599.4 L255.6,599.4 L256.5,599.5 L257.3,599.5 L258.2,599.5 L259,599.5 L259.9,599.5 L260.7,599.5 L261.6,599.5 L262.4,599.5 L263.3,599.5 L264.1,599.5 L265,599.5 L265.8,599.5 L266.7,599.5 L267.5,599.4 L268.4,599.4 L269.2,599.4 L270.1,599.4 L270.9,599.3 L271.8,599.3 L272.6,599.3 L273.5,599.2 L274.3,599.2 L275.2,599.1 L276,599.1 L276.9,599.1 L277.7,599 L278.6,599 L279.4,598.9 L280.3,598.9 L281.1,598.8 L282,598.8 L282.8,598.7 L283.7,598.7 L284.5,598.6 L285.4,598.6 L286.2,598.5 L287.1,598.4 L287.9,598.4 L288.8,598.3 L289.6,598.3 L290.5,598.2 L291.3,598.1 L292.2,598.1 L293,598 L293.9,597.9 L294.7,597.9 L295.6,597.8 L296.4,597.8 L297.3,597.7 L298.1,597.6 L299,597.6 L299.9,597.5 L300.7,597.4 L301.6,597.4 L302.4,597.3 L303.3,597.2 L304.1,597.2 L305,597.1 L305.8,597 L306.7,597 L307.5,596.9 L308.4,596.8 L309.2,596.8 L310.1,596.7 L310.9,596.6 L311.8,596.6 L312.6,596.5 L313.5,596.4 L314.3,596.4 L315.2,596.3 L316,596.2 L316.9,596.2 L317.7,596.1 L318.6,596 L319.4,596 L320.3,595.9 L321.1,595.9 L322,595.8 L322.8,595.7 L323.7,595.7 L324.5,595.6 L325.4,595.5 L326.2,595.5 L327.1,595.4 L327.9,595.4 L328.8,595.3 L329.6,595.2 L330.5,595.2 L331.3,595.1 L332.2,595.1 L333,595 L333.9,595 L334.7,594.9 L335.6,594.8 L336.4,594.8 L337.3,594.7 L338.1,594.7 L339,594.6 L339.8,594.6 L340.7,594.5 L341.5,594.5 L342.4,594.4 L343.2,594.4 L344.1,594.3 L344.9,594.2 L345.8,594.2 L346.6,594.1 L347.5,594.1 L348.3,594 L349.2,594 L350,594 L350.9,593.9 L351.7,593.9 L352.6,593.8 L353.4,593.8 L354.3,593.7 L355.1,593.7 L356,593.6 L356.8,593.6 L357.7,593.5 L358.5,593.5 L359.4,593.5 L360.2,593.4 L361.1,593.4 L361.9,593.3 L362.8,593.3 L363.6,593.2 L364.5,593.2 L365.3,593.2 L366.2,593.1 L367,593.1 L367.9,593.1 L368.7,593 L369.6,593 L370.4,592.9 L371.3,592.9 L372.1,592.9 L373,592.8 L373.8,592.8 L374.7,592.8 L375.5,592.7 L376.4,592.7 L377.2,592.7 L378.1,592.6 L378.9,592.6 L379.8,592.6 L380.6,592.5 L381.5,592.5 L382.3,592.5 L383.2,592.4 L384,592.4 L384.9,592.4 L385.7,592.3 L386.6,592.3 L387.4,592.3 L388.3,592.3 L389.1,592.2 L390,592.2 L390.8,592.2 L391.7,592.1 L392.5,592.1 L393.4,592.1 L394.2,592.1 L395.1,592 L395.9,592 L396.8,592 L397.6,592 L398.5,591.9 L399.3,591.9 L400.2,591.9 L401,591.9 L401.9,591.8 L402.8,591.8 L403.6,591.8 L404.5,591.8 L405.3,591.7 L406.2,591.7 L407,591.7 L407.9,591.7 L408.7,591.6 L409.6,591.6 L410.4,591.6 L411.3,591.6 L412.1,591.5 L413,591.5 L413.8,591.5 L414.7,591.5 L415.5,591.5 L416.4,591.4 L417.2,591.4 L418.1,591.4 L418.9,591.4 L419.8,591.4 L420.6,591.3 L421.5,591.3 L422.3,591.3 L423.2,591.3 L424,591.3 L424.9,591.2 L425.7,591.2 L426.6,591.2 L427.4,591.2 L428.3,591.2 L429.1,591.1 L430,591.1 L430.8,591.1 L431.7,591.1 L432.5,591.1 L433.4,591 L434.2,591 L435.1,591 L435.9,591 L436.8,591 L437.6,590.9 L438.5,590.9 L439.3,590.9 L440.2,590.9 L441,590.9 L441.9,590.8 L442.7,590.8 L443.6,590.8 L444.4,590.8 L445.3,590.8 L446.1,590.7 L447,590.7 L447.8,590.7 L448.7,590.7 L449,590.7" stroke="#e81e1e" stroke-width="2.4"/>
<path d="M132.7,351.7 L132.8,352.7 L133,353.7 L133.1,354.6 L133.2,355.6 L133.4,356.6 L133.5,357.5 L133.6,358.5 L133.8,359.4 L133.9,360.4 L134,361.3 L134.1,362.2 L134.3,363.2 L134.4,364.1 L134.5,365 L134.7,366 L134.8,366.9 L134.9,367.8 L135.1,368.7 L135.2,369.6 L135.3,370.5 L135.5,371.4 L135.6,372.3 L135.7,373.2 L135.9,374.1 L136,375 L136.1,375.9 L136.2,376.8 L136.4,377.6 L136.5,378.5 L136.6,379.4 L136.8,380.3 L136.9,381.1 L137,382 L137.2,382.8 L137.3,383.7 L137.4,384.6 L137.6,385.4 L137.7,386.3 L137.8,387.1 L137.9,387.9 L138.1,388.8 L138.2,389.6 L138.3,390.4 L138.5,391.3 L138.6,392.1 L138.7,392.9 L138.9,393.7 L139,394.5 L139.1,395.3 L139.3,396.1 L139.4,397 L139.5,397.8 L139.6,398.6 L139.8,399.3 L139.9,400.1 L140.1,401.3 L140.3,402.5 L140.5,403.7 L140.7,404.8 L140.9,406 L141.1,407.1 L141.3,408.3 L141.5,409.4 L141.7,410.5 L141.9,411.7 L142.1,412.8 L142.3,413.9 L142.5,415 L142.7,416.1 L142.9,417.2 L143,418.2 L143.2,419.3 L143.4,420.4 L143.6,421.5 L143.8,422.5 L144,423.6 L144.2,424.6 L144.4,425.6 L144.6,426.7 L144.8,427.7 L145,428.7 L145.2,429.7 L145.4,430.8 L145.6,431.8 L145.8,432.8 L146,433.7 L146.2,434.7 L146.4,435.7 L146.6,436.7 L146.8,437.6 L147,438.6 L147.2,439.6 L147.4,440.5 L147.6,441.5 L147.8,442.4 L148,443.3 L148.1,444.3 L148.3,445.2 L148.5,446.1 L148.7,447 L148.9,447.9 L149.1,448.8 L149.3,449.7 L149.5,450.6 L149.7,451.5 L149.9,452.4 L150.1,453.2 L150.3,454.1 L150.5,455 L150.7,455.8 L150.9,456.7 L151.1,457.5 L151.3,458.4 L151.5,459.2 L151.7,460.1 L151.9,460.9 L152.1,461.7 L152.3,462.5 L152.5,463.3 L152.7,464.1 L152.9,465 L153.1,465.8 L153.3,466.5 L153.4,467.3 L153.6,468.1 L153.8,468.9 L154.1,469.9 L154.4,471 L154.6,472 L154.9,473 L155.1,474 L155.4,475 L155.7,475.9 L155.9,476.9 L156.2,477.9 L156.5,478.8 L156.7,479.8 L157,480.7 L157.2,481.7 L157.5,482.6 L157.8,483.5 L158,484.4 L158.3,485.3 L158.6,486.2 L158.8,487.1 L159.1,488 L159.3,488.9 L159.6,489.8 L159.9,490.6 L160.1,491.5 L160.4,492.3 L160.6,493.2 L160.9,494 L161.2,494.8 L161.4,495.6 L161.7,496.5 L162,497.3 L162.2,498.1 L162.5,498.9 L162.7,499.6 L163,500.4 L163.3,501.2 L163.5,502 L163.8,502.7 L164.1,503.7 L164.4,504.6 L164.8,505.5 L165.1,506.4 L165.4,507.3 L165.7,508.2 L166.1,509.1 L166.4,510 L166.7,510.9 L167.1,511.7 L167.4,512.6 L167.7,513.4 L168,514.2 L168.4,515 L168.7,515.9 L169,516.7 L169.3,517.4 L169.7,518.2 L170,519 L170.3,519.8 L170.7,520.5 L171,521.3 L171.3,522 L171.6,522.8 L172,523.6 L172.4,524.5 L172.8,525.4 L173.2,526.2 L173.6,527 L174,527.8 L174.4,528.6 L174.8,529.4 L175.2,530.2 L175.6,531 L176,531.8 L176.3,532.5 L176.7,533.3 L177.1,534 L177.5,534.7 L177.9,535.4 L178.3,536.1 L178.8,536.9 L179.2,537.7 L179.7,538.5 L180.1,539.3 L180.6,540.1 L181.1,540.8 L181.5,541.5 L182,542.3 L182.4,543 L182.9,543.7 L183.3,544.4 L183.8,545.1 L184.3,545.7 L184.7,546.4 L185.2,547.1 L185.8,547.8 L186.3,548.5 L186.8,549.2 L187.3,549.9 L187.9,550.6 L188.4,551.3 L188.9,551.9 L189.4,552.5 L190,553.2 L190.5,553.8 L191.1,554.4 L191.7,555.1 L192.2,555.7 L192.8,556.4 L193.4,557 L194,557.6 L194.6,558.2 L195.2,558.7 L195.8,559.3 L196.4,559.8 L197,560.4 L197.7,561 L198.3,561.6 L199,562.1 L199.6,562.7 L200.3,563.2 L200.9,563.7 L201.6,564.2 L202.2,564.7 L202.9,565.1 L203.6,565.6 L204.3,566.1 L205.1,566.6 L205.8,567.1 L206.5,567.5 L207.2,567.9 L207.9,568.3 L208.7,568.7 L209.4,569.1 L210.1,569.5 L210.8,569.9 L211.5,570.2 L212.3,570.6 L213.1,571 L213.9,571.3 L214.7,571.6 L215.5,572 L216.2,572.3 L217,572.6 L217.8,572.9 L218.6,573.1 L219.4,573.4 L220.2,573.6 L221,573.9 L221.7,574.1 L222.5,574.3 L223.3,574.5 L224.1,574.8 L224.9,574.9 L225.7,575.1 L226.5,575.3 L227.2,575.5 L228,575.6 L228.9,575.8 L229.7,576 L230.6,576.1 L231.4,576.2 L232.3,576.4 L233.1,576.5 L234,576.6 L234.8,576.7 L235.7,576.8 L236.5,576.9 L237.4,577 L238.2,577.1 L239.1,577.1 L239.9,577.2 L240.8,577.3 L241.6,577.3 L242.5,577.4 L243.3,577.4 L244.2,577.5 L245,577.5 L245.9,577.5 L246.7,577.6 L247.6,577.6 L248.4,577.6 L249.3,577.6 L250.1,577.6 L251,577.6 L251.8,577.6 L252.7,577.6 L253.5,577.6 L254.4,577.6 L255.2,577.6 L256.1,577.6 L256.9,577.5 L257.8,577.5 L258.6,577.5 L259.5,577.5 L260.3,577.4 L261.2,577.4 L262,577.4 L262.9,577.3 L263.7,577.3 L264.6,577.2 L265.4,577.2 L266.3,577.1 L267.1,577.1 L268,577.1 L268.8,577 L269.7,576.9 L270.5,576.9 L271.4,576.8 L272.2,576.8 L273.1,576.7 L273.9,576.7 L274.8,576.6 L275.6,576.5 L276.5,576.5 L277.3,576.4 L278.2,576.4 L279,576.3 L279.9,576.2 L280.7,576.2 L281.6,576.1 L282.4,576 L283.3,576 L284.2,575.9 L285,575.8 L285.9,575.8 L286.7,575.7 L287.6,575.6 L288.4,575.5 L289.3,575.5 L290.1,575.4 L291,575.3 L291.8,575.3 L292.7,575.2 L293.5,575.1 L294.4,575.1 L295.2,575 L296.1,574.9 L296.9,574.8 L297.8,574.8 L298.6,574.7 L299.5,574.6 L300.3,574.6 L301.2,574.5 L302,574.4 L302.9,574.4 L303.7,574.3 L304.6,574.2 L305.4,574.1 L306.3,574.1 L307.1,574 L308,573.9 L308.8,573.9 L309.7,573.8 L310.5,573.7 L311.4,573.7 L312.2,573.6 L313.1,573.5 L313.9,573.5 L314.8,573.4 L315.6,573.4 L316.5,573.3 L317.3,573.2 L318.2,573.2 L319,573.1 L319.9,573 L320.7,573 L321.6,572.9 L322.4,572.9 L323.3,572.8 L324.1,572.7 L325,572.7 L325.8,572.6 L326.7,572.6 L327.5,572.5 L328.4,572.5 L329.2,572.4 L330.1,572.3 L330.9,572.3 L331.8,572.2 L332.6,572.2 L333.5,572.1 L334.3,572.1 L335.2,572 L336,572 L336.9,571.9 L337.7,571.9 L338.6,571.8 L339.4,571.8 L340.3,571.7 L341.1,571.7 L342,571.6 L342.8,571.6 L343.7,571.5 L344.5,571.5 L345.4,571.5 L346.2,571.4 L347.1,571.4 L347.9,571.3 L348.8,571.3 L349.6,571.2 L350.5,571.2 L351.3,571.2 L352.2,571.1 L353,571.1 L353.9,571 L354.7,571 L355.6,571 L356.4,570.9 L357.3,570.9 L358.1,570.8 L359,570.8 L359.8,570.8 L360.7,570.7 L361.5,570.7 L362.4,570.7 L363.2,570.6 L364.1,570.6 L364.9,570.6 L365.8,570.5 L366.6,570.5 L367.5,570.5 L368.3,570.4 L369.2,570.4 L370,570.4 L370.9,570.3 L371.7,570.3 L372.6,570.3 L373.4,570.2 L374.3,570.2 L375.1,570.2 L376,570.2 L376.8,570.1 L377.7,570.1 L378.5,570.1 L379.4,570 L380.2,570 L381.1,570 L381.9,570 L382.8,569.9 L383.6,569.9 L384.5,569.9 L385.3,569.8 L386.2,569.8 L387.1,569.8 L387.9,569.8 L388.8,569.7 L389.6,569.7 L390.5,569.7 L391.3,569.7 L392.2,569.6 L393,569.6 L393.9,569.6 L394.7,569.6 L395.6,569.6 L396.4,569.5 L397.3,569.5 L398.1,569.5 L399,569.5 L399.8,569.4 L400.7,569.4 L401.5,569.4 L402.4,569.4 L403.2,569.3 L404.1,569.3 L404.9,569.3 L405.8,569.3 L406.6,569.3 L407.5,569.2 L408.3,569.2 L409.2,569.2 L410,569.2 L410.9,569.1 L411.7,569.1 L412.6,569.1 L413.4,569.1 L414.3,569.1 L415.1,569 L416,569 L416.8,569 L417.7,569 L418.5,568.9 L419.4,568.9 L420.2,568.9 L421.1,568.9 L421.9,568.9 L422.8,568.8 L423.6,568.8 L424.5,568.8 L425.3,568.8 L426.2,568.7 L427,568.7 L427.9,568.7 L428.7,568.7 L429.6,568.6 L430.4,568.6 L431.3,568.6 L432.1,568.6 L433,568.6 L433.8,568.5 L434.7,568.5 L435.5,568.5 L436.4,568.5 L437.2,568.4 L438.1,568.4 L438.9,568.4 L439.8,568.4 L440.6,568.3 L441.5,568.3 L442.3,568.3 L443.2,568.2 L444,568.2 L444.9,568.2 L445.7,568.2 L446.6,568.1 L447.4,568.1 L448.3,568.1 L449,568.1" stroke="#000" stroke-width="2.4"/>
</g>
<path d="M56.5,631v-7.5M56.5,355.5v7.5M69.6,631v-3.8M69.6,355.5v3.8M82.7,631v-3.8M82.7,355.5v3.8M95.7,631v-3.8M95.7,355.5v3.8M108.8,631v-3.8M108.8,355.5v3.8M121.9,631v-7.5M121.9,355.5v7.5M135,631v-3.8M135,355.5v3.8M148.1,631v-3.8M148.1,355.5v3.8M161.2,631v-3.8M161.2,355.5v3.8M174.2,631v-3.8M174.2,355.5v3.8M187.3,631v-7.5M187.3,355.5v7.5M200.4,631v-3.8M200.4,355.5v3.8M213.5,631v-3.8M213.5,355.5v3.8M226.6,631v-3.8M226.6,355.5v3.8M239.7,631v-3.8M239.7,355.5v3.8M252.8,631v-7.5M252.8,355.5v7.5M265.8,631v-3.8M265.8,355.5v3.8M278.9,631v-3.8M278.9,355.5v3.8M292,631v-3.8M292,355.5v3.8M305.1,631v-3.8M305.1,355.5v3.8M318.2,631v-7.5M318.2,355.5v7.5M331.2,631v-3.8M331.2,355.5v3.8M344.3,631v-3.8M344.3,355.5v3.8M357.4,631v-3.8M357.4,355.5v3.8M370.5,631v-3.8M370.5,355.5v3.8M383.6,631v-7.5M383.6,355.5v7.5M396.7,631v-3.8M396.7,355.5v3.8M409.8,631v-3.8M409.8,355.5v3.8M422.8,631v-3.8M422.8,355.5v3.8M435.9,631v-3.8M435.9,355.5v3.8M449,631v-7.5M449,355.5v7.5M56.5,355.5h7.5M449,355.5h-7.5M56.5,362.4h3.8M449,362.4h-3.8M56.5,369.3h3.8M449,369.3h-3.8M56.5,376.2h3.8M449,376.2h-3.8M56.5,383.1h7.5M449,383.1h-7.5M56.5,389.9h3.8M449,389.9h-3.8M56.5,396.8h3.8M449,396.8h-3.8M56.5,403.7h3.8M449,403.7h-3.8M56.5,410.6h7.5M449,410.6h-7.5M56.5,417.5h3.8M449,417.5h-3.8M56.5,424.4h3.8M449,424.4h-3.8M56.5,431.3h3.8M449,431.3h-3.8M56.5,438.1h7.5M449,438.1h-7.5M56.5,445h3.8M449,445h-3.8M56.5,451.9h3.8M449,451.9h-3.8M56.5,458.8h3.8M449,458.8h-3.8M56.5,465.7h7.5M449,465.7h-7.5M56.5,472.6h3.8M449,472.6h-3.8M56.5,479.5h3.8M449,479.5h-3.8M56.5,486.4h3.8M449,486.4h-3.8M56.5,493.2h7.5M449,493.2h-7.5M56.5,500.1h3.8M449,500.1h-3.8M56.5,507h3.8M449,507h-3.8M56.5,513.9h3.8M449,513.9h-3.8M56.5,520.8h7.5M449,520.8h-7.5M56.5,527.7h3.8M449,527.7h-3.8M56.5,534.6h3.8M449,534.6h-3.8M56.5,541.5h3.8M449,541.5h-3.8M56.5,548.4h7.5M449,548.4h-7.5M56.5,555.2h3.8M449,555.2h-3.8M56.5,562.1h3.8M449,562.1h-3.8M56.5,569h3.8M449,569h-3.8M56.5,575.9h7.5M449,575.9h-7.5M56.5,582.8h3.8M449,582.8h-3.8M56.5,589.7h3.8M449,589.7h-3.8M56.5,596.6h3.8M449,596.6h-3.8M56.5,603.5h7.5M449,603.5h-7.5M56.5,610.3h3.8M449,610.3h-3.8M56.5,617.2h3.8M449,617.2h-3.8M56.5,624.1h3.8M449,624.1h-3.8M56.5,631h7.5M449,631h-7.5" stroke="#262626" stroke-width="1.3" fill="none"/>
<rect x="56.5" y="355.5" width="392.5" height="275.5" fill="none" stroke="#262626" stroke-width="1.6"/>
<text x="52.2" y="361" text-anchor="end" font-family="'Liberation Sans', Arial, Helvetica, sans-serif" font-size="15.5" fill="#1a1a1a">0</text>
<text x="52.2" y="388.6" text-anchor="end" font-family="'Liberation Sans', Arial, Helvetica, sans-serif" font-size="15.5" fill="#1a1a1a">-1</text>
<text x="52.2" y="416.1" text-anchor="end" font-family="'Liberation Sans', Arial, Helvetica, sans-serif" font-size="15.5" fill="#1a1a1a">-2</text>
<text x="52.2" y="443.6" text-anchor="end" font-family="'Liberation Sans', Arial, Helvetica, sans-serif" font-size="15.5" fill="#1a1a1a">-3</text>
<text x="52.2" y="471.2" text-anchor="end" font-family="'Liberation Sans', Arial, Helvetica, sans-serif" font-size="15.5" fill="#1a1a1a">-4</text>
<text x="52.2" y="498.8" text-anchor="end" font-family="'Liberation Sans', Arial, Helvetica, sans-serif" font-size="15.5" fill="#1a1a1a">-5</text>
<text x="52.2" y="526.3" text-anchor="end" font-family="'Liberation Sans', Arial, Helvetica, sans-serif" font-size="15.5" fill="#1a1a1a">-6</text>
<text x="52.2" y="553.9" text-anchor="end" font-family="'Liberation Sans', Arial, Helvetica, sans-serif" font-size="15.5" fill="#1a1a1a">-7</text>
<text x="52.2" y="581.4" text-anchor="end" font-family="'Liberation Sans', Arial, Helvetica, sans-serif" font-size="15.5" fill="#1a1a1a">-8</text>
<text x="52.2" y="609" text-anchor="end" font-family="'Liberation Sans', Arial, Helvetica, sans-serif" font-size="15.5" fill="#1a1a1a">-9</text>
<text x="52.2" y="636.5" text-anchor="end" font-family="'Liberation Sans', Arial, Helvetica, sans-serif" font-size="15.5" fill="#1a1a1a">-10</text>
<text x="56.5" y="647.2" text-anchor="middle" font-family="'Liberation Sans', Arial, Helvetica, sans-serif" font-size="16" fill="#1a1a1a">2</text>
<text x="121.9" y="647.2" text-anchor="middle" font-family="'Liberation Sans', Arial, Helvetica, sans-serif" font-size="16" fill="#1a1a1a">2,5</text>
<text x="187.3" y="647.2" text-anchor="middle" font-family="'Liberation Sans', Arial, Helvetica, sans-serif" font-size="16" fill="#1a1a1a">3</text>
<text x="252.8" y="647.2" text-anchor="middle" font-family="'Liberation Sans', Arial, Helvetica, sans-serif" font-size="16" fill="#1a1a1a">3,5</text>
<text x="318.2" y="647.2" text-anchor="middle" font-family="'Liberation Sans', Arial, Helvetica, sans-serif" font-size="16" fill="#1a1a1a">4</text>
<text x="383.6" y="647.2" text-anchor="middle" font-family="'Liberation Sans', Arial, Helvetica, sans-serif" font-size="16" fill="#1a1a1a">4,5</text>
<text x="449" y="647.2" text-anchor="middle" font-family="'Liberation Sans', Arial, Helvetica, sans-serif" font-size="16" fill="#1a1a1a">5</text>
<text x="252.2" y="668.9" text-anchor="middle" font-family="'Liberation Sans', Arial, Helvetica, sans-serif" font-size="16.45" fill="#1a1a1a">Coronene stacking distance (Å)</text>
<text transform="translate(21.3 492.6) rotate(-90)" text-anchor="middle" font-family="'Liberation Sans', Arial, Helvetica, sans-serif" font-size="17" fill="#1a1a1a">Cohesive energy (eV/molecule)</text>
<text x="73.4" y="421.7" font-family="'Liberation Sans', Arial, Helvetica, sans-serif" font-weight="bold" font-size="11" fill="#1414e0">TILT / ROT</text>
<path d="M68,435.9H85" stroke="#000" stroke-width="2"/>
<text x="92.8" y="442.2" font-family="'Liberation Sans', Arial, Helvetica, sans-serif" font-weight="bold" font-size="11" fill="#1a1a1a">15<tspan font-size="7.5" dy="-5">o</tspan><tspan dy="5"> / 30</tspan><tspan font-size="7.5" dy="-5">o</tspan></text>
<path d="M68,451H85" stroke="#e81e1e" stroke-width="2"/>
<text x="92.8" y="457.3" font-family="'Liberation Sans', Arial, Helvetica, sans-serif" font-weight="bold" font-size="11" fill="#1a1a1a">20<tspan font-size="7.5" dy="-5">o</tspan><tspan dy="5"> / 30</tspan><tspan font-size="7.5" dy="-5">o</tspan></text>
<path d="M68,466.1H85" stroke="#128c12" stroke-width="2"/>
<text x="92.8" y="472.4" font-family="'Liberation Sans', Arial, Helvetica, sans-serif" font-weight="bold" font-size="11" fill="#1a1a1a">25<tspan font-size="7.5" dy="-5">o</tspan><tspan dy="5"> / 30</tspan><tspan font-size="7.5" dy="-5">o</tspan></text>
<path d="M68,481.2H85" stroke="#1414e6" stroke-width="2"/>
<text x="92.8" y="487.5" font-family="'Liberation Sans', Arial, Helvetica, sans-serif" font-weight="bold" font-size="11" fill="#1a1a1a">30<tspan font-size="7.5" dy="-5">o</tspan><tspan dy="5"> / 30</tspan><tspan font-size="7.5" dy="-5">o</tspan></text>
<path d="M68,496.3H85" stroke="#8a1ed2" stroke-width="2"/>
<text x="92.8" y="502.6" font-family="'Liberation Sans', Arial, Helvetica, sans-serif" font-weight="bold" font-size="11" fill="#1a1a1a">35<tspan font-size="7.5" dy="-5">o</tspan><tspan dy="5"> / 30</tspan><tspan font-size="7.5" dy="-5">o</tspan></text>
<path d="M68,511.4H85" stroke="#e81ee8" stroke-width="2"/>
<text x="92.8" y="517.7" font-family="'Liberation Sans', Arial, Helvetica, sans-serif" font-weight="bold" font-size="11" fill="#1a1a1a">40<tspan font-size="7.5" dy="-5">o</tspan><tspan dy="5"> / 30</tspan><tspan font-size="7.5" dy="-5">o</tspan></text>
<path d="M68.5,526.5H85" stroke="#000" stroke-width="2" stroke-dasharray="1.6 5" />
<text x="92.8" y="532.8" font-family="'Liberation Sans', Arial, Helvetica, sans-serif" font-weight="bold" font-size="11" fill="#1a1a1a">45<tspan font-size="7.5" dy="-5">o</tspan><tspan dy="5"> / 0</tspan><tspan font-size="7.5" dy="-5">o</tspan></text>
<path d="M68,541.6H85" stroke="#f0a020" stroke-width="2"/>
<text x="92.8" y="544.7" font-family="'Liberation Sans', Arial, Helvetica, sans-serif" font-weight="bold" font-size="11" fill="#1a1a1a">T-shape</text>
<rect x="311.3" y="375.4" width="117.7" height="78.2" fill="#fff"/>
<g clip-path="url(#insclip)" fill="none">
<path d="M311.3,378.5 C315.2,380.4 319.1,383 323,384.3 C326.5,385.5 329.7,386.1 333.3,386.2 C337.4,386.3 342,385.1 346.3,384.3 C350.6,383.4 355.1,382.1 359.2,381.1 C363,380.2 366.4,379.5 370,378.5 C373.8,377.5 377.9,376.2 381.6,374.9 C385.2,373.7 388.5,372.3 392,371" stroke="#128c12" stroke-width="2.6"/>
<path d="M359,371 C360.7,373.3 362,375.7 364,378 C366.4,380.6 369.3,383.4 372.6,385.7 C376.2,388.2 380.3,390.9 384.7,392.4 C389.3,394 394.8,394.6 399.8,394.8 C404.8,395 410,394.6 414.9,393.9 C419.7,393.2 424.3,391.6 429,390.4" stroke="#e81ee8" stroke-width="2.6"/>
<path d="M311.3,390.1 C313.5,393.2 315.6,396.3 318,399.5 C320.5,402.8 323.3,407.2 326.2,409.6 C328.5,411.5 330.7,412.5 333.3,413.5 C336.1,414.6 339.2,415.5 342.4,416 C346,416.6 349.8,417 354,416.7 C358.9,416.4 364.4,414.9 370,413.5 C376.5,411.9 383.5,409.3 390.7,407.5 C398.4,405.6 407.9,403.9 414.9,402.3 C420.2,401.1 424.3,400 429,398.9" stroke="#1414e6" stroke-width="2.6"/>
<path d="M312.5,370 C313,371.5 313.2,372.6 313.9,374.6 C315.2,378.5 318,386.2 320,392 C322.1,397.9 323.7,403.7 326.2,409.6 C328.9,416 331.8,423.7 335.9,429 C339.6,433.8 344.1,437.8 348.9,440.7 C353.6,443.6 359.6,445.5 364.4,446.5 C368.4,447.3 371.6,447.3 375.6,447.2 C380.3,447.1 385.1,446.5 390.7,445.6 C397.9,444.4 407.9,441.9 414.9,440.1 C420.3,438.7 424.3,437.2 429,435.8" stroke="#8a1ed2" stroke-width="2.6"/>
</g>
<path d="M373.5,384.3V452.5" stroke="#111" stroke-width="1.4" stroke-dasharray="5.6 3.1" fill="none"/>
<text x="377.6" y="431.5" font-family="'Liberation Sans', Arial, Helvetica, sans-serif" font-size="11.5" fill="#1a1a1a">d<tspan font-size="8.2" dy="4">eq</tspan></text>
<path d="M311.3,453.6v-5.5M311.3,375.4v5.5M323.1,453.6v-3.5M323.1,375.4v3.5M334.8,453.6v-3.5M334.8,375.4v3.5M346.6,453.6v-3.5M346.6,375.4v3.5M358.4,453.6v-3.5M358.4,375.4v3.5M370.1,453.6v-5.5M370.1,375.4v5.5M381.9,453.6v-3.5M381.9,375.4v3.5M393.7,453.6v-3.5M393.7,375.4v3.5M405.5,453.6v-3.5M405.5,375.4v3.5M417.2,453.6v-3.5M417.2,375.4v3.5M429,453.6v-5.5M429,375.4v5.5M311.3,375.4h5.5M429,375.4h-5.5M311.3,380.6h3.5M429,380.6h-3.5M311.3,385.8h3.5M429,385.8h-3.5M311.3,391h3.5M429,391h-3.5M311.3,396.3h3.5M429,396.3h-3.5M311.3,401.5h5.5M429,401.5h-5.5M311.3,406.7h3.5M429,406.7h-3.5M311.3,411.9h3.5M429,411.9h-3.5M311.3,417.1h3.5M429,417.1h-3.5M311.3,422.3h3.5M429,422.3h-3.5M311.3,427.5h5.5M429,427.5h-5.5M311.3,432.7h3.5M429,432.7h-3.5M311.3,438h3.5M429,438h-3.5M311.3,443.2h3.5M429,443.2h-3.5M311.3,448.4h3.5M429,448.4h-3.5M311.3,453.6h5.5M429,453.6h-5.5" stroke="#262626" stroke-width="1.2" fill="none"/>
<rect x="311.3" y="375.4" width="117.7" height="78.2" fill="none" stroke="#262626" stroke-width="1.5"/>
<text x="308.3" y="379.3" text-anchor="end" font-family="'Liberation Sans', Arial, Helvetica, sans-serif" font-size="11" fill="#1a1a1a">-9</text>
<text x="308.3" y="405.4" text-anchor="end" font-family="'Liberation Sans', Arial, Helvetica, sans-serif" font-size="11" fill="#1a1a1a">-9,25</text>
<text x="308.3" y="431.4" text-anchor="end" font-family="'Liberation Sans', Arial, Helvetica, sans-serif" font-size="11" fill="#1a1a1a">-9,5</text>
<text x="308.3" y="457.5" text-anchor="end" font-family="'Liberation Sans', Arial, Helvetica, sans-serif" font-size="11" fill="#1a1a1a">-9,75</text>
<text x="311.3" y="465.4" text-anchor="middle" font-family="'Liberation Sans', Arial, Helvetica, sans-serif" font-size="11" fill="#1a1a1a">3,5</text>
<text x="370.1" y="465.4" text-anchor="middle" font-family="'Liberation Sans', Arial, Helvetica, sans-serif" font-size="11" fill="#1a1a1a">4</text>
<text x="429" y="465.4" text-anchor="middle" font-family="'Liberation Sans', Arial, Helvetica, sans-serif" font-size="11" fill="#1a1a1a">4,5</text>
</svg>
</body></html>
